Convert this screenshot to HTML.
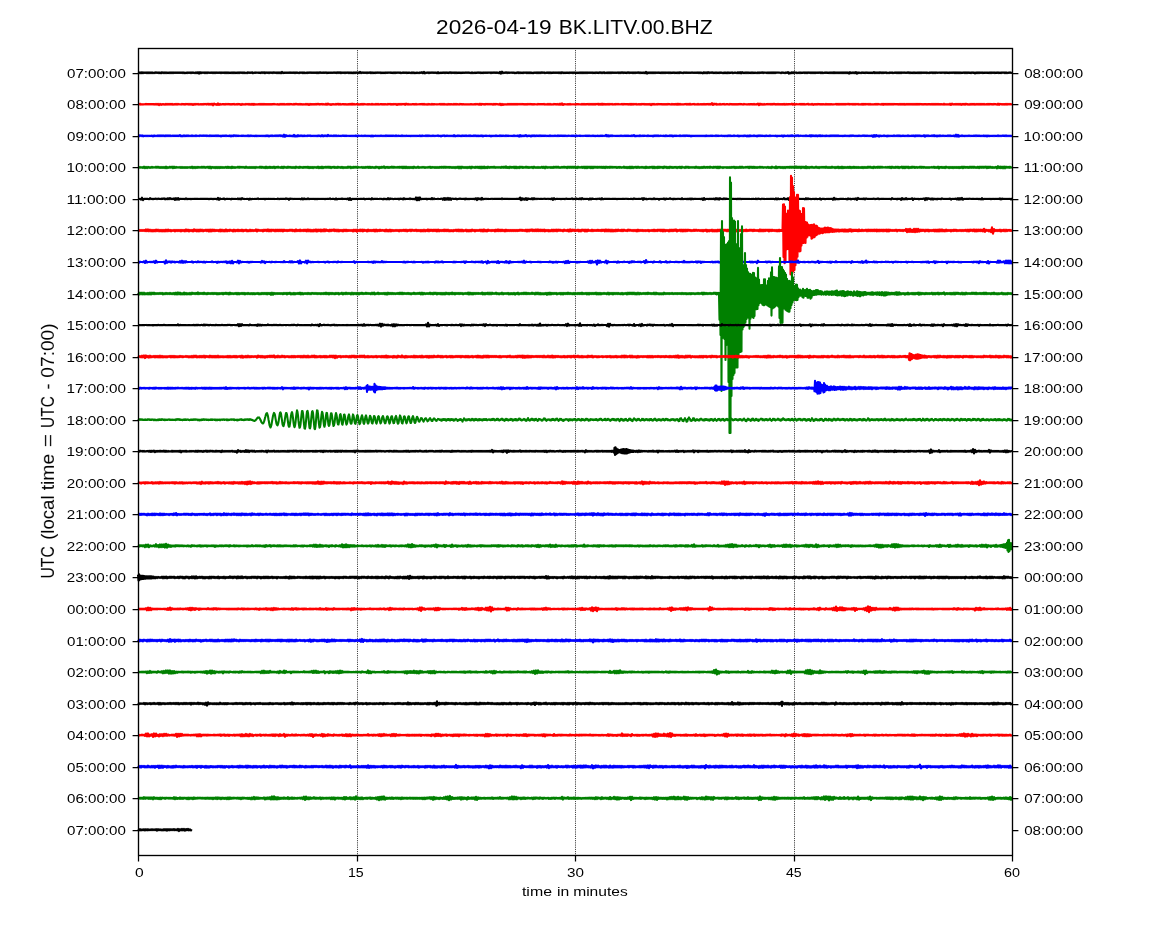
<!DOCTYPE html>
<html><head><meta charset="utf-8"><title>2026-04-19 BK.LITV.00.BHZ</title>
<style>html,body{margin:0;padding:0;background:#fff}svg{display:block;will-change:transform}text{font-family:"Liberation Sans",sans-serif;fill:#000}.tx{opacity:.999}.t{fill:none;stroke-width:2.08;stroke-linejoin:round;stroke-linecap:butt}.k{stroke:#000}.r{stroke:#f00}.b{stroke:#00f}.g{stroke:#008000}</style></head><body>
<svg width="1150" height="950" viewBox="0 0 1150 950">
<rect width="1150" height="950" fill="#fff"/>
<g stroke="#000" stroke-width="1" stroke-dasharray="0.72 1.13" fill="none"><path d="M357.5 855.5 V48.5"/><path d="M575.5 855.5 V48.5"/><path d="M794.5 855.5 V48.5"/></g>
<g>
<path class="t k" d="M138 72.5l1 .7 1-.9 1 1 1-1.1 1 1 1-.8 1 .6 1-.6 1 .8 1-.9 1 .9 1-.8 1 .7 1-.7 1 .8 1-.7 1 .6 1-.9 1 .8 1-.6 1 .8 1-.8 1 .9 1-1.1 1 .9 1-.8 1 .8 1-.7 1 .7 1-.6 1 .6 1-.7 1 .7 1-.7 1 .7 1-.7 1 .6 1-.6 1 .6 1-.6 1 .6 1-.6 1 .6 1-.6 1 .7 1-.7 1 .9 1-.8 1 .6 1-.7 1 .6 1-.6 1 .7 1-.7 1 .6 1-.5 1 .7 1-.9 1 .9 1-1 1 1.4 1-1.4 1 1.1 1-1 1 .7 1-.7 1 .9 1-.9 1 .8 1-.8 1 .7 1-.5 1 .5 1-.6 1 .7 1-.7 1 .7 1-.7 1 .6 1-.5 1 .5 1-.6 1 .7 1-.7 1 .6 1-.6 1 .7 1-.8 1 .8 1-.7 1 .7 1-.6 1 .6 1-.7 1 .8 1-.9 1 .8 1-.6 1 .6 1-.7 1 .7 1-.8 1 .7 1-.6 1 .7 1-.7 1 .8 1-.7 1 .7 1-1 1 .8 1-.6 1 .6 1-.8 1 1.1 1-.8 1 .5 1-.6 1 .5 1-.4 1 .5 1-.5 1 .6 1-.9 1 .9 1-.9 1 1.1 1-1 1 .7 1-.6 1 .7 1-.8 1 .7 1-.6 1 .7 1-.9 1 .8 1-.6 1 .8 1-.9 1 .9 1-.9 1 1 1-1.4 1 1.2 1-.6 1 .5 1-.5 1 .5 1-.5 1 .5 1-.6 1 .6 1-.5 1 .5 1-.6 1 .7 1-.7 1 .6 1-.5 1 .7 1-.9 1 .7 1-.7 1 .9 1-.8 1 .8 1-.7 1 .6 1-.7 1 .6 1-.7 1 .7 1-.6 1 .6 1-.6 1 .6 1-.6 1 .7 1-.8 1 .8 1-.9 1 .8 1-.5 1 .5 1-.6 1 .6 1-.7 1 .8 1-.6 1 .5 1-.5 1 .5 1-.5 1 .5 1-.7 1 .7 1-.6 1 .7 1-.9 1 .9 1-.9 1 1 1-.8 1 .6 1-.6 1 .7 1-.7 1 .6 1-.7 1 .9 1-.8 1 .8 1-.8 1 .9 1-1 1 .9 1-.9 1 .7 1-.6 1 .8 1-1.3 1 1.3 1-.9 1 .7 1-.6 1 .6 1-.6 1 .7 1-.7 1 .6 1-.8 1 1 1-.9 1 .8 1-.6 1 .6 1-.7 1 .6 1-.7 1 .7 1-.7 1 .8 1-.6 1 .6 1-.6 1 .6 1-.7 1 .6 1-.6 1 .5 1-.5 1 .6 1-.5 1 .6 1-.7 1 .7 1-.7 1 .6 1-.8 1 .8 1-.6 1 .8 1-.7 1 .5 1-.6 1 .6 1-.6 1 .7 1-.6 1 .5 1-.5 1 .7 1-.9 1 .8 1-.7 1 .9 1-.8 1 .6 1-.6 1 .7 1-.8 1 .6 1-.9 1 1.2 1-1.5 1 1.5 1-.8 1 .5 1-.7 1 .9 1-.8 1 .6 1-.7 1 .7 1-.6 1 .6 1-.6 1 .9 1-1.2 1 1.2 1-.8 1 .6 1-.6 1 .5 1-.6 1 .7 1-.7 1 .6 1-.5 1 .6 1-.9 1 .9 1-.7 1 .6 1-.6 1 .7 1-.7 1 .7 1-.6 1 .5 1-.5 1 .6 1-.6 1 .5 1-.5 1 .5 1-.7 1 .7 1-.7 1 .7 1-.5 1 .7 1-.8 1 .8 1-.7 1 .6 1-.6 1 .5 1-.7 1 .7 1-.6 1 .7 1-.6 1 .6 1-.7 1 .6 1-.6 1 .6 1-.6 1 .5 1-.5 1 .7 1-.7 1 .6 1-.7 1 .7 1-.6 1 .6 1-.5 1 .8 1-1.4 1 1.7 1-1.9 1 1.5 1-.7 1 .5 1-.8 1 .9 1-.7 1 .6 1-.5 1 .4 1-.5 1 .6 1-.6 1 .9 1-.8 1 .6 1-.9 1 1 1-.8 1 .7 1-.6 1 .6 1-.8 1 .7 1-.7 1 .9 1-.8 1 .8 1-.9 1 .8 1-.6 1 .8 1-.9 1 .6 1-.6 1 .7 1-.8 1 .8 1-.7 1 .7 1-.9 1 .8 1-.7 1 .9 1-.7 1 .5 1-.6 1 .7 1-.8 1 .8 1-.6 1 .5 1-.6 1 .6 1-.6 1 .6 1-.6 1 .7 1-.8 1 1 1-1.1 1 .9 1-.6 1 .6 1-.6 1 .5 1-.5 1 .6 1-.7 1 .6 1-.6 1 .8 1-.8 1 .6 1-.5 1 .6 1-.6 1 .6 1-.7 1 .7 1-.8 1 .9 1-.8 1 .7 1-.7 1 .7 1-.7 1 .6 1-.6 1 .6 1-.6 1 .7 1-.6 1 .6 1-.7 1 .6 1-.5 1 .6 1-.9 1 .9 1-.8 1 .8 1-.9 1 1 1-.7 1 .6 1-.7 1 .7 1-.8 1 .8 1-.7 1 .6 1-.5 1 .5 1-.5 1 .5 1-.7 1 .8 1-.7 1 .7 1-.9 1 .9 1-.7 1 .6 1-.5 1 .6 1-.9 1 .9 1-.7 1 .6 1-.6 1 .8 1-.8 1 .7 1-.7 1 .6 1-.8 1 .9 1-.7 1 .7 1-.6 1 .6 1-.7 1 .9 1-1.5 1 1.8 1-1.2 1 .7 1-.7 1 .7 1-.8 1 .9 1-.9 1 .8 1-.7 1 .6 1-.6 1 .6 1-.5 1 .6 1-.8 1 .8 1-.7 1 .7 1-.7 1 .6 1-.6 1 .7 1-.7 1 .7 1-.6 1 .5 1-.6 1 .7 1-.6 1 .6 1-.7 1 .8 1-1 1 .8 1-.5 1 .7 1-.9 1 .7 1-.6 1 .6 1-.5 1 .5 1-.5 1 .5 1-.7 1 .7 1-.5 1 .5 1-.5 1 .5 1-.6 1 .7 1-.7 1 .7 1-.6 1 .9 1-1.2 1 1 1-.9 1 1 1-1.2 1 1 1-.8 1 .7 1-.8 1 .9 1-.6 1 .6 1-.7 1 .7 1-.6 1 .6 1-.7 1 .6 1-.5 1 .8 1-.9 1 .8 1-.8 1 .9 1-1 1 .8 1-.6 1 .5 1-.7 1 1 1-.8 1 .5 1-.5 1 .7 1-1 1 1 1-1.1 1 1.3 1-1.3 1 1 1-.6 1 .6 1-.8 1 .8 1-.7 1 .7 1-.6 1 .6 1-.8 1 .8 1-.6 1 .6 1-.6 1 .7 1-.8 1 .7 1-.7 1 .6 1-.8 1 .9 1-.7 1 .5 1-.4 1 .6 1-.7 1 .8 1-.8 1 .7 1-.8 1 .8 1-.8 1 .8 1-.7 1 .5 1-.5 1 .5 1-.4 1 .7 1-.9 1 .7 1-.5 1 .7 1-.8 1 .6 1-1 1 1.7 1-1.2 1 .9 1-1.2 1 1 1-1 1 .7 1-.5 1 .8 1-.7 1 .6 1-.7 1 .7 1-.6 1 .5 1-.7 1 .8 1-.7 1 .8 1-.9 1 .7 1-.6 1 .7 1-.7 1 .7 1-.7 1 .8 1-.8 1 .6 1-.6 1 .6 1-.7 1 .8 1-.8 1 .9 1-.7 1 .5 1-.6 1 .6 1-.5 1 .6 1-.7 1 .7 1-.7 1 .8 1-1 1 1 1-.8 1 .7 1-.7 1 .8 1-.8 1 .7 1-.8 1 .9 1-.9 1 .8 1-.8 1 .8 1-.8 1 1.4 1-1.6 1 1.2 1-.9 1 .7 1-.8 1 1 1-1.3 1 1.7 1-1.3 1 .7 1-.6 1 .7 1-.8 1 .6 1-.5 1 .6 1-.7 1 .6 1-.5 1 .6 1-.6 1 .6 1-.6 1 .6 1-1 1 1.1 1-.8 1 .7 1-.7 1 .8 1-1 1 .9 1-.8 1 .8 1-.7 1 .6 1-.7 1 .9 1-.7 1 .7 1-.8 1 .6 1-.6 1 .8 1-.7 1 .5 1-.6 1 .7 1-.8 1 .9 1-.9 1 .8 1-.8 1 .7 1-.7 1 .7 1-.5 1 .5 1-.8 1 .9 1-.7 1 .7 1-.6 1 .6 1-.8 1 .8 1-.6 1 .6 1-.7 1 .8 1-.9 1 .8 1-.7 1 .6 1-.6 1 .6 1-.6 1 .7 1-.6 1 .7 1-.8 1 .6 1-.7 1 .8 1-.7 1 .7 1-.8 1 .7 1-.5 1 .4 1-.5 1 .6 1-.6 1 .5 1-.5 1 .7 1-.7 1 .6 1-.5 1 .6 1-.7 1 .6 1-.6 1 .6 1-.7 1 .9 1-.9 1 .8 1-.7 1 .8 1-.8 1 .7 1-.6 1 .5 1-.7 1 .8 1-.8 1 .8 1-.7 1 .6 1-.5 1 .6 1-.8 1 .7 1-.6 1 1 1-1 1 .8 1-.9 1 .8 1-.7 1 .6 1-.6 1 .7 1-.6 1 .5 1-.5 1 .5 1-.5 1 .6 1-.7 1 .7 1-.7 1 .6 1-.6 1 .7 1-.6 1 .5 1-.6 1 .7 1-.6 1 .6 1-.7 1 .5 1-.5 1 .8 1-.8 1 .8 1-.7 1 .5 1-.7 1 .7 1-.5"/>
<path class="t r" d="M138 103.9l1 .7 1-.9 1 1 1-.7 1 .7 1-.6 1 .4 1-.6 1 .6 1-.5 1 .5 1-.5 1 .5 1-.5 1 .5 1-.5 1 .6 1-.7 1 .8 1-.9 1 1.3 1-1.3 1 1.1 1-.9 1 .6 1-.6 1 .8 1-1 1 .9 1-.8 1 .7 1-.7 1 .7 1-.8 1 1 1-.8 1 .6 1-.7 1 .8 1-.8 1 .6 1-.4 1 .5 1-.7 1 .6 1-.5 1 .6 1-.8 1 .7 1-.6 1 .8 1-.8 1 .8 1-.8 1 1 1-1 1 .8 1-.8 1 .6 1-.6 1 .8 1-.7 1 .6 1-.6 1 .6 1-.7 1 .6 1-.7 1 .8 1-.9 1 1 1-.9 1 .9 1-1 1 1.6 1-1.8 1 1.1 1-.6 1 1 1-1.6 1 1.5 1-1 1 .8 1-.7 1 .5 1-.5 1 .6 1-.7 1 .6 1-.6 1 .6 1-.5 1 .6 1-.6 1 .5 1-.6 1 .8 1-.7 1 .6 1-.7 1 .6 1-.5 1 .9 1-1 1 .8 1-.7 1 .7 1-.8 1 .6 1-.6 1 .8 1-.8 1 .9 1-1 1 1.1 1-1.1 1 1 1-.8 1 .7 1-.7 1 .6 1-.7 1 .8 1-.8 1 .8 1-.8 1 .7 1-.6 1 .6 1-.6 1 .6 1-.6 1 .6 1-.6 1 .5 1-.6 1 .6 1-.4 1 .5 1-.6 1 .8 1-.9 1 .7 1-.7 1 .7 1-.7 1 .8 1-.7 1 .6 1-.7 1 .7 1-.7 1 .6 1-.5 1 .7 1-.8 1 .7 1-.9 1 .8 1-.5 1 .6 1-.7 1 .7 1-.6 1 .8 1-.8 1 .7 1-.8 1 .8 1-.8 1 1.1 1-1.2 1 .8 1-.6 1 .6 1-.6 1 .6 1-.7 1 .7 1-.9 1 .9 1-.6 1 .5 1-.6 1 .7 1-.6 1 .7 1-1 1 1.1 1-1.3 1 1.2 1-.7 1 .9 1-.9 1 .6 1-.6 1 .7 1-.8 1 .7 1-.9 1 1 1-.9 1 .9 1-.7 1 .5 1-.5 1 .6 1-.6 1 .8 1-.8 1 .6 1-.8 1 .9 1-1.1 1 1.1 1-.8 1 .8 1-.7 1 .5 1-.6 1 .9 1-.8 1 .6 1-.8 1 .9 1-.8 1 .6 1-.4 1 .5 1-.6 1 .6 1-.6 1 .7 1-.9 1 .9 1-.7 1 .7 1-.8 1 .7 1-.7 1 .8 1-.7 1 .5 1-.5 1 .6 1-.6 1 .6 1-.6 1 .7 1-.8 1 .6 1-.7 1 .8 1-.6 1 .6 1-.7 1 .6 1-.6 1 1 1-1 1 .7 1-.7 1 .8 1-.8 1 .6 1-.7 1 1.1 1-1.3 1 1 1-.7 1 .8 1-.7 1 .7 1-.7 1 .5 1-.5 1 .6 1-.7 1 .7 1-.5 1 .4 1-.5 1 .5 1-.6 1 .7 1-.8 1 .9 1-.7 1 .8 1-.9 1 .7 1-.6 1 .7 1-.8 1 .7 1-.6 1 .5 1-.4 1 .5 1-.5 1 .4 1-.6 1 .8 1-.8 1 .8 1-.9 1 .9 1-.7 1 .8 1-.9 1 .7 1-.6 1 .6 1-.6 1 .7 1-.8 1 .7 1-.7 1 .7 1-.6 1 .7 1-.8 1 .6 1-.5 1 .6 1-.6 1 .7 1-.7 1 .7 1-.7 1 .7 1-.7 1 .6 1-.6 1 .7 1-.7 1 .6 1-.7 1 .6 1-.6 1 .9 1-1.1 1 1.2 1-1.1 1 .7 1-.5 1 .6 1-.8 1 .7 1-.6 1 .6 1-.6 1 .6 1-.6 1 .9 1-1 1 .8 1-.8 1 .7 1-.5 1 .8 1-1.1 1 1.4 1-1.3 1 1.2 1-1 1 .7 1-.6 1 .6 1-.8 1 .7 1-.7 1 .7 1-.7 1 .7 1-.7 1 .7 1-.7 1 .7 1-.7 1 .6 1-.6 1 .6 1-.6 1 .6 1-.5 1 .6 1-.6 1 .6 1-.7 1 .6 1-.6 1 .6 1-.5 1 .6 1-.6 1 .5 1-.4 1 .5 1-.7 1 .6 1-.5 1 .5 1-.5 1 .5 1-.6 1 .8 1-.7 1 .7 1-.8 1 .8 1-.8 1 .8 1-.6 1 .5 1-.7 1 .6 1-.5 1 .6 1-.7 1 .9 1-1.2 1 1.2 1-1.5 1 1.7 1-1 1 .5 1-.4 1 .5 1-.6 1 .6 1-.7 1 .7 1-.5 1 .4 1-.4 1 .5 1-.6 1 .5 1-.5 1 .5 1-.4 1 .5 1-.7 1 .7 1-.7 1 .7 1-.6 1 .5 1-.6 1 .8 1-.8 1 .7 1-.7 1 .8 1-.8 1 .8 1-.9 1 .7 1-.8 1 1.1 1-1 1 1 1-1.2 1 1.2 1-1 1 .8 1-.6 1 .6 1-.7 1 .8 1-.8 1 .6 1-.6 1 .8 1-.7 1 .6 1-.7 1 .6 1-.6 1 .6 1-.4 1 .4 1-.6 1 .7 1-.7 1 .6 1-.5 1 .5 1-.5 1 .6 1-.8 1 1 1-1 1 .9 1-.8 1 .6 1-.6 1 .8 1-.7 1 .6 1-.6 1 .6 1-.8 1 .7 1-.6 1 .7 1-.6 1 .6 1-.6 1 .6 1-.7 1 1.2 1-1.3 1 .8 1-.7 1 .8 1-.7 1 .6 1-.7 1 .6 1-.5 1 .5 1-.5 1 .6 1-.6 1 .6 1-.6 1 .6 1-.7 1 .6 1-.5 1 .7 1-.8 1 .7 1-.6 1 .6 1-.8 1 1 1-1.1 1 1 1-.9 1 .9 1-.7 1 .7 1-.7 1 .5 1-.7 1 .9 1-.8 1 .8 1-1 1 1 1-.7 1 .5 1-.7 1 .9 1-.7 1 .7 1-.8 1 .8 1-.7 1 .6 1-.6 1 .6 1-.7 1 .7 1-.6 1 .5 1-.6 1 .7 1-.7 1 .8 1-1.5 1 1.8 1-1.5 1 1.1 1-.9 1 1.1 1-.8 1 .7 1-.9 1 .9 1-.7 1 .5 1-.6 1 .8 1-.7 1 .5 1-.5 1 .7 1-.8 1 .6 1-.5 1 .6 1-.6 1 .6 1-.6 1 .6 1-.6 1 .5 1-.6 1 .6 1-.5 1 .7 1-.8 1 .6 1-.4 1 .6 1-.7 1 .6 1-.6 1 .5 1-.5 1 .6 1-.7 1 .8 1-.7 1 .6 1-1.1 1 1.6 1-1.4 1 1 1-.8 1 .9 1-.9 1 .8 1-.7 1 .5 1-.6 1 .6 1-.6 1 .7 1-.7 1 .7 1-.9 1 .9 1-.6 1 .6 1-.7 1 .7 1-.6 1 .6 1-.6 1 .6 1-.8 1 1 1-.9 1 .7 1-.6 1 .5 1-.5 1 .5 1-.9 1 1.2 1-1 1 1 1-.9 1 .6 1-.4 1 .4 1-.6 1 .7 1-.8 1 .8 1-.8 1 .9 1-.7 1 .5 1-.8 1 1 1-.7 1 .7 1-.9 1 1.1 1-.9 1 .6 1-.6 1 .6 1-.7 1 .6 1-.5 1 .6 1-.6 1 .6 1-.6 1 .7 1-.8 1 .7 1-.6 1 .6 1-.6 1 .6 1-.6 1 .7 1-.6 1 .4 1-.7 1 .8 1-.8 1 .9 1-.8 1 .7 1-.7 1 .7 1-.7 1 .7 1-.7 1 .6 1-.8 1 .9 1-.7 1 .6 1-.6 1 .8 1-.8 1 .8 1-.8 1 .6 1-.6 1 .8 1-.7 1 .7 1-.9 1 1 1-1 1 .8 1-.7 1 .6 1-.6 1 .8 1-.8 1 .8 1-.7 1 .7 1-.7 1 .6 1-.7 1 .7 1-.7 1 .6 1-.4 1 .6 1-.9 1 1.1 1-1.1 1 .8 1-.7 1 .8 1-.9 1 .8 1-.7 1 .7 1-.7 1 .7 1-.7 1 .6 1-.5 1 .5 1-.5 1 .6 1-.8 1 .9 1-.8 1 .8 1-.9 1 1 1-.9 1 .7 1-.7 1 .7 1-.7 1 .7 1-.7 1 .8 1-.8 1 .8 1-.9 1 .9 1-.9 1 .8 1-.7 1 .6 1-.5 1 .6 1-.6 1 .5 1-.5 1 .6 1-.6 1 .5 1-.5 1 .6 1-.7 1 .8 1-.8 1 .8 1-.8 1 .7 1-.7 1 .7 1-.6 1 .6 1-.6 1 .7 1-1 1 1 1-.7 1 .7 1-.7 1 .7 1-1 1 1.3 1-1.5 1 1.2 1-.7 1 .6 1-.7 1 .7 1-.7 1 .8 1-.9 1 1.1 1-1 1 .7 1-.8 1 1 1-1.1 1 .9 1-.6 1 .8 1-.9 1 .8 1-.9 1 .8 1-.8 1 1 1-.9 1 .7 1-.7 1 .8 1-.9 1 .9 1-.8 1 .7 1-.7 1 .8 1-.7 1 .6 1-.8 1 .8 1-.7 1 .6 1-.5 1 .6 1-.7 1 .6 1-.5 1 .8 1-1.2 1 1.3 1-1.1 1 .7 1-.5 1 .6 1-.6 1 .6 1-.8 1 .9 1-.8 1 .6 1-.6 1 .6 1-.5"/>
<path class="t b" d="M138 135.6l1 .8 1-1.2 1 .9 1-.8 1 1.1 1-.8 1 .6 1-.7 1 .8 1-.8 1 .7 1-.6 1 .5 1-.6 1 .9 1-1 1 .8 1-.7 1 .7 1-.8 1 .8 1-.9 1 .9 1-.8 1 .7 1-.7 1 .9 1-1 1 .8 1-.7 1 .7 1-.7 1 .8 1-.7 1 .6 1-.6 1 .6 1-.6 1 .6 1-.6 1 .6 1-1 1 1.2 1-.7 1 .7 1-1 1 1 1-.9 1 .8 1-.8 1 .8 1-.7 1 .7 1-.8 1 .8 1-.7 1 .7 1-.9 1 .8 1-.5 1 .5 1-.8 1 .7 1-.5 1 .5 1-.6 1 .6 1-.6 1 .7 1-.6 1 .7 1-.9 1 .8 1-.6 1 .6 1-.6 1 .6 1-.7 1 .8 1-.8 1 .8 1-.7 1 1 1-1 1 .6 1-.6 1 .6 1-.7 1 .7 1-.5 1 .6 1-.8 1 1.1 1-1.1 1 .9 1-1.1 1 .9 1-.7 1 .7 1-.6 1 .6 1-.5 1 .5 1-.6 1 .6 1-.6 1 .7 1-.7 1 .7 1-.9 1 1 1-.9 1 .7 1-.6 1 .7 1-.6 1 .7 1-.9 1 .9 1-.8 1 .7 1-.6 1 .6 1-.7 1 .8 1-.8 1 .8 1-.9 1 .8 1-.8 1 1 1-.9 1 .6 1-.7 1 .8 1-.7 1 .6 1-.7 1 .7 1-.7 1 .7 1-.9 1 1 1-.8 1 1.3 1-2 1 2.1 1-1.7 1 1.1 1-.6 1 .6 1-.8 1 .9 1-.7 1 .7 1-1.5 1 1.8 1-1.1 1 1.1 1-1.5 1 1.2 1-.9 1 .7 1-.7 1 .9 1-.9 1 .8 1-.7 1 .7 1-.8 1 .6 1-.6 1 .8 1-.6 1 .6 1-.7 1 .7 1-.7 1 .8 1-.9 1 .7 1-.6 1 .9 1-1.3 1 1.3 1-1 1 .7 1-.7 1 .9 1-1.5 1 1.4 1-.7 1 .6 1-.6 1 .7 1-.8 1 .7 1-.7 1 .8 1-.7 1 .6 1-.5 1 .6 1-.7 1 .5 1-.5 1 .6 1-.6 1 .6 1-.5 1 .5 1-.5 1 .6 1-.7 1 .7 1-.7 1 .7 1-.8 1 .9 1-.9 1 .7 1-.5 1 .5 1-.6 1 .7 1-.7 1 .6 1-.6 1 .7 1-.7 1 .7 1-.6 1 .8 1-1 1 1 1-.8 1 .5 1-.6 1 .7 1-.7 1 .7 1-.7 1 .6 1-.6 1 .7 1-.7 1 .7 1-.8 1 .7 1-.6 1 .6 1-.6 1 .6 1-.6 1 .6 1-.6 1 .7 1-.8 1 .8 1-.7 1 .6 1-.5 1 .6 1-.8 1 .8 1-.7 1 .7 1-.7 1 .6 1-.5 1 .6 1-.6 1 .7 1-.8 1 .7 1-.7 1 .7 1-.7 1 .7 1-.6 1 .5 1-.7 1 .9 1-.9 1 .7 1-.5 1 .5 1-.7 1 .8 1-.8 1 .7 1-.6 1 .7 1-.7 1 .6 1-.6 1 .7 1-.6 1 .4 1-.6 1 .7 1-.5 1 .8 1-.9 1 .5 1-.7 1 1 1-.8 1 .6 1-.6 1 .7 1-.7 1 .7 1-.7 1 .8 1-1.2 1 1.4 1-1 1 .7 1-.8 1 .7 1-.6 1 .8 1-.9 1 .7 1-.6 1 .6 1-.7 1 .8 1-.7 1 .6 1-.8 1 .9 1-.6 1 .6 1-.8 1 .7 1-.7 1 .9 1-.9 1 .9 1-.8 1 .6 1-.8 1 1.2 1-.9 1 .4 1-.5 1 .6 1-.5 1 .5 1-.6 1 .9 1-.9 1 .7 1-.7 1 .7 1-.8 1 .8 1-.6 1 .5 1-.8 1 .8 1-.6 1 .6 1-.6 1 .7 1-.8 1 .7 1-.6 1 .6 1-.5 1 .5 1-.5 1 .6 1-.8 1 .8 1-.7 1 .7 1-.8 1 1.2 1-1.6 1 1.5 1-1.1 1 .9 1-.9 1 .8 1-1.2 1 1.4 1-.9 1 .6 1-.6 1 1.1 1-1.3 1 .9 1-.9 1 1 1-.9 1 .7 1-.6 1 .6 1-.8 1 .8 1-.6 1 .6 1-.6 1 .6 1-.6 1 .7 1-.6 1 .6 1-.8 1 .8 1-.7 1 .7 1-.7 1 .6 1-.6 1 .7 1-.8 1 .7 1-.6 1 .5 1-.5 1 .6 1-.6 1 .6 1-.6 1 .7 1-.7 1 .5 1-.4 1 .5 1-.6 1 .6 1-.6 1 .8 1-1 1 .9 1-.6 1 .4 1-.5 1 .6 1-.5 1 .5 1-.5 1 .4 1-.5 1 .6 1-.6 1 .6 1-.6 1 .7 1-.7 1 .6 1-.6 1 .8 1-.7 1 .5 1-.6 1 .8 1-.8 1 .6 1-.6 1 .6 1-.5 1 .5 1-1.2 1 1.4 1-1.1 1 1.3 1-1.1 1 .7 1-.8 1 .8 1-.5 1 .5 1-.5 1 .6 1-.6 1 .6 1-.7 1 .6 1-.6 1 .7 1-.7 1 .6 1-.6 1 .6 1-.6 1 .6 1-.5 1 .6 1-.8 1 .7 1-1 1 1.2 1-.7 1 .7 1-.8 1 .8 1-1 1 .9 1-.7 1 .6 1-.6 1 .5 1-.4 1 .6 1-.8 1 .7 1-.5 1 .6 1-.6 1 .8 1-1 1 .7 1-.7 1 .7 1-.7 1 .8 1-.7 1 .5 1-.4 1 .5 1-.6 1 .8 1-1 1 .9 1-.6 1 .5 1-.8 1 .8 1-.8 1 1.2 1-1 1 .6 1-.6 1 .6 1-.5 1 .5 1-.8 1 .9 1-.7 1 .6 1-.7 1 .8 1-.8 1 .6 1-.5 1 .6 1-.6 1 .9 1-.9 1 .7 1-.6 1 .6 1-.7 1 .7 1-.7 1 .7 1-.7 1 .7 1-.7 1 .7 1-.7 1 .8 1-.9 1 .8 1-.7 1 .7 1-.7 1 .6 1-.6 1 .6 1-.5 1 .5 1-.7 1 .7 1-.6 1 .6 1-.5 1 .4 1-.5 1 .7 1-.6 1 .7 1-.8 1 .8 1-.9 1 .7 1-.7 1 .8 1-.6 1 .5 1-.7 1 .7 1-.5 1 .5 1-.7 1 1 1-.9 1 .7 1-.7 1 .8 1-.9 1 .7 1-.6 1 1 1-1.1 1 1 1-1.1 1 1 1-.8 1 .7 1-.8 1 .8 1-.7 1 .9 1-1 1 .7 1-.7 1 .7 1-.6 1 .6 1-.5 1 .7 1-.9 1 .7 1-.5 1 .6 1-.8 1 .7 1-.5 1 .4 1-.4 1 .5 1-.6 1 .9 1-.8 1 .6 1-.6 1 .5 1-.7 1 1.2 1-1.2 1 .8 1-.6 1 .5 1-.7 1 .9 1-.9 1 .8 1-1 1 1 1-.7 1 .6 1-.7 1 .7 1-.9 1 1 1-.7 1 .5 1-.4 1 .6 1-.7 1 .7 1-.9 1 .9 1-.6 1 .6 1-1 1 1.3 1-1.3 1 1 1-.8 1 .9 1-1 1 1.1 1-1 1 .8 1-1 1 1.1 1-.9 1 .8 1-.7 1 .8 1-.9 1 .8 1-.7 1 .8 1-.9 1 .8 1-.8 1 .7 1-.7 1 .8 1-.8 1 .8 1-.8 1 .8 1-.6 1 .6 1-.6 1 .7 1-.8 1 .6 1-.6 1 .7 1-.7 1 .8 1-.9 1 .7 1-.7 1 .6 1-.5 1 .7 1-.7 1 .8 1-.8 1 .6 1-.6 1 .7 1-.7 1 .5 1-.6 1 .7 1-.6 1 .6 1-.6 1 .7 1-.7 1 .7 1-.8 1 1.4 1-1.8 1 1.6 1-1.6 1 1.3 1-.9 1 1.3 1-1.3 1 .9 1-.7 1 .5 1-.7 1 .8 1-.6 1 .8 1-1 1 .9 1-.8 1 .7 1-.6 1 .6 1-.8 1 .8 1-.7 1 .6 1-.8 1 .9 1-.8 1 .9 1-.8 1 .6 1-.6 1 .8 1-.8 1 .7 1-.9 1 .9 1-.6 1 .5 1-.6 1 .6 1-.7 1 1 1-1.1 1 .9 1-.8 1 .7 1-.7 1 .9 1-.7 1 .6 1-1 1 1.5 1-1.4 1 .9 1-.9 1 .9 1-.6 1 .5 1-.7 1 .8 1-1.1 1 1.2 1-.9 1 1 1-1 1 .9 1-1 1 .9 1-.7 1 .6 1-.6 1 .7 1-.6 1 .5 1-.7 1 .7 1-.7 1 .8 1-.6 1 .5 1-.7 1 1 1-1.7 1 1.9 1-1.7 1 1.7 1-1.1 1 .7 1-.8 1 .8 1-.6 1 .7 1-.8 1 .7 1-.7 1 .6 1-.6 1 .7 1-.6 1 .5 1-.6 1 .6 1-.7 1 .7 1-.6 1 .6 1-.6 1 .8 1-.8 1 .7 1-.8 1 .9 1-.9 1 1 1-1 1 .9 1-.7 1 .5 1-.5 1 .6 1-.7 1 .7 1-.6 1 .5 1-.7 1 .8 1-.7 1 .7 1-.7 1 .5 1-.5 1 .6 1-.7 1 .8 1-.7 1 .7 1-.7 1 .7 1-.8"/>
<path class="t g" d="M138 166.7l1 1.1 1-.9 1 .9 1-.8 1 1 1-1.4 1 1.5 1-1.3 1 1.3 1-1.3 1 1.1 1-.9 1 .9 1-1.1 1 1 1-.8 1 .7 1-1 1 1.1 1-1.1 1 1.2 1-1 1 1.1 1-1.1 1 1 1-1 1 1.2 1-1.4 1 1.5 1-1.2 1 .9 1-1.2 1 1.1 1-1.2 1 1.6 1-1.5 1 1.3 1-1.2 1 1 1-.8 1 .8 1-.9 1 1 1-1 1 1 1-.9 1 1 1-1 1 1 1-1 1 .8 1-.9 1 1 1-1.3 1 1.5 1-1.2 1 1.2 1-1.2 1 1 1-1.1 1 1 1-.9 1 .9 1-1.1 1 1.1 1-1.1 1 1.2 1-1 1 .8 1-1 1 1.4 1-1.5 1 1.7 1-1.5 1 1.1 1-1 1 1.2 1-1.2 1 1.3 1-1.3 1 1.2 1-1.3 1 1.2 1-1.1 1 1 1-.9 1 .9 1-1.1 1 1.2 1-1.3 1 1.3 1-1.1 1 1.2 1-1.4 1 1.3 1-1.1 1 1.1 1-1 1 .7 1-1 1 1.2 1-1.2 1 1 1-.9 1 .9 1-.8 1 1 1-1.3 1 1.4 1-1 1 1 1-1.1 1 1 1-1 1 1 1-1 1 1.2 1-1.2 1 .9 1-.8 1 .8 1-1.2 1 1.4 1-1.3 1 1.2 1-1 1 1.2 1-1.4 1 1.4 1-1.2 1 1 1-1.2 1 1.3 1-1.2 1 1.2 1-1.5 1 1.7 1-1.4 1 1 1-1.2 1 1.2 1-.8 1 1 1-1.3 1 1.4 1-1.4 1 1.1 1-.9 1 1.1 1-1.4 1 1.2 1-1 1 1.1 1-1 1 1.1 1-1.1 1 1.2 1-1.5 1 1.2 1-.9 1 1.1 1-1.3 1 1.1 1-.9 1 1 1-1.1 1 1 1-1 1 1.1 1-1.2 1 1.4 1-1.3 1 1.2 1-1.2 1 1.3 1-1.2 1 .9 1-.9 1 1.1 1-1.4 1 1.5 1-1.3 1 1.3 1-1.5 1 1.6 1-1.4 1 1 1-1.1 1 1.1 1-1.2 1 1.3 1-1.2 1 1.4 1-1.3 1 .9 1-1 1 1.3 1-1.1 1 1.1 1-1.3 1 1.1 1-.9 1 1 1-1.1 1 1.3 1-1.1 1 .9 1-.9 1 1 1-1.5 1 1.3 1-1.2 1 1.5 1-1.2 1 1 1-1.2 1 1.1 1-1.1 1 1.2 1-1 1 .8 1-.7 1 .7 1-.8 1 1.1 1-1.1 1 1 1-1.1 1 1 1-1.1 1 1.3 1-1.3 1 1.3 1-1.2 1 1.1 1-.9 1 1.1 1-1.4 1 1 1-.8 1 1.4 1-1.5 1 1.2 1-1.3 1 1.1 1-1.5 1 1.8 1-1.3 1 1.1 1-1.1 1 1.2 1-1.2 1 1 1-1.3 1 1.4 1-1.2 1 1.1 1-.9 1 .9 1-1 1 1.1 1-1.2 1 1.2 1-1.3 1 1.6 1-1.5 1 1.4 1-1.4 1 1.4 1-1.3 1 1.4 1-1.3 1 1.1 1-1.2 1 1.4 1-1.6 1 1.3 1-.9 1 .9 1-1.4 1 1.5 1-1 1 .8 1-.9 1 .8 1-.8 1 1.1 1-1 1 .8 1-.9 1 .8 1-1 1 1.3 1-1.2 1 1 1-.9 1 1 1-1 1 1.1 1-1.1 1 1 1-1.1 1 1.1 1-1.2 1 1.2 1-1.3 1 1.3 1-1.2 1 1.1 1-1 1 1.1 1-1.1 1 1.1 1-1 1 1.1 1-1.1 1 1.2 1-1.2 1 1 1-1.3 1 1.7 1-1.6 1 1.6 1-1.7 1 1.4 1-1.1 1 1 1-1 1 1.2 1-1.2 1 1 1-1.2 1 1.6 1-1.7 1 1.2 1-.9 1 1.1 1-1.3 1 1.2 1-1.2 1 1.4 1-1.4 1 1.6 1-1.7 1 1.6 1-1.7 1 1.6 1-1.3 1 1.4 1-1.6 1 1.4 1-1.2 1 1 1-1 1 1 1-1.2 1 1.3 1-1 1 .9 1-.9 1 .9 1-.9 1 1 1-1.2 1 1.2 1-1.3 1 1.3 1-1.5 1 1.6 1-1.2 1 1.3 1-1.5 1 1.3 1-1.1 1 1.1 1-1.3 1 1.5 1-1.5 1 1.5 1-1.2 1 1.2 1-1.5 1 1.2 1-1.1 1 1.3 1-1.1 1 .9 1-1.2 1 1.3 1-1.1 1 1.2 1-1.1 1 .9 1-1 1 1.3 1-1.4 1 1.2 1-.9 1 .9 1-1 1 1 1-.9 1 .9 1-1.2 1 1.3 1-1.3 1 1.6 1-1.7 1 1.4 1-1.1 1 .9 1-.9 1 1 1-1 1 1.1 1-1.3 1 1.1 1-1.2 1 1.2 1-1.2 1 1.3 1-.9 1 .9 1-1.1 1 1 1-1.2 1 1.2 1-1 1 1.3 1-1.4 1 1.2 1-1.3 1 1.3 1-1.3 1 1.4 1-1.4 1 1.4 1-1.2 1 1.3 1-1.4 1 1.1 1-.9 1 .9 1-1.1 1 1.3 1-1.4 1 1.5 1-1.4 1 1.5 1-1.6 1 1.3 1-1.4 1 1.6 1-1.5 1 1.5 1-1.4 1 1.1 1-1.1 1 1.2 1-1.2 1 1.1 1-1.1 1 1.2 1-1.2 1 1.3 1-1.3 1 1.4 1-1.4 1 1.2 1-1.1 1 1.1 1-1.3 1 1.2 1-1.1 1 1.1 1-1 1 .9 1-.9 1 1.2 1-1.2 1 1.1 1-1.1 1 1.1 1-.9 1 .8 1-1.3 1 1.5 1-1.2 1 1.4 1-1.4 1 1.3 1-1.5 1 1.6 1-1.5 1 1.4 1-1.3 1 1 1-1.1 1 1.3 1-1.4 1 1.3 1-1 1 .9 1-1 1 1.1 1-1 1 1.2 1-1.4 1 1.3 1-1.1 1 1 1-1.1 1 1 1-1.2 1 1.5 1-1.5 1 1.5 1-1.2 1 1.2 1-1.4 1 1.3 1-1.3 1 1.1 1-1 1 1.4 1-1.7 1 1.3 1-1.1 1 1.4 1-1.3 1 1.3 1-1.4 1 1.2 1-1.1 1 1.2 1-1.2 1 1 1-1 1 1.3 1-1.3 1 1.1 1-1.2 1 1.4 1-1.4 1 1 1-.7 1 1.1 1-1.5 1 1.2 1-1.1 1 1.3 1-1.1 1 .9 1-.9 1 .9 1-.9 1 1 1-1.3 1 1.3 1-1 1 1.2 1-1.1 1 1.1 1-1.3 1 1.2 1-1.4 1 1.4 1-1.2 1 1.1 1-1.1 1 1.1 1-1.4 1 1.3 1-.9 1 1 1-1.2 1 1.1 1-1.1 1 1.4 1-1.5 1 1.5 1-1.4 1 1.1 1-.8 1 1.1 1-1.1 1 .8 1-.8 1 1 1-1 1 .9 1-1 1 1 1-1.1 1 1 1-1.1 1 1.4 1-1.3 1 1.2 1-1.1 1 1.1 1-1.5 1 1.5 1-1.4 1 1.3 1-.9 1 .8 1-1 1 .9 1-1 1 1.4 1-1.5 1 1.3 1-1.2 1 1.3 1-1.3 1 1.3 1-1.1 1 1 1-1 1 .9 1-1.1 1 1.1 1-1 1 1.1 1-.9 1 .8 1-.8 1 .9 1-1.1 1 1.2 1-1 1 1.2 1-1.5 1 1.1 1-.8 1 1.2 1-1.8 1 1.8 1-1.4 1 1 1-1 1 1.2 1-1.2 1 1.3 1-1.2 1 1.3 1-1.4 1 1 1-1 1 1.1 1-1.3 1 1.4 1-1.4 1 1.3 1-1.2 1 1.3 1-1.6 1 1.6 1-1.5 1 1.5 1-1.5 1 1.7 1-1.6 1 1.3 1-1.2 1 1.4 1-1.7 1 1.7 1-1.2 1 1.2 1-1.3 1 1 1-1.1 1 1.2 1-.9 1 .9 1-1.3 1 1.3 1-1 1 1.3 1-1.3 1 .9 1-1 1 1 1-1 1 1.1 1-1.3 1 1.3 1-1 1 1 1-1 1 1.1 1-1.4 1 1.2 1-.9 1 1.3 1-1.3 1 1 1-1.3 1 1.5 1-1.3 1 1.3 1-1.5 1 1.6 1-1.4 1 1.2 1-1.1 1 1 1-1.1 1 1.2 1-1.3 1 1.4 1-1.2 1 1.1 1-1.3 1 1.3 1-1.2 1 1.2 1-1.2 1 1.2 1-1 1 1 1-1.2 1 1.3 1-1.2 1 1 1-1 1 1 1-1.3 1 1.2 1-1.2 1 1.3 1-1 1 1.3 1-1.6 1 1.4 1-1.2 1 1.1 1-1.3 1 1.3 1-1.3 1 1.2 1-1.1 1 1 1-.7 1 .7 1-.8 1 .9 1-1 1 1.1 1-1.2 1 1.4 1-1.5 1 1.4 1-1.1 1 1.1 1-1.3 1 1.2 1-1.2 1 1.4 1-1.2 1 .9 1-1.3 1 1.6 1-1.5 1 1.5 1-1.4 1 1.2 1-1.3 1 1.5 1-1.2 1 1 1-1.4 1 1.3 1-1.1 1 1.3 1-1.2 1 1.1 1-1 1 .9 1-1.2 1 1.4 1-1.3 1 1.2 1-1.1 1 1.1 1-.9 1 .9 1-.9 1 .9 1-.9 1 .7 1-.8 1 .9 1-1.1 1 1.3 1-1.1 1 1 1-1.3 1 1.8 1-1.6 1 1.1 1-1.1 1 1.2 1-1.2 1 1.3 1-1.4 1 1.1 1-.9 1 1.2 1-1.2 1 1.1 1-1.2 1 1.3 1-1.2 1 1.1 1-1.2 1 1.2 1-1.2 1 1.4 1-1.4 1 1.2 1-1.4 1 1.5 1-1.5 1 1.3 1-1.1 1 1.1 1-1.1 1 1.2 1-1.4 1 1.4 1-1.4 1 1.4 1-1.5 1 1.4 1-1 1 1 1-1.2 1 1.4 1-1.5 1 1.4 1-1.4 1 1.4 1-1.4 1 1.2 1-1.3 1 1.6 1-1.4 1 1.3 1-1.4 1 1.4 1-1.2 1 1.2 1-1 1 .9 1-1.1 1 1.5 1-2.1 1 1.9 1-1.6 1 1.6 1-1.4 1 1.6 1-1.8 1 1.8 1-1.6 1 1.1 1-1 1 1.1 1-1.2 1 1.1 1-1"/>
<path class="t k" d="M138 198.9l1 .1 1-.1 1 .7 1-2 1 2.6 1-1.3 1 0 1 0 1 0 1 0 1 .4 1-1.2 1 1 1-.4 1 .6 1-.5 1 .2 1-.5 1 .7 1-.7 1 .5 1-.3 1 .4 1-.6 1 .5 1-.7 1 1.1 1-.9 1 .8 1-1.1 1 1 1-1.2 1 1.2 1-.6 1 .6 1-.9 1 1.6 1-1.8 1 1.5 1-1.6 1 1.7 1-1.1 1 .4 1-.2 1 .2 1-.2 1 .4 1-.8 1 .8 1-.5 1 .4 1-.4 1 .5 1-.4 1 .2 1-.2 1 .1 1 0 1 0 1 0 1 .1 1-.1 1 0 1 0 1 0 1 0 1 0 1 0 1 0 1-.1 1 .5 1-.5 1 .1 1-.1 1 .4 1-.5 1 .3 1-.2 1 .6 1-1.6 1 2 1-1.5 1 .8 1-.2 1 .1 1-.6 1 1.1 1-.7 1 .1 1 0 1 .1 1-.2 1 .6 1-.8 1 .4 1-.1 1 .1 1-.1 1 .2 1-.7 1 .9 1-.9 1 1 1-1.3 1 .9 1-.3 1 .4 1-.2 1 .1 1-.3 1 1 1-1.2 1 .9 1-.6 1 .3 1-.2 1 .1 1-.1 1 .1 1-.6 1 .7 1-.2 1 .1 1-.1 1 .1 1-.3 1 .7 1-.7 1 .3 1-.1 1 0 1-.2 1 .3 1-.1 1 .1 1-.3 1 .4 1-.2 1 .2 1-.6 1 .7 1-.4 1 .1 1 0 1 0 1-.1 1 .3 1-.7 1 .6 1-.4 1 1.2 1-1.3 1 .5 1-.4 1 .5 1-.4 1 .3 1-.1 1 .1 1-.1 1 .1 1-.2 1 .6 1-1.1 1 1.2 1-1.1 1 .8 1-.4 1 .4 1-.8 1 .8 1-.4 1 .2 1-.2 1 .2 1-.3 1 .5 1-.5 1 .6 1-.5 1 .2 1-.1 1 .1 1-.2 1 .2 1-.2 1 .4 1-.5 1 .2 1 0 1 .1 1-.6 1 .7 1-.2 1 0 1-.1 1 .7 1-1.2 1 1.2 1-.7 1 .2 1-.1 1 .1 1-.5 1 .6 1-.3 1 .2 1-.3 1 .5 1-.8 1 1.5 1-1.8 1 1.9 1-1.2 1 .3 1-.4 1 .4 1-.4 1 .3 1-.1 1 .1 1-.1 1 0 1 0 1 .1 1-.5 1 .9 1-.6 1 .2 1-.1 1 0 1-.1 1 .7 1-1.3 1 1 1-.4 1 .1 1 0 1 0 1 0 1 .2 1-.5 1 .4 1-.2 1 .6 1-.9 1 .7 1-.4 1 .6 1-1.3 1 1.4 1-1.1 1 .6 1-.4 1 .6 1-.3 1 0 1 0 1 .1 1-.4 1 .8 1-.9 1 .5 1-.4 1 .9 1-1.3 1 1.1 1-.5 1 .2 1-.2 1 .3 1-.8 1 .8 1-.3 1 .4 1-.4 1 .6 1-2 1 2.9 1-2.7 1 2.6 1-2.8 1 2 1-.6 1 .3 1-.4 1 .3 1-.4 1 .8 1-.7 1 .3 1-.2 1 .5 1-1.3 1 1.3 1-.9 1 .7 1-.2 1 .2 1-.5 1 .5 1-.2 1 0 1-.4 1 1.3 1-1.8 1 1.9 1-1.8 1 1.6 1-1.8 1 1.9 1-1.7 1 1.7 1-1.3 1 .4 1 0 1 .1 1-.5 1 .9 1-.6 1 .2 1-.5 1 .5 1-.3 1 .3 1-.4 1 .9 1-1.1 1 .9 1-.6 1 .5 1-.5 1 .3 1-.2 1 .3 1-.5 1 .7 1-1.1 1 1.9 1-1.9 1 1.1 1-.9 1 1.2 1-1.7 1 1.5 1-.6 1 .3 1-.5 1 .5 1-.3 1 .3 1-.2 1 .1 1-.4 1 .5 1-.3 1 .1 1 0 1 0 1 0 1 0 1-.1 1 .3 1-.7 1 .7 1-.3 1 .1 1 0 1 0 1-.1 1 .3 1-.3 1 .2 1-.1 1 .1 1-.1 1 .1 1-.1 1 0 1-.1 1 .3 1-1.6 1 2.7 1-2 1 1.5 1-1.2 1 1.3 1-1.7 1 1.9 1-1.6 1 .7 1-.3 1 .4 1-1 1 1.3 1-1.4 1 1.1 1-.7 1 .7 1-.6 1 .4 1-.1 1 0 1 0 1 .1 1-.4 1 .3 1 0 1 .1 1-.4 1 .5 1-.3 1 .5 1-1 1 1.5 1-1.6 1 1.2 1-.6 1 .1 1 0 1 .1 1-.2 1 .4 1-.4 1 .2 1-.2 1 .4 1-.7 1 .5 1-.1 1 .1 1-.1 1 .1 1-.7 1 .9 1-.4 1 .3 1-.7 1 .7 1-.3 1 .4 1-.9 1 1.1 1-1.4 1 1.2 1-.4 1 .3 1-.4 1 .3 1-.2 1 .8 1-1.2 1 1 1-1 1 .6 1-.1 1 .2 1-.4 1 .5 1-.6 1 .4 1-.5 1 1 1-1.3 1 1.2 1-.5 1 0 1 0 1 0 1 0 1 0 1 0 1 .1 1-.1 1 0 1 0 1 0 1-.1 1 .4 1-.4 1 .2 1-.1 1 .1 1-.1 1 0 1-.1 1 .2 1-.4 1 .4 1-.3 1 .4 1-.2 1 0 1-.1 1 .4 1-.8 1 .6 1-.2 1 .2 1-.1 1 0 1 0 1 .1 1-.8 1 1.6 1-1.7 1 1.1 1-.7 1 .9 1-.5 1 .1 1-.4 1 .6 1-.5 1 .6 1-1 1 1 1-.5 1 .2 1-.2 1 .9 1-1 1 .4 1-.3 1 .3 1-.7 1 1.2 1-1.1 1 .6 1-.3 1 .2 1-.8 1 .9 1-.4 1 .7 1-.9 1 .8 1-.6 1 .4 1-.5 1 .4 1-.2 1 .4 1-1 1 1.1 1-.4 1 .1 1-.2 1 .5 1-.7 1 .7 1-.9 1 1.1 1-1.1 1 .9 1-.5 1 .1 1-.1 1 .2 1-.1 1 .1 1-.3 1 .6 1-.9 1 1.5 1-1.9 1 1.6 1-.8 1 .2 1-.2 1 .4 1-.6 1 .6 1-.6 1 .5 1-.6 1 1.1 1-1.5 1 1.3 1-1.1 1 1.4 1-1.5 1 .9 1-.4 1 .6 1-1 1 .8 1-.6 1 .5 1-.1 1 .2 1-.6 1 .6 1-.3 1 .1 1 0 1 .1 1-.3 1 .6 1-.8 1 .7 1-.7 1 .7 1-.4 1 .2 1-.1 1 .1 1-.1 1 .1 1-.1 1 .1 1-.1 1 .2 1-.4 1 .2 1 0 1 .2 1-.6 1 .8 1-.8 1 .5 1-.1 1 .3 1-.6 1 .4 1-.3 1 .4 1-.2 1 .1 1-.1 1 .1 1-.1 1 0 1 0 1 0 1-.1 1 .6 1-1.1 1 1.2 1-1.1 1 .8 1-.3 1 .1 1-.1 1 .3 1-1.2 1 1.4 1-.7 1 .6 1-1.2 1 1.9 1-1.9 1 1 1-.3 1 .2 1-.3 1 .3 1-.1 1 0 1 0 1 0 1 0 1 .1 1-.1 1 .1 1-.2 1 .6 1-1.2 1 1.1 1-1 1 .8 1-.3 1 .4 1-.3 1 .1 1-.3 1 .5 1-.6 1 .6 1-.3 1 .2 1-.8 1 1.4 1-.9 1 .1 1-.1 1 .4 1-.3 1 .1 1-.2 1 .3 1-.4 1 .3 1-.4 1 1.2 1-2 1 1.8 1-1 1 .7 1-.4 1 .3 1-.4 1 .1 1 0 1 0 1 0 1 .2 1-.4 1 .8 1-1.2 1 .8 1-.5 1 .9 1-.8 1 .3 1-.4 1 .7 1-1 1 1.5 1-1.9 1 1.1 1-.2 1 .3 1-.5 1 .6 1-.8 1 1.1 1-1.2 1 .7 1-.3 1 .3 1-.1 1 .1 1-.2 1 .2 1-.5 1 .7 1-.4 1 .2 1-.6 1 .8 1-.5 1 .2 1 0 1 0 1-.1 1 .2 1-.2 1 .2 1-.1 1 .1 1-.3 1 .8 1-1.4 1 .9 1-.1 1 .1 1-.3 1 .7 1-.8 1 .4 1-.4 1 1.4 1-2 1 1.4 1-.8 1 .8 1-1.4 1 1.3 1-.6 1 .3 1-.1 1 .1 1-.8 1 1.8 1-1.5 1 .5 1-.1 1 .1 1-.3 1 .7 1-.6 1 .2 1-.1 1 0 1-.6 1 1.8 1-2.1 1 1.6 1-1.4 1 .8 1-.5 1 1.1 1-1.3 1 1.3 1-1.1 1 .7 1-.5 1 .7 1-.8 1 .4 1-.2 1 .5 1-1 1 .7 1-.1 1 .1 1-.1 1 .1 1-.1 1 .1 1-.5 1 1.2 1-1 1 .3 1-.2 1 .2 1-.5 1 1.1 1-1.5 1 1.5 1-1.4 1 1.3 1-1.6 1 1.8 1-1 1 .3 1-.1 1 0 1 0 1 0 1-.3 1 .4 1-.1 1 0 1 0 1 .1 1-.1 1 0 1-.1 1 .5 1-.6 1 .8 1-1.5 1 1.5 1-.7 1 .2 1-.1 1 .1 1-.1 1 .1 1-.3 1 .5 1-.4 1 .2 1-.3 1 .4 1-.3 1 .2 1-.2 1 .3 1-.8 1 1.2 1-1 1 .6 1-.3 1 .2 1-.1 1 .1 1-.1 1 .1 1-.3 1 .9 1-1.6"/>
<path class="t r" d="M138 229.8l1 1.2 1-1.1 1 1 1-1 1 1.1 1-1.1 1 1.3 1-1.9 1 1.9 1-1.9 1 2 1-1.6 1 1.6 1-1.5 1 1.5 1-1.4 1 1.4 1-1.8 1 1.6 1-1.4 1 1.6 1-1.4 1 1.4 1-1.5 1 1.6 1-1.5 1 1.5 1-1.8 1 1.7 1-1.8 1 1.7 1-1.3 1 1.4 1-1.3 1 1 1-1.2 1 1.5 1-1.4 1 1.3 1-1.4 1 1.4 1-1.3 1 1.5 1-1.6 1 1.3 1-1.2 1 1.5 1-2 1 1.7 1-1.5 1 1.9 1-1.7 1 1.4 1-1.4 1 1.7 1-2.2 1 1.8 1-1.4 1 1.7 1-1.7 1 1.7 1-1.9 1 1.6 1-1.4 1 1.6 1-1.4 1 1.1 1-1.5 1 1.6 1-1.4 1 1.9 1-2.1 1 2 1-2 1 1.6 1-1.5 1 1.5 1-1.3 1 1.2 1-1.1 1 1.4 1-1.8 1 1.9 1-1.7 1 1.6 1-1.4 1 1.5 1-2 1 1.9 1-1.4 1 1.3 1-1.6 1 1.4 1-1.1 1 1.6 1-1.9 1 1.7 1-1.4 1 1.3 1-1.5 1 1.5 1-1.4 1 1.4 1-1.6 1 1.7 1-1.4 1 1.1 1-1.4 1 1.7 1-1.3 1 1.3 1-1.6 1 1.5 1-1.3 1 1.3 1-1.2 1 1 1-1.6 1 2.1 1-1.9 1 1.4 1-1.1 1 1.1 1-1.2 1 1.6 1-1.7 1 1.3 1-1.4 1 1.6 1-1.9 1 2.1 1-1.7 1 1.6 1-1.7 1 1.4 1-1.3 1 1.6 1-1.7 1 1.6 1-1.6 1 1.6 1-1.5 1 1.5 1-1.6 1 1.8 1-1.7 1 1.3 1-1.2 1 1.4 1-1.4 1 1.2 1-1.4 1 1.4 1-1.5 1 1.7 1-1.3 1 1.5 1-2 1 1.7 1-1.3 1 1.3 1-1.6 1 1.6 1-1.2 1 1.2 1-1.4 1 1.4 1-1.5 1 1.8 1-2 1 1.9 1-1.6 1 1.8 1-1.7 1 1.7 1-1.8 1 1.6 1-1.9 1 2.2 1-2.1 1 1.7 1-1.7 1 2 1-1.9 1 1.7 1-2 1 2.1 1-2 1 1.6 1-1.1 1 1.4 1-1.7 1 1.5 1-1.5 1 1.4 1-1.6 1 1.7 1-1.4 1 1.6 1-1.6 1 1.7 1-1.5 1 1.2 1-1.2 1 1.5 1-1.7 1 1.4 1-1.4 1 1.5 1-1.4 1 1.2 1-1.1 1 1 1-1 1 1.6 1-1.9 1 1.5 1-1.4 1 2 1-1.9 1 1.3 1-1.6 1 1.7 1-1.7 1 1.9 1-1.7 1 1.3 1-1.1 1 1.6 1-2 1 1.6 1-1.2 1 1.3 1-1.4 1 1.4 1-1.6 1 1.9 1-2 1 1.8 1-1.5 1 1.4 1-1.5 1 1.3 1-1.2 1 1.1 1-1 1 1.4 1-1.8 1 1.8 1-1.5 1 1.5 1-1.7 1 1.8 1-1.6 1 1.4 1-1.2 1 1.1 1-1.2 1 1.1 1-1.1 1 1.4 1-1.4 1 1.2 1-1.2 1 1.1 1-1.3 1 1.4 1-1.4 1 1.6 1-1.5 1 1.2 1-1.4 1 1.5 1-1.5 1 1.4 1-1.2 1 1.2 1-1.4 1 1.5 1-1.3 1 1.3 1-1.2 1 1.5 1-1.5 1 1.4 1-1.6 1 1.6 1-1.4 1 1.3 1-1.8 1 1.9 1-1.6 1 1.3 1-1.3 1 1.5 1-1.5 1 1.4 1-1.5 1 1.8 1-1.9 1 1.8 1-1.5 1 1.3 1-1.3 1 1.4 1-1.7 1 1.7 1-1.6 1 1.5 1-1.4 1 1.6 1-1.3 1 1.3 1-1.3 1 1.4 1-1.5 1 1.1 1-1.4 1 1.6 1-1.7 1 1.8 1-1.6 1 1.6 1-1.7 1 1.7 1-1.3 1 1.1 1-1.4 1 1.7 1-1.6 1 1.5 1-1.4 1 1.4 1-1.8 1 1.5 1-1.2 1 1.5 1-1.4 1 1 1-1 1 1.1 1-1.4 1 1.7 1-1.6 1 1.8 1-2.1 1 2 1-1.6 1 1.6 1-1.9 1 1.5 1-1.1 1 1.2 1-1.3 1 1.2 1-1.2 1 1.6 1-1.8 1 1.6 1-1.8 1 1.7 1-1.5 1 1.6 1-1.5 1 1.4 1-1.3 1 1.6 1-1.8 1 1.5 1-1.3 1 1.3 1-1.2 1 1.3 1-1.3 1 1.3 1-1.4 1 1.3 1-1.3 1 1.4 1-1.4 1 1.2 1-1.4 1 1.3 1-1.2 1 1.3 1-1.1 1 1.3 1-1.6 1 1.9 1-1.8 1 1.6 1-1.8 1 1.5 1-1.6 1 1.7 1-1.5 1 1.6 1-1.8 1 1.8 1-1.9 1 1.9 1-1.7 1 1.6 1-1.5 1 1.6 1-1.7 1 1.9 1-1.6 1 1.3 1-1.3 1 1.5 1-1.3 1 1.3 1-1.7 1 1.7 1-1.7 1 1.5 1-1.6 1 1.8 1-1.8 1 1.5 1-1.5 1 1.5 1-1.1 1 1.4 1-1.8 1 1.5 1-1.1 1 1.3 1-1.6 1 2 1-2.3 1 2.1 1-1.9 1 1.5 1-1.4 1 1.6 1-1.3 1 1.1 1-1.4 1 1.8 1-1.6 1 1.5 1-1.8 1 1.4 1-1.4 1 2 1-1.9 1 1.8 1-1.9 1 1.5 1-1 1 1.2 1-1.5 1 1.5 1-1.3 1 1.1 1-1.2 1 1.2 1-1.3 1 1.3 1-1.2 1 1.3 1-1.4 1 1.3 1-1.4 1 1.8 1-2 1 1.9 1-1.8 1 1.8 1-1.6 1 1.8 1-1.8 1 1.8 1-1.6 1 1.4 1-1.7 1 1.6 1-1.7 1 1.5 1-1.2 1 1.3 1-1.5 1 1.6 1-1.6 1 1.4 1-1 1 1.2 1-1.7 1 1.4 1-1.2 1 1.2 1-1 1 1.2 1-1.2 1 1.2 1-1.3 1 1.6 1-1.8 1 1.5 1-1.2 1 1.1 1-1.2 1 1.4 1-1.2 1 1.2 1-1.2 1 1.1 1-1.2 1 1.4 1-1.3 1 1 1-1.2 1 1.3 1-1.4 1 1.5 1-1.4 1 1.4 1-1.6 1 1.4 1-1.4 1 1.5 1-1.4 1 1.7 1-1.8 1 1.7 1-1.4 1 1 1-1 1 1.5 1-1.7 1 1.5 1-1.6 1 1.5 1-1.6 1 1.5 1-1.6 1 2.1 1-1.6 1 1 1-1.4 1 1.8 1-1.7 1 1.8 1-1.7 1 1.6 1-1.7 1 1.5 1-1.5 1 1.3 1-1.1 1 1.3 1-1.1 1 1.1 1-1.4 1 1.3 1-1.4 1 1.4 1-1.2 1 1.1 1-1 1 1.3 1-1.3 1 1.4 1-1.5 1 1.2 1-1.5 1 2.1 1-1.7 1 1.4 1-1.4 1 1.2 1-1.4 1 1.7 1-1.5 1 1.5 1-1.5 1 1.5 1-1.8 1 1.6 1-1.7 1 1.6 1-1.3 1 1.5 1-1.7 1 1.3 1-1.2 1 1.6 1-1.7 1 1.6 1-1.4 1 1.3 1-1.2 1 1.3 1-1.5 1 1.3 1-1.4 1 1.8 1-1.4 1 1 1-1.2 1 1.3 1-1.5 1 1.7 1-1.5 1 1.3 1-1.6 1 1.6 1-1.3 1 1.2 1-1.4 1 1.3 1-1.2 1 1.5 1-1.5 1 1.3 1-1.1 1 1 1-1 1 1.4 1-1.9 1 1.9 1-1.7 1 1.7 1-1.6 1 1.5 1-1.6 1 1.4 1-1.4 1 1.8 1-1.7 1 1.4 1-1.4 1 1.3 1-1.2 1 1.3 1-1.2 1 1.4 1-1.4 .5 1.3 .5-1.5 .5 1.5 .5-1.3 .5 1.1 .5-1 .5 1 .5-.6 .5 .1 .5-25.9 .5 52.4 .5-52.8 .5 59 .5-56.7 .5 54.5 .5-45.8 .5 34.2 .5-35.9 .5 35.5 .5-38.5 .5 38.6 .5-33.9 .5 46.6 .5-64.8 .5 77.5 .5-98.8 .5 98.1 .5-96.3 .5 95.5 .5-87 .5 85.1 .5-79 .5 77.8 .5-72.7 .5 68 .5-64.7 .5 60.3 .5-65.9 .5 61.8 .5-61.8 .5 56.4 .5-40.9 .5 41 .5-40.3 .5 40 .5-37.2 .5 31.7 .5-26.9 .5 24.2 .5-34.8 .5 34.8 .5-34.6 .5 34.5 .5-21 .5 21.1 .5-20.6 .5 15.5 .5-15.2 .5 14 .5-12.2 .5 10.4 .5-8.8 .5 9.3 .5-10.3 .5 10.7 .5-10.6 .5 13.6 .5-13.8 .5 13.3 .5-12.8 .5 11.6 .5-12.8 .5 12.9 .5-11.3 .5 9.8 .5-10.1 .5 9.5 .5-8.9 .5 8.4 .5-7 .5 6 .5-5.4 .5 5.6 .5-5.2 .5 4.7 .5-4.6 .5 4 .5-3.8 .5 4.3 .5-4.6 .5 4.2 .5-4.3 .5 3.9 .5-4.7 .5 4.9 .5-4.4 .5 4.2 .5-4.5 .5 4.4 .5-4.6 .5 4.5 .5-3.8 .5 3.9 .5-4.2 .5 3.7 .5-3.4 .5 3.4 .5-3 .5 3.2 .5-2.7 .5 2.6 .5-2.3 .5 2.3 .5-2.3 .5 1.9 .5-1.9 .5 2 .5-1.8 .5 1.6 .5-1.8 .5 2 .5-1.8 .5 1.8 .5-1.8 .5 1.5 .5-1.4 .5 1.5 .5-1.7 .5 1.5 .5-1.4 .5 1.8 .5-1.9 .5 1.9 .5-1.9 .5 1.8 .5-1.6 .5 1.7 .5-1.7 .5 1.7 .5-1.7 .5 1.7 .5-1.9 .5 1.5 .5-1.7 .5 1.7 .5-1.7 .5 2.2 .5-1.8 .5 1.5 .5-1.6 .5 1.4 .5-1.3 .5 1.2 .5-1.2 .5 1.2 .5-1.3 .5 1.2 .5-1 .5 1.4 .5-1.5 .5 1.5 .5-1.7 .5 1.5 .5-1.2 1 1.3 1-1.5 1 1.4 1-1.2 1 1.1 1-1.5 1 1.8 1-1.8 1 1.6 1-1.4 1 1.5 1-1.5 1 1.5 1-1.7 1 1.7 1-1.7 1 1.9 1-1.8 1 1.7 1-1.7 1 1.6 1-1.5 1 1.6 1-1.7 1 1.5 1-1.6 1 2 1-2 1 1.9 1-1.8 1 1.4 1-1.2 1 1.2 1-1.2 1 1.2 1-1.4 1 1.7 1-1.5 1 1.1 1-1.1 1 1.2 1-1.2 1 1.4 1-1.4 1 1.1 1-2 1 3.3 1-3.2 1 3 1-3.3 1 3.3 1-2.3 1 2.3 1-3.3 1 3.5 1-3.4 1 3.2 1-3.3 1 3 1-2.2 1 1.7 1-1.5 1 1.3 1-1.3 1 1.7 1-1.7 1 1.4 1-1.5 1 1.8 1-1.6 1 1.3 1-1.3 1 1.4 1-1.6 1 1.8 1-1.8 1 1.9 1-2 1 2 1-2.1 1 1.9 1-1.9 1 2 1-1.6 1 1.5 1-1.8 1 1.7 1-1.3 1 1.1 1-1.2 1 1.6 1-1.6 1 1.4 1-1.5 1 1.3 1-1.3 1 1.5 1-1.2 1 1.1 1-1.2 1 1.2 1-1.3 1 1.3 1-1.2 1 1.1 1-1.3 1 1.6 1-1.7 1 1.8 1-1.9 1 1.5 1-1.5 1 1.7 1-1.8 1 2.1 1-2 1 1.9 1-1.9 1 1.7 1-1.7 1 1.7 1-1.5 1 1.8 1-2.8 1 3.2 1-2.3 1 1.4 1-1.2 1 1.5 1-1.4 1 2.3 1-4.9 1 6.4 1-4.7 1 2.1 1-1.2 1 1.3 1-1.4 1 1.3 1-1.4 1 1.8 1-1.7 1 1.4 1-1.5 1 1.6 1-1.6 1 1.5 1-1.4 1 1.1 1-1.1 1 1.2 1-1.3"/>
<path class="t b" d="M138 261.7l1 1 1-1.1 1 .5 1-.2 1 .3 1-1 1 1.8 1-2.3 1 1.9 1-.7 1 .2 1-.4 1 .6 1-.6 1 .5 1-1 1 1.8 1-2.4 1 1.9 1-.6 1 .2 1-.2 1 .2 1-.2 1 .2 1-.5 1 2 1-3.3 1 2.5 1-1.3 1 .6 1-.8 1 1.4 1-1.3 1 .8 1-.7 1 1.1 1-.9 1 .4 1-.4 1 .9 1-1.5 1 1.6 1-2.1 1 2.3 1-1.7 1 1.4 1-1.5 1 1.2 1-.4 1 .2 1-.2 1 .2 1-.8 1 1.4 1-.8 1 .2 1-.3 1 .6 1-1.1 1 1 1-.5 1 .3 1-.4 1 .8 1-1 1 1.1 1-.8 1 .3 1-.2 1 .2 1-.2 1 .2 1-.8 1 .9 1-.3 1 .2 1-.4 1 1.2 1-1.4 1 1 1-.8 1 .4 1-.3 1 .4 1-.7 1 .8 1-1 1 1.8 1-1.5 1 1.3 1-1.6 1 2.1 1-2.7 1 2.7 1-1.5 1 .2 1-.2 1 .6 1-1.8 1 2.7 1-2.5 1 1.6 1-.7 1 .3 1-.2 1 .2 1-.2 1 .4 1-.5 1 .8 1-.8 1 .5 1-.5 1 .3 1-.2 1 .2 1-.2 1 .2 1-.2 1 .2 1-.2 1 .8 1-1.8 1 1.4 1-1 1 1.8 1-1.4 1 .4 1-.2 1 .2 1-.3 1 .7 1-.9 1 .5 1-.2 1 .3 1-.5 1 .4 1-.2 1 .2 1-.2 1 .4 1-.4 1 .5 1-1.4 1 1.3 1-.4 1 .2 1-.2 1 .5 1-1.2 1 1.3 1-1.3 1 1.3 1-.8 1 .4 1-.2 1 .2 1-1 1 2.4 1-3.1 1 3 1-1.5 1 .2 1-.2 1 .8 1-2 1 2.8 1-3 1 1.7 1-.6 1 .8 1-.6 1 .4 1-.3 1 .2 1-.2 1 .2 1-.3 1 .5 1-.4 1 .2 1-.2 1 .2 1-.4 1 .9 1-.8 1 .3 1-.6 1 1 1-.6 1 .2 1-.2 1 .4 1-.5 1 .3 1-.3 1 .7 1-1.1 1 .7 1-.2 1 .3 1-.5 1 .4 1-.2 1 .2 1-.2 1 .2 1-.2 1 .2 1-.2 1 .2 1-.2 1 .2 1-.9 1 1.7 1-1.1 1 .3 1-.2 1 .2 1-.2 1 .2 1-.2 1 .2 1-.2 1 .2 1-.2 1 .2 1-.5 1 .7 1-.4 1 .4 1-.7 1 1.3 1-1.5 1 1.3 1-1.2 1 .7 1-.5 1 .5 1-.3 1 .4 1-1.3 1 1.4 1-.8 1 .7 1-.5 1 .3 1-.2 1 .2 1-.2 1 .2 1-.2 1 .2 1-.2 1 .2 1-.2 1 .2 1-.2 1 .2 1-.2 1 .2 1-.2 1 .5 1-.9 1 1.1 1-.8 1 .5 1-.7 1 .5 1-.2 1 .2 1-.3 1 .7 1-.9 1 .8 1-.5 1 .2 1-.2 1 .2 1-.2 1 .2 1-.3 1 .9 1-.8 1 .5 1-.7 1 .7 1-.9 1 .9 1-.5 1 .2 1-.2 1 .2 1-.2 1 .7 1-1.3 1 1.1 1-1 1 1.1 1-.7 1 .4 1-.9 1 1.2 1-.6 1 .2 1-.2 1 .2 1-.2 1 .2 1-.2 1 .2 1-.2 1 .5 1-.9 1 .9 1-.7 1 .4 1-.2 1 .2 1-.2 1 .4 1-.6 1 .4 1-.8 1 1.5 1-1.5 1 .8 1-.2 1 .2 1-.2 1 .2 1-.6 1 .7 1-.4 1 .6 1-.8 1 .5 1-.5 1 .7 1-.7 1 .9 1-1.3 1 1.6 1-.9 1 .2 1-.6 1 2 1-2.6 1 1.9 1-.9 1 .3 1-.6 1 .7 1-.7 1 .7 1-.8 1 1.5 1-2 1 2.1 1-1.4 1 .4 1-.3 1 .5 1-.4 1 .8 1-1.7 1 1.7 1-1.2 1 1.7 1-2 1 1.3 1-.6 1 .4 1-.4 1 .2 1-.2 1 .2 1-.4 1 .6 1-.6 1 .6 1-.9 1 1.3 1-2 1 2.2 1-1.4 1 .6 1-.2 1 .2 1-.5 1 .9 1-.6 1 .2 1-.2 1 .2 1-.2 1 .2 1-.5 1 .6 1-.5 1 .7 1-.5 1 .2 1-.2 1 .2 1-.2 1 .2 1-.2 1 .3 1-.8 1 .9 1-.6 1 1.1 1-1 1 .7 1-.9 1 1 1-.8 1 .3 1-.2 1 .2 1-.2 1 .3 1-.7 1 1.7 1-2.2 1 2.1 1-2.3 1 2.2 1-1.3 1 .4 1-.2 1 .2 1-.2 1 .2 1-.3 1 .8 1-.8 1 .7 1-.8 1 .4 1-.2 1 .2 1-.2 1 .2 1-.2 1 .2 1-.7 1 1.4 1-2 1 2.3 1-2.3 1 1.8 1-.9 1 .6 1-1.4 1 3.7 1-4.2 1 2.6 1-2.4 1 2 1-.7 1 .2 1-.2 1 .8 1-2.2 1 3 1-2.4 1 1.2 1-.4 1 .2 1-.2 1 .2 1-.4 1 .4 1-.3 1 .9 1-1.4 1 1.2 1-.6 1 .2 1-.2 1 .3 1-.7 1 .6 1-.2 1 .2 1-.3 1 1.1 1-1.4 1 1.1 1-1.4 1 1 1-.9 1 .8 1-.2 1 .2 1-.5 1 .6 1-.6 1 .9 1-.6 1 .2 1-1.1 1 2.1 1-3.1 1 2.5 1-.8 1 .4 1-.2 1 .1 1-.1 1 .7 1-1.3 1 .8 1-.2 1 .2 1-.2 1 .4 1-1.1 1 1.4 1-.7 1 .2 1-.2 1 .4 1-1.1 1 1.4 1-.7 1 .5 1-.9 1 .6 1-.2 1 .2 1-.2 1 .3 1-.6 1 .6 1-.4 1 .6 1-.5 1 .2 1-.4 1 .7 1-1.6 1 1.5 1-.6 1 .8 1-.8 1 .8 1-.8 1 .5 1-.6 1 .6 1-.3 1 .2 1-.7 1 1.3 1-1.4 1 1 1-.9 1 1.5 1-1.3 1 .7 1-.6 1 .4 1-.2 1 .2 1-.2 1 .2 1-.2 1 .3 1-.6 1 1 1-.9 1 .7 1-.9 1 .8 1-.9 1 1.2 1-.8 1 .3 1-.2 1 .2 1-.2 1 .2 1-.2 1 .2 1-.2 1 .2 1-.2 1 .2 1-.2 1 .2 1-.2 1 .2 1-.2 1 .2 1-.2 1 .3 1-1.2 1 2 1-1.7 1 .9 1-.5 1 .4 1-.2 1 .2 1-.2 1 .2 1-.6 1 1.1 1-1 1 1 1-.9 1 .4 1-.5 1 1.6 1-2.6 1 1.5 1-.2 1 .2 1-.2 1 .2 1-.2 1 .2 1-.6 1 1.1 1-1.1 1 .6 1-.6 1 1 1-.7 1 .3 1-.2 1 .2 1-.2 1 .2 1-.2 1 .2 1-.3 1 .5 1-.4 1 .2 1-.3 1 .7 1-.6 1 .2 1-.2 1 .2 1-.8 1 1 1-.9 1 .8 1-.4 1 .5 1-1 1 1.4 1-2.2 1 2.3 1-1.1 1 .4 1-.2 1 .4 1-.6 1 .7 1-.5 1 .2 1-.4 1 .7 1-.5 1 .3 1-.7 1 .7 1-.5 1 .9 1-.8 1 .4 1-1.4 1 2.2 1-1.3 1 .6 1-.5 1 .3 1-.2 1 .2 1-.2 1 .4 1-.5 1 .6 1-.9 1 1.3 1-1.2 1 .5 1-.2 1 .5 1-1.2 1 1.2 1-.5 1 .2 1-.2 1 .3 1-.5 1 .6 1-.6 1 .5 1-.5 1 .7 1-.6 1 .3 1-.4 1 1.2 1-1.7 1 1.1 1-.4 1 .2 1-.2 1 .2 1-.3 1 .7 1-.7 1 .8 1-1.4 1 1.7 1-1.2 1 .7 1-1.9 1 2.2 1-1.2 1 .7 1-.3 1 .2 1-.2 1 .3 1-.8 1 1 1-.8 1 .9 1-.6 1 .2 1-.2 1 .4 1-.6 1 .4 1-.2 1 .2 1-.6 1 .7 1-.6 1 .6 1-.3 1 .2 1-.3 1 .8 1-.8 1 .3 1-.6 1 .7 1-.5 1 .4 1-.2 1 .4 1-.4 1 .2 1-.2 1 .2 1-.5 1 1 1-.8 1 .3 1-.2 1 .2 1-.5 1 .6 1-.3 1 .2 1-.2 1 .2 1-.2 1 .2 1-.2 1 .5 1-.6 1 .5 1-.5 1 .4 1-.7 1 1.1 1-1.2 1 1.4 1-.9 1 .2 1-.2 1 .3 1-1 1 1.9 1-1.7 1 1 1-.7 1 .4 1-.2 1 .2 1-.3 1 .3 1-.2 1 .2 1-.5 1 1.5 1-1.6 1 .7 1-.4 1 .3 1-.4 1 .6 1-.7 1 .5 1-.2 1 .2 1-.4 1 .7 1-.5 1 .6 1-.6 1 .2 1-.2 1 .2 1-.2 1 .2 1-.2 1 .2 1-.2 1 .2 1-.4 1 .9 1-1.1 1 .7 1-.6 1 .9 1-1 1 1.6 1-1.9 1 1 1-.5 1 .5 1-.3 1 .2 1-.2 1 1.2 1-2.1 1 2.5 1-1.7 1 .3 1-.2 1 .2 1-.2 1 .2 1-.2 1 .9 1-2.3 1 2.3 1-2.2 1 1.8 1-.6 1 .5 1-1.1 1 2.2 1-2.9 1 2.8 1-2.8 1 3 1-3 1 3 1-2.9"/>
<path class="t g" d="M138 292.9l1 1.7 1-2 1 1.7 1-1.6 1 1.7 1-1.7 1 1.7 1-1.4 1 1.4 1-1.5 1 1.5 1-1.7 1 1.8 1-1.8 1 1.4 1-1.5 1 1.6 1-1.2 1 1.1 1-1.1 1 1.1 1-1.2 1 1.1 1-1.2 1 1.6 1-1.3 1 1.1 1-1.4 1 1.3 1-1.1 1 1.2 1-1.4 1 1.4 1-1.1 1 1.1 1-1.4 1 1.6 1-1.8 1 1.9 1-2.1 1 2 1-1.8 1 1.9 1-1.5 1 1.5 1-2 1 1.9 1-1.5 1 1.5 1-1.4 1 1.4 1-1.5 1 1.5 1-1.7 1 1.3 1-1.1 1 1.3 1-1.3 1 1.2 1-1.7 1 1.8 1-1.3 1 1.1 1-1.2 1 1.3 1-1.4 1 1.4 1-1 1 1.2 1-1.5 1 1.2 1-1 1 1.1 1-1.2 1 1.3 1-1.3 1 1 1-1 1 1.4 1-1.3 1 1.3 1-1.3 1 1.1 1-1.2 1 1.4 1-1.5 1 1.2 1-1.3 1 1.4 1-1.3 1 1.6 1-1.8 1 1.6 1-1.2 1 1.2 1-1.1 1 1 1-1.2 1 1.4 1-1.4 1 1.4 1-1.3 1 1.1 1-1.3 1 1.4 1-1.4 1 1.5 1-1.3 1 1.2 1-1.3 1 1.3 1-1.1 1 1.1 1-1.2 1 1.3 1-1.3 1 1.3 1-1.2 1 .9 1-1.1 1 1.4 1-1.2 1 1.2 1-1.4 1 1.3 1-1.3 1 1.3 1-1.3 1 1.4 1-1.5 1 1.3 1-1.2 1 1.9 1-2.1 1 2 1-1.9 1 1.3 1-1 1 1 1-1.1 1 1 1-1 1 1.1 1-1.1 1 1.3 1-1.5 1 1.2 1-1.2 1 1.5 1-1.5 1 1.2 1-1.3 1 1.8 1-1.5 1 1.4 1-1.6 1 1.5 1-1.3 1 1.1 1-1.2 1 1.3 1-1.6 1 1.8 1-1.5 1 1.4 1-1.2 1 .9 1-1 1 1.2 1-1.3 1 1.2 1-1 1 1.1 1-1.4 1 1.1 1-1 1 1.1 1-1.1 1 1.2 1-1.1 1 1.1 1-1 1 1.1 1-1.2 1 1.2 1-1.3 1 1.3 1-1.5 1 1.5 1-1.3 1 1.5 1-1.5 1 1.3 1-1.4 1 1.3 1-1 1 1.2 1-1.5 1 1.2 1-1.2 1 1.6 1-1.3 1 .9 1-1.3 1 1.7 1-1.5 1 1.2 1-1.4 1 1.4 1-1.2 1 1.1 1-1.1 1 1.5 1-1.7 1 1.6 1-1.5 1 1.4 1-1.3 1 1.4 1-1.5 1 1.5 1-1.4 1 1.1 1-1.3 1 1.4 1-1.1 1 1 1-1.3 1 1.3 1-1.1 1 1.1 1-1 1 1.3 1-1.6 1 1.5 1-1.7 1 1.9 1-1.4 1 1.1 1-1.4 1 1.5 1-1.2 1 1 1-1 1 1.1 1-1.2 1 1.4 1-1.5 1 1.8 1-1.9 1 1.5 1-1.3 1 1.3 1-1.4 1 1.3 1-1.1 1 1.2 1-1.1 1 .9 1-1.2 1 1.4 1-1.5 1 1.4 1-1.4 1 1.5 1-1.3 1 1.1 1-1 1 1.1 1-1.3 1 1.4 1-1.2 1 1.4 1-1.4 1 1 1-1.3 1 1.4 1-1.1 1 1.1 1-1.2 1 1.1 1-1.3 1 1.7 1-1.8 1 1.8 1-1.5 1 1.3 1-1.1 1 .9 1-1 1 1.1 1-1.4 1 1.5 1-1.3 1 1.4 1-1.6 1 1.3 1-1.3 1 1.7 1-1.6 1 1.4 1-1.3 1 1.4 1-1.5 1 1.5 1-1.4 1 1.5 1-1.7 1 1.4 1-1.2 1 1.4 1-1.4 1 1.3 1-1.7 1 1.7 1-1.3 1 1.5 1-1.5 1 1.1 1-1.2 1 1.3 1-1.3 1 1.2 1-1.1 1 1.4 1-1.2 1 .9 1-1.1 1 1.2 1-1.6 1 2 1-1.9 1 1.7 1-1.4 1 1.5 1-1.5 1 1.2 1-1.2 1 1.1 1-1.2 1 1.2 1-.9 1 1 1-1.6 1 1.9 1-1.5 1 1.5 1-1.5 1 1.3 1-1.5 1 1.6 1-1.6 1 1.6 1-1.6 1 1.3 1-1 1 1 1-1.4 1 1.6 1-1.2 1 1.4 1-1.4 1 1.2 1-1.5 1 1.6 1-1.3 1 1 1-.9 1 1 1-1.2 1 1.5 1-1.4 1 1.3 1-1.3 1 1.3 1-1.5 1 1.8 1-1.6 1 1.2 1-1.5 1 1.7 1-1.4 1 1.2 1-1.3 1 1.2 1-1.4 1 1.4 1-1.5 1 1.6 1-1.4 1 1.4 1-1.2 1 1.1 1-1.4 1 1.3 1-1.1 1 1.5 1-1.7 1 1.5 1-1.5 1 1.6 1-1.4 1 1.5 1-1.4 1 1.4 1-1.4 1 1.3 1-1.5 1 2 1-2 1 1.7 1-1.9 1 1.8 1-1.6 1 1.3 1-1.2 1 1.1 1-1.2 1 1.5 1-1.2 1 1 1-1.3 1 1.6 1-1.5 1 1.6 1-1.7 1 1.3 1-1.3 1 1.4 1-1.5 1 1.4 1-1.3 1 1.3 1-1 1 1.2 1-1.5 1 1.5 1-1.3 1 1.2 1-1.3 1 1.3 1-1.4 1 1.3 1-1.5 1 1.6 1-1.2 1 1.1 1-1.3 1 1.5 1-1.4 1 1.6 1-1.6 1 1.2 1-1.3 1 1.3 1-1.3 1 1.3 1-1.4 1 1.7 1-1.6 1 1.5 1-1.5 1 1.5 1-1.3 1 1.1 1-1.2 1 1.1 1-1 1 1.3 1-1.6 1 1.8 1-1.7 1 1.4 1-1.4 1 1.5 1-1.5 1 1.3 1-1.2 1 1.2 1-1.3 1 1.4 1-1.1 1 1.2 1-1.4 1 1.5 1-1.4 1 1.1 1-1.2 1 1.5 1-1.7 1 1.5 1-1.5 1 1.4 1-1.4 1 1.5 1-1.5 1 1.6 1-1.5 1 1.5 1-1.6 1 1.6 1-1.5 1 1.4 1-1.1 1 .9 1-1.1 1 1.2 1-1.2 1 1.3 1-1.5 1 1.3 1-1.1 1 1.2 1-1.1 1 1.2 1-1.5 1 1.6 1-1.6 1 1.5 1-1.2 1 1.4 1-1.4 1 1.4 1-1.4 1 1.4 1-1.7 1 1.4 1-1.1 1 1.1 1-1.1 1 1.2 1-1.2 1 1 1-1.2 1 1.4 1-1.1 1 1 1-1.1 1 1.2 1-1.2 1 1 1-1 1 1.2 1-1.3 1 1.2 1-1.1 1 1.2 1-1.2 1 1.3 1-1.2 1 1.1 1-1.2 1 1.3 1-1.3 1 1 1-.9 1 1.1 1-1.1 1 1 1-1.3 1 1.3 1-1 1 .9 1-1.4 1 1.8 1-1.8 1 1.6 1-1.4 1 1.3 1-1.1 1 1.1 1-1.2 1 1.2 1-1.1 1 1 1-1.4 1 1.4 1-1.3 .5 1.7 .5-1.4 .5 1.1 .5-1.2 .5 1.3 .5-1.3 .5 26.8 .5-26.1 .5 41.4 .5-105 .5 161 .5-170 .5 117 .5-106 .5 104.6 .5-99.6 .5 102 .5-94.4 .5 115.4 .5-114.5 .5 99.5 .5-100.9 .5 99.9 .5-101.4 .5 139.4 .5-141 .5 192 .5-255.7 .5 255.7 .5-250.5 .5 213.5 .5-178 .5 161 .5-158.5 .5 154.5 .5-154.5 .5 152.5 .5-151.5 .5 145.9 .5-123.4 .5 123.4 .5-123.4 .5 123.4 .5-146.4 .5 136.6 .5-109.6 .5 104.3 .5-104.3 .5 103.9 .5-117.9 .5 117.5 .5-125.2 .5 103.1 .5-64.4 .5 61.9 .5-61.9 .5 60.4 .5-72.4 .5 69.3 .5-57.3 .5 53.9 .5-50.4 .5 48.9 .5-45.4 .5 45.7 .5-44.1 .5 55.1 .5-54.9 .5 45 .5-44.3 .5 42 .5-41.5 .5 42.1 .5-44.3 .5 45.1 .5-44.8 .5 42.8 .5-38.7 .5 32 .5-28.2 .5 28.3 .5-31.3 .5 30.9 .5-41 .5 37.4 .5-25.7 .5 23.3 .5-17.6 .5 16.8 .5-17.1 .5 18.1 .5-18.1 .5 19.7 .5-20 .5 20.6 .5-26 .5 25.8 .5-25.9 .5 24.9 .5-18.7 .5 19.2 .5-17.8 .5 18.6 .5-24.5 .5 25.2 .5-27.8 .5 28.5 .5-24.9 .5 25.3 .5-34.8 .5 43.2 .5-48.2 .5 41.1 .5-31.7 .5 31 .5-30.7 .5 30.2 .5-29.7 .5 28.4 .5-28.4 .5 27.6 .5-27.1 .5 27.7 .5-27.7 .5 28.6 .5-40.3 .5 51.5 .5-59.8 .5 64.8 .5-56.2 .5 56.1 .5-55.7 .5 55.6 .5-53.1 .5 38.8 .5-37.4 .5 37.5 .5-35.8 .5 37.1 .5-35.2 .5 35.9 .5-31.8 .5 32.6 .5-29.3 .5 29.6 .5-30.7 .5 30.7 .5-30.2 .5 26.9 .5-25.1 .5 21.8 .5-32.4 .5 29.9 .5-25.2 .5 22.9 .5-13.3 .5 12.9 .5-14 .5 14.2 .5-15.4 .5 15.5 .5-15.4 .5 15.2 .5-11.7 .5 8.9 .5-5.5 .5 3 .5-5 .5 6.2 .5-4.5 .5 4.1 .5-5.1 .5 7 .5-8.5 .5 9 .5-7.7 .5 5.7 .5-5.2 .5 5.4 .5-6.2 .5 6.2 .5-7.1 .5 8.9 .5-7.6 .5 7.4 .5-7.6 .5 6.3 .5-6.4 .5 8.8 .5-7.9 .5 6.9 .5-6.3 .5 4.1 .5-4.3 .5 3.8 .5-4.3 .5 4.2 .5-3.3 .5 3.1 .5-4.7 .5 4.6 .5-4.6 .5 4.1 .5-3.9 .5 4 .5-2.8 .5 2.8 .5-3.1 .5 3.2 .5-3.1 .5 3.4 .5-3 .5 2.6 .5-1.8 .5 2.2 .5-2.1 .5 1.8 .5-2.7 .5 3 .5-2.4 .5 2.4 .5-3.2 .5 2.9 .5-2 .5 2.3 .5-3.1 .5 3.3 .5-2.5 .5 1.9 .5-2.7 .5 3.4 .5-3.7 .5 3.5 .5-3.1 .5 3.1 .5-3.1 .5 2.8 .5-3.1 .5 3.6 .5-4.1 .5 4.4 .5-4.7 .5 5 .5-3.4 .5 3.2 .5-3.6 .5 3.4 .5-3.6 .5 3.2 .5-3.4 .5 4.4 .5-4.3 .5 4.1 .5-4.5 .5 4.8 .5-4.5 .5 4.8 .5-4 .5 3.9 .5-3.8 .5 2.7 .5-3.4 .5 4 .5-4.1 .5 3.4 .5-2.7 .5 2.7 .5-2.9 .5 3.2 .5-3.3 .5 3 .5-2.4 .5 3 .5-2.9 .5 3.3 .5-4.4 .5 3.4 .5-2.4 .5 2.7 .5-2.9 .5 3.2 .5-4.2 .5 4.8 .5-4.2 .5 3.4 .5-3.3 .5 4.2 .5-4 .5 4.1 .5-4 .5 2.5 .5-2.5 .5 3 .5-2.6 .5 2.8 .5-3.4 .5 2.6 .5-2.5 .5 2.6 .5-2.3 .5 2.3 .5-2 .5 1.6 .5-1.6 .5 1.6 .5-1.6 .5 1.7 .5-1.6 .5 1.8 .5-2 .5 2 .5-2.3 .5 2.4 .5-2.3 .5 2.3 .5-2 .5 1.6 .5-1.5 .5 1.5 .5-1.7 .5 2.2 .5-2.2 .5 2 .5-2.2 .5 2 .5-1.9 .5 2.5 .5-2.6 .5 2 .5-1.6 .5 2.5 .5-3.3 .5 2.5 .5-1.8 .5 2.7 .5-2.8 .5 2.8 .5-3.2 .5 3.2 .5-2.9 .5 2.6 .5-2.7 .5 2.3 .5-2.2 .5 1.9 .5-1.6 .5 1.6 .5-1.3 .5 1.2 .5-1.5 .5 1.4 .5-1.4 .5 1.5 .5-1.3 .5 1.1 .5-1.4 .5 1.7 .5-1.5 .5 1.4 .5-2 .5 2.5 .5-2.6 .5 2.5 .5-1.9 .5 1.8 .5-2.3 .5 2.1 .5-1.6 1 1.7 1-1.5 1 1.2 1-1.2 1 1.6 1-1.6 1 1.4 1-1.8 1 1.8 1-1.4 1 1.2 1-1.3 1 1.4 1-1.5 1 1.5 1-1.5 1 1.3 1-1.6 1 2.2 1-2 1 1.7 1-1.6 1 1.4 1-1.2 1 1.3 1-1.5 1 1.4 1-1.2 1 1.2 1-1.2 1 1 1-1.3 1 1.7 1-1.5 1 1.4 1-1.4 1 1.2 1-1.4 1 1.7 1-1.5 1 1.3 1-1.3 1 1.1 1-1.6 1 2.2 1-1.6 1 1.2 1-1.2 1 1.2 1-1.3 1 1.4 1-1.4 1 1.4 1-1.6 1 1.7 1-1.7 1 1.3 1-1.3 1 1.4 1-1.1 1 1.3 1-1.6 1 1.7 1-1.6 1 1.6 1-1.7 1 1.4 1-1 1 .9 1-1 1 1.1 1-1.4 1 1.3 1-1.3 1 1.4 1-1.4 1 1.5 1-1.2 1 1.1 1-1.3 1 1.3 1-1.2 1 1.3 1-1.5 1 1.5 1-1.6 1 1.5 1-1.1 1 1.1 1-1 1 1.2 1-1.4 1 1.3 1-1.5 1 1.5 1-1.1 1 1.3 1-1.4 1 1.3 1-1.2 1 .9 1-1.3 1 1.6 1-1.3 1 1.4 1-1.4 1 1.4 1-1.5 1 1.1 1-1 1 1.2 1-1.5"/>
<path class="t k" d="M138 325l1 .1 1-.1 1 .3 1-.3 1 .1 1-.1 1 .1 1-.2 1 .4 1-.3 1 .1 1-.1 1 .2 1-.2 1 .5 1-.5 1 .1 1-.1 1 .4 1-.6 1 .4 1-.2 1 .1 1-.1 1 .3 1-.5 1 .5 1-.3 1 .2 1-.2 1 .1 1-.1 1 .1 1-.1 1 .1 1-.1 1 .1 1-.1 1 .4 1-1.1 1 1.2 1-.7 1 .5 1-.3 1 .1 1-.1 1 .1 1-.1 1 .2 1-.2 1 .1 1-.1 1 .2 1-.2 1 .3 1-.5 1 .7 1-.8 1 .7 1-.7 1 .6 1-.3 1 .1 1-.3 1 .6 1-1 1 1.1 1-.9 1 .6 1-.5 1 .8 1-.7 1 .3 1-.1 1 .1 1-.1 1 .4 1-.7 1 .5 1-.2 1 .1 1-.1 1 .2 1-.4 1 .4 1-.2 1 .1 1-.1 1 .2 1-.5 1 .4 1-.3 1 .6 1-.4 1 .1 1-.2 1 .4 1-.3 1 .4 1-1.4 1 2.2 1-2.1 1 1.8 1-1.7 1 1.2 1-.4 1 .1 1-.1 1 .1 1-.1 1 .5 1-1.1 1 .9 1-.3 1 .2 1-.2 1 .4 1-.6 1 1.1 1-1.6 1 1.4 1-1.2 1 1.2 1-.9 1 .4 1-.2 1 .1 1-.1 1 .2 1-.8 1 .9 1-.4 1 .4 1-.4 1 .3 1-.5 1 .5 1-.4 1 .5 1-.3 1 .3 1-.5 1 .4 1-.2 1 .2 1-.3 1 .2 1-.1 1 .1 1-.2 1 .3 1-.2 1 .3 1-.5 1 .5 1-.7 1 .6 1-.2 1 .5 1-.9 1 .5 1-.1 1 .1 1-.1 1 .3 1-.3 1 .1 1-.1 1 .1 1-.1 1 .1 1-.1 1 .5 1-1.1 1 .9 1-.3 1 .2 1-.5 1 .8 1-.9 1 1.6 1-2.2 1 1.5 1-.5 1 .2 1-.6 1 .7 1-.4 1 .4 1-.6 1 .6 1-.3 1 .5 1-.7 1 .4 1-.7 1 1 1-.7 1 .7 1-.5 1 .1 1-.1 1 .2 1-.2 1 .1 1-.1 1 .2 1-.3 1 .5 1-.5 1 .3 1-.2 1 .1 1-.1 1 .1 1-.1 1 .1 1-.1 1 .2 1-.6 1 .9 1-.8 1 .7 1-.8 1 1.2 1-1.6 1 1.5 1-.9 1 .4 1-.5 1 .7 1-.6 1 .3 1-.1 1 .1 1-.1 1 .2 1-.5 1 .7 1-.8 1 1.2 1-2.1 1 2.9 1-2.9 1 2 1-1.3 1 .9 1-.6 1 .7 1-.8 1 .8 1-.4 1 .6 1-1.3 1 2 1-2.2 1 2.2 1-2 1 1.3 1-1 1 .7 1-.3 1 .1 1-.1 1 .4 1-.4 1 .1 1-.2 1 .4 1-.4 1 .2 1-.1 1 .3 1-.4 1 .2 1-.1 1 .1 1-.1 1 .1 1-.1 1 .1 1-.1 1 .1 1-.1 1 .1 1-.1 1 .2 1-.8 1 2.1 1-3.7 1 3.7 1-1.8 1 .5 1-.2 1 .1 1-.1 1 .2 1-.5 1 1.1 1-1.7 1 1.9 1-1 1 .1 1-.1 1 .1 1-.2 1 .4 1-.4 1 .6 1-.6 1 .2 1-.2 1 .5 1-.7 1 .5 1-.2 1 .2 1-.4 1 .4 1-.2 1 .2 1-.9 1 1.8 1-1.8 1 1.4 1-1 1 .7 1-.4 1 .1 1-.1 1 .1 1-.1 1 .6 1-1 1 .9 1-.9 1 .6 1-.4 1 .5 1-.3 1 .1 1-.3 1 .3 1-.5 1 .9 1-1.3 1 1.9 1-2 1 1.2 1-.3 1 .3 1-.8 1 .8 1-.3 1 .5 1-.6 1 .5 1-.6 1 .9 1-.8 1 .2 1-.1 1 .1 1-.1 1 .1 1-.1 1 .5 1-.9 1 1.1 1-.8 1 .2 1-.1 1 .1 1-.1 1 .1 1-.1 1 .1 1-.2 1 .4 1-.4 1 .6 1-1.3 1 1.2 1-.4 1 .1 1-.1 1 .1 1-.1 1 .2 1-.3 1 .6 1-.6 1 .5 1-.9 1 1.1 1-.8 1 .4 1-.5 1 1 1-1.1 1 1.2 1-2.3 1 2.2 1-.7 1 .5 1-.6 1 .3 1-.5 1 1 1-.9 1 .4 1-.2 1 .2 1-.4 1 .3 1-.1 1 .1 1-.1 1 .2 1-.4 1 .3 1-.1 1 .2 1-.2 1 .1 1-.1 1 .5 1-1.5 1 2.1 1-2.4 1 1.9 1-.7 1 .3 1-.2 1 .2 1-.2 1 .5 1-.5 1 .2 1-.5 1 1.2 1-2.6 1 2.7 1-1 1 .1 1-.1 1 .1 1-.1 1 .5 1-.6 1 .2 1-.1 1 .1 1-.1 1 .7 1-1.2 1 1.5 1-1.1 1 .3 1-.9 1 1.1 1-.5 1 .3 1-.5 1 .6 1-.4 1 .2 1-.2 1 1.2 1-2.3 1 2.9 1-3 1 1.6 1-.4 1 .6 1-.7 1 .4 1-.2 1 .4 1-.4 1 .1 1-.1 1 .3 1-.4 1 .5 1-.6 1 .3 1-.1 1 .2 1-.6 1 1 1-1 1 .6 1-.2 1 .8 1-1.8 1 1.9 1-.9 1 .1 1-.2 1 .7 1-1.3 1 1.9 1-2.3 1 1.8 1-.7 1 .1 1-.2 1 .7 1-1.1 1 .7 1-.8 1 1 1-.8 1 1.2 1-1.2 1 .6 1-.2 1 .1 1-.1 1 .2 1-.2 1 .1 1-.1 1 .2 1-.5 1 1 1-.7 1 .1 1-.1 1 .5 1-1 1 1.2 1-1.8 1 2.3 1-1.3 1 .2 1-.1 1 .1 1-.1 1 .1 1-.1 1 .1 1-.1 1 .1 1-.1 1 .1 1-.2 1 .3 1-.2 1 .1 1-.1 1 .1 1-.1 1 .4 1-.4 1 .2 1-.2 1 .3 1-.7 1 .8 1-.7 1 .5 1-.3 1 .7 1-.7 1 .2 1-.1 1 .1 1-.1 1 .1 1-.1 1 .3 1-.7 1 1.1 1-1.2 1 1.3 1-.9 1 .8 1-.8 1 .2 1-.1 1 .7 1-1.5 1 1.1 1-.4 1 .5 1-.5 1 .2 1-.2 1 .6 1-.8 1 .5 1-.2 1 .1 1-.1 1 .2 1-.4 1 .7 1-.7 1 .4 1-.2 1 .1 1-.1 1 .1 1-.1 1 .3 1-.5 1 .4 1-.2 1 .1 1-.1 1 .1 1-.1 1 .3 1-.3 1 .1 1-.1 1 .1 1-.1 1 .1 1-.1 1 .4 1-.6 1 .4 1-.2 1 .1 1-.1 1 .1 1-.1 1 .4 1-.8 1 1.2 1-1.1 1 .5 1-.4 1 .4 1-.2 1 .2 1-.7 1 .9 1-.4 1 .2 1-.5 1 .4 1-.1 1 .1 1-.1 1 .1 1-.1 1 .1 1-.1 1 .2 1-.2 1 .1 1-.1 1 .1 1-.1 1 .1 1-.1 1 .2 1-.8 1 1.5 1-1.1 1 .6 1-.5 1 .3 1-.2 1 .2 1-.3 1 .5 1-1.1 1 2 1-1.8 1 1 1-.8 1 .5 1-.5 1 .5 1-.2 1 .1 1-.2 1 .6 1-1.1 1 1.3 1-1.5 1 1.2 1-.4 1 .2 1-.2 1 .2 1-.2 1 .3 1-.4 1 .3 1-.2 1 .3 1-.4 1 .4 1-.6 1 .5 1-.2 1 .5 1-1 1 .7 1-.2 1 .5 1-.8 1 .7 1-.9 1 .7 1-.2 1 .4 1-1 1 1 1-.7 1 .6 1-.3 1 .1 1-.1 1 .4 1-.4 1 .2 1-.4 1 .6 1-.4 1 .2 1-.6 1 .6 1-.5 1 1 1-1.5 1 1.7 1-1.4 1 .9 1-.4 1 .2 1-.4 1 .5 1-.3 1 .1 1-.1 1 .1 1-.1 1 .1 1-.1 1 .2 1-.3 1 .7 1-1.2 1 1.3 1-1.3 1 1.6 1-2 1 1.9 1-1.3 1 .6 1-.4 1 .3 1-.1 1 .1 1-.1 1 .1 1-.1 1 .4 1-.6 1 .4 1-.2 1 .1 1-.5 1 1.4 1-1.8 1 1.8 1-1.1 1 .5 1-1 1 1.1 1-.5 1 .1 1-.2 1 .5 1-1.1 1 1.4 1-.9 1 .5 1-.6 1 .7 1-.4 1 .1 1-.1 1 .2 1-.3 1 .9 1-1.5 1 1.5 1-1.4 1 1.1 1-.6 1 .5 1-.7 1 .5 1-.3 1 .5 1-.7 1 1.5 1-2 1 1 1-.2 1 .4 1-.4 1 .2 1-.2 1 .2 1-.4 1 .9 1-1.4 1 1.8 1-2.1 1 2.3 1-2.2 1 1.1 1-.5 1 .5 1-.2 1 .2 1-.4 1 1.1 1-1.8 1 1.9 1-1.6 1 .9 1-.4 1 .5 1-.7 1 .5 1-.2 1 .1 1-.1 1 .2 1-.5 1 1.2 1-1.1 1 .4 1-.2 1 .2 1-.2 1 .1 1-.1 1 .1 1-.1 1 .4 1-1 1 1 1-.4 1 .5 1-.5 1 .1 1-.1 1 .1 1-.3 1 .4 1-.2 1 .1 1-.1 1 .1 1-.1 1 .3 1-.6 1 1 1-1.2 1 .6 1-.1 1 .2 1-.4"/>
<path class="t r" d="M138 356l1 1.1 1-1 1 1.4 1-1.8 1 1.7 1-2 1 2.7 1-2.7 1 1.9 1-1.4 1 1.7 1-2 1 1.8 1-1.3 1 1.1 1-1.4 1 1.7 1-1.6 1 1.4 1-1.5 1 1.7 1-1.8 1 1.7 1-1.5 1 1.6 1-1.4 1 1.3 1-1.4 1 1.5 1-1.4 1 1 1-1.2 1 1.5 1-1.5 1 1.4 1-1.5 1 1.5 1-1.3 1 1.4 1-1.3 1 1.2 1-1.4 1 1.3 1-1.2 1 1.3 1-1.1 1 .8 1-1.1 1 1.3 1-1.2 1 1.5 1-1.5 1 1.4 1-1.5 1 1.5 1-1.7 1 1.5 1-1.5 1 1.8 1-1.4 1 1.3 1-1.5 1 1.4 1-1.4 1 1.4 1-1.6 1 1.9 1-1.7 1 1.2 1-1 1 1.4 1-1.9 1 1.7 1-1.5 1 1.5 1-1.4 1 1.6 1-1.6 1 1.5 1-1.7 1 1.7 1-1.3 1 1.2 1-1.2 1 1.3 1-1.2 1 1.1 1-1.2 1 1.4 1-1.7 1 1.6 1-1.5 1 1.5 1-1.4 1 1.3 1-1.4 1 1.4 1-1.4 1 1.5 1-1.3 1 1 1-1.3 1 1.8 1-2 1 2.1 1-1.6 1 1.4 1-1.6 1 1.5 1-1.7 1 1.6 1-1.3 1 1.3 1-1.3 1 1.2 1-1.1 1 1 1-1.1 1 1.7 1-2.2 1 1.7 1-1.4 1 1.5 1-1.5 1 1.7 1-1.5 1 1.6 1-1.6 1 1.4 1-1.5 1 1.3 1-1.5 1 1.5 1-1.5 1 1.5 1-1.8 1 2.2 1-1.6 1 1.4 1-1.7 1 1.6 1-1.3 1 1.3 1-1.6 1 1.4 1-1.2 1 1.5 1-1.3 1 1 1-1.1 1 1.4 1-1.3 1 1.4 1-1.6 1 1.4 1-1.4 1 1.4 1-1.3 1 1.2 1-1.4 1 1.4 1-1.3 1 1.5 1-1.5 1 1.5 1-1.7 1 1.6 1-1.5 1 1.6 1-1.7 1 1.7 1-1.3 1 1.2 1-1.6 1 1.5 1-1.7 1 2 1-1.7 1 1.5 1-1.2 1 1.1 1-1.4 1 1.5 1-1.3 1 1.3 1-1.4 1 1.5 1-1.5 1 1.5 1-1.2 1 1 1-1.5 1 1.5 1-1.5 1 1.8 1-1.9 1 2.6 1-2.5 1 2 1-1.7 1 1.1 1-1.2 1 1.5 1-1.4 1 1.2 1-1.2 1 1.2 1-1.3 1 1.3 1-1.2 1 1.5 1-1.7 1 1.6 1-1.7 1 1.4 1-1.4 1 1.8 1-1.7 1 1.6 1-1.4 1 1.2 1-1.5 1 1.5 1-1.5 1 1.5 1-1.7 1 2 1-1.5 1 1.4 1-1.6 1 1.5 1-1.2 1 1.1 1-1.2 1 1.4 1-1.3 1 1.1 1-1.3 1 1.5 1-1.4 1 1.1 1-1 1 1.3 1-1.5 1 1.4 1-1.4 1 1.6 1-2 1 2.1 1-1.7 1 1.5 1-1.3 1 1.1 1-1.1 1 1.5 1-1.8 1 1.7 1-1.4 1 1.5 1-1.9 1 1.5 1-1.2 1 1.4 1-2 1 1.9 1-1.2 1 1.5 1-1.8 1 1.7 1-1.4 1 1.1 1-1.1 1 1.2 1-1.3 1 1.4 1-1.7 1 1.8 1-1.6 1 1.4 1-1.3 1 1.3 1-1.5 1 1.7 1-1.8 1 1.8 1-1.4 1 1.1 1-1.3 1 1.6 1-1.6 1 1.8 1-1.9 1 1.7 1-1.6 1 1.5 1-1.7 1 1.5 1-1.1 1 1.1 1-1.5 1 1.4 1-1.3 1 1.5 1-1.5 1 1.5 1-1.2 1 1 1-1.3 1 1.5 1-1.2 1 1.1 1-1.4 1 1.6 1-1.6 1 1.6 1-1.3 1 1.1 1-1.3 1 1.3 1-1.4 1 1.4 1-1.4 1 1.5 1-1.4 1 1.2 1-1 1 1.4 1-1.6 1 1.4 1-1.4 1 1.6 1-1.4 1 1.1 1-1.3 1 1.6 1-1.5 1 1.2 1-1.4 1 1.7 1-1.9 1 1.9 1-1.7 1 1.8 1-1.6 1 1.6 1-1.9 1 1.6 1-1.6 1 1.7 1-1.8 1 1.8 1-1.5 1 1.3 1-1.4 1 1.3 1-1.2 1 1.3 1-1.4 1 1.4 1-1.1 1 1.3 1-1.6 1 1.7 1-1.4 1 1 1-1 1 1 1-1.1 1 1.3 1-1.4 1 1.2 1-1.4 1 1.6 1-1.2 1 1.4 1-1.4 1 1.2 1-1.5 1 1.6 1-1.7 1 1.5 1-1.6 1 1.7 1-1.8 1 2.3 1-2.2 1 2.3 1-2.1 1 1.8 1-2 1 2 1-1.8 1 1.6 1-1.6 1 1.4 1-1.2 1 1.1 1-1.2 1 1.3 1-1.3 1 1.2 1-1.3 1 1.4 1-1.3 1 1.4 1-1.6 1 1.6 1-1.2 1 1.2 1-1.6 1 1.6 1-1.4 1 1.5 1-1.9 1 2.1 1-1.7 1 1.6 1-1.6 1 1.3 1-1.4 1 1.4 1-1.1 1 1.3 1-1.3 1 1.2 1-1.4 1 1.5 1-1.3 1 1.3 1-1.6 1 1.4 1-1.4 1 1.7 1-1.7 1 1.4 1-1.6 1 2 1-1.8 1 1.4 1-1.5 1 1.6 1-1.3 1 1.4 1-1.6 1 1.6 1-1.3 1 1.1 1-1.1 1 1.4 1-1.8 1 1.5 1-1.3 1 1.3 1-1.5 1 1.8 1-1.5 1 1.1 1-1 1 1.3 1-1.4 1 1.3 1-1.1 1 .8 1-1 1 1.3 1-1.1 1 .9 1-1.1 1 1.3 1-1.3 1 1.2 1-1.4 1 1.7 1-1.5 1 1.4 1-1.4 1 1.3 1-1.5 1 1.7 1-1.4 1 1.1 1-1.1 1 1.3 1-1.7 1 1.6 1-1.8 1 1.9 1-1.7 1 1.6 1-1.3 1 1.2 1-1.5 1 1.7 1-1.7 1 1.7 1-1.3 1 1.4 1-1.5 1 1.6 1-1.8 1 1.6 1-1.4 1 1.1 1-1 1 1.1 1-1.2 1 1.1 1-1 1 1.3 1-1.6 1 1.6 1-1.6 1 1.5 1-1.4 1 1.5 1-1.4 1 1.2 1-1.2 1 1.2 1-1.4 1 1.4 1-1.2 1 1.3 1-1.3 1 1.2 1-1.2 1 1.3 1-1.5 1 1.4 1-1.1 1 1.3 1-1.5 1 1.4 1-1.3 1 1.3 1-1.5 1 1.7 1-1.8 1 1.9 1-2.2 1 2.4 1-1.9 1 1.5 1-1.5 1 1.6 1-1.5 1 1.6 1-1.9 1 1.7 1-1.7 1 1.5 1-1.5 1 1.9 1-1.6 1 1.2 1-1.1 1 1.3 1-1.4 1 1.4 1-1.4 1 1.5 1-1.7 1 1.6 1-1.6 1 1.8 1-1.8 1 1.4 1-1.4 1 1.5 1-1.2 1 1 1-1.2 1 1.5 1-1.7 1 1.4 1-1.2 1 1.3 1-1.3 1 1.5 1-1.2 1 .9 1-1.1 1 1.1 1-1.1 1 1.1 1-1.3 1 1.3 1-1.3 1 1.3 1-1.3 1 1.5 1-1.5 1 1.4 1-1.3 1 1.7 1-1.8 1 1.4 1-1.6 1 1.9 1-1.7 1 1.6 1-1.6 1 1.5 1-1.5 1 1.5 1-1.3 1 1.3 1-1.4 1 1.4 1-1.3 1 1.6 1-1.4 1 .8 1-.8 1 .9 1-1 1 1 1-1.2 1 1.3 1-1.3 1 1.3 1-1.1 1 1.2 1-1.2 1 1.2 1-1.4 1 1.6 1-1.6 1 1.7 1-2.1 1 2 1-1.8 1 1.8 1-1.4 1 1.4 1-1.7 1 1.4 1-1.1 1 1.1 1-1.3 1 1.2 1-1.4 1 1.4 1-1.3 1 1.5 1-1.2 1 1.2 1-1.4 1 1.8 1-1.6 1 1.2 1-1.4 1 1.3 1-1.3 1 1.3 1-1.4 1 1.7 1-1.7 1 1.7 1-2 1 1.9 1-1.7 1 1.7 1-1.6 1 1.5 1-1.2 1 1.2 1-1.3 1 1.3 1-1.4 1 2 1-2.3 1 1.8 1-1.4 1 1.4 1-1.6 1 1.4 1-1.2 1 1.4 1-1.4 1 1.5 1-1.5 1 1.5 1-1.7 1 1.7 1-1.7 1 1.3 1-1 1 1.4 1-1.6 1 1.5 1-1.3 1 1 1-1.4 1 1.4 1-1 1 1.3 1-1.3 1 1.3 1-1.7 1 1.6 1-1.3 1 1.2 1-1.3 1 1.3 1-1.5 1 1.6 1-1.5 1 1.5 1-1.5 1 1.7 1-1.8 1 1.7 1-1.3 1 1.3 1-1.4 1 1.1 1-1 1 1 1-1.1 1 1.3 1-1.5 1 1.3 1-.9 1 1 1-1.5 1 1.6 1-1.2 1 1.2 1-1.2 1 1.2 1-1.4 1 1.4 1-1.3 1 1.3 1-1.4 1 1.6 1-1.5 1 1.2 1-1.5 1 1.6 1-1.4 1 1.4 1-1.6 1 1.8 1-1.6 1 1.4 1-1.2 1 1.2 1-1.4 1 1.3 1-1.2 1 1.3 1-1.5 1 1.5 1-1.5 1 1.6 1-1.2 1 1.2 1-1.4 1 1.3 1-1.5 1 1.4 1-1.1 1 1 1-1.2 1 1.3 .5-1.3 .5 1.3 .5-1.1 .5 1.2 .5-1.3 .5 1.1 .5-1.1 .5 3.8 .5-6.4 .5 6.9 .5-6.6 .5 5.7 .5-5.4 .5 4.9 .5-4.2 .5 3.6 .5-3 .5 2.5 .5-2.5 .5 3.1 .5-3.5 .5 3.7 .5-3.9 .5 3.9 .5-4.3 .5 4.3 .5-4.1 .5 4 .5-3.7 .5 3.5 .5-3.2 .5 2.9 .5-2.6 .5 2.1 .5-2 .5 2.1 .5-1.7 .5 1.5 .5-1.8 .5 2.1 1-1.9 1 1.9 1-1.7 1 1.2 1-1.2 1 1.4 1-1.4 1 1.2 1-1.3 1 1.6 1-1.6 1 1.7 1-1.9 1 1.7 1-1.7 1 1.5 1-1.1 1 1.4 1-1.7 1 1.5 1-1.3 1 1.7 1-1.9 1 1.7 1-1.7 1 1.6 1-1.5 1 1.3 1-1.2 1 1.5 1-1.6 1 1.4 1-1.5 1 1.5 1-1.5 1 1.4 1-1.1 1 1.5 1-1.8 1 1.4 1-1.3 1 1.2 1-1 1 1.3 1-1.6 1 1.7 1-1.6 1 1.5 1-1.4 1 1.1 1-.9 1 1.1 1-1.2 1 1.1 1-1.1 1 1.3 1-1.3 1 1.4 1-1.8 1 1.4 1-1.2 1 1.2 1-1.1 1 1.2 1-1.5 1 1.8 1-1.6 1 1.4 1-1.3 1 1.4 1-1.7 1 1.6 1-1.4 1 1.7 1-1.7 1 1.6 1-1.5 1 1.4 1-1.7 1 1.5 1-1.3 1 1.5 1-1.5 1 1.5 1-1.3 1 1.6 1-2.1"/>
<path class="t b" d="M138 387.7l1 1.2 1-1.4 1 1.2 1-.9 1 .7 1-.8 1 .9 1-.8 1 .7 1-.7 1 1 1-1.1 1 .8 1-.7 1 1 1-1.2 1 1.2 1-1.3 1 1 1-.7 1 .8 1-.8 1 .8 1-.8 1 .7 1-.7 1 .9 1-.9 1 1 1-1.3 1 1.3 1-1.2 1 1.2 1-1.2 1 1.1 1-.9 1 .9 1-1 1 .9 1-1 1 .9 1-.7 1 .7 1-.8 1 .9 1-.8 1 .9 1-1.1 1 1.1 1-1.1 1 1.3 1-1.1 1 1.1 1-1.2 1 1 1-.9 1 1.1 1-1.4 1 1.1 1-.8 1 .7 1-.7 1 .7 1-.9 1 1.1 1-1.1 1 1.4 1-1.4 1 1.1 1-1 1 1.1 1-1.3 1 1.4 1-1.2 1 1 1-.9 1 .9 1-.9 1 .9 1-.9 1 .9 1-1 1 1 1-1 1 .9 1-1 1 1.3 1-1.7 1 1.8 1-1.2 1 1 1-1.2 1 1.1 1-1 1 .8 1-.7 1 .7 1-.7 1 .8 1-.9 1 1 1-.9 1 .7 1-.8 1 .8 1-.8 1 1 1-.9 1 .7 1-.9 1 1 1-.8 1 .8 1-.9 1 .8 1-.9 1 1.1 1-1 1 1 1-.9 1 .9 1-.8 1 .6 1-.8 1 1.1 1-1.2 1 1 1-.8 1 .7 1-.9 1 1 1-1.1 1 1.1 1-.9 1 1.1 1-1.1 1 1.1 1-1 1 .9 1-1 1 .8 1-.6 1 .8 1-1.5 1 2.1 1-1.6 1 .9 1-.9 1 .8 1-.7 1 .7 1-.7 1 .9 1-1 1 1.2 1-1.6 1 1.6 1-1.4 1 1.1 1-1 1 .9 1-.7 1 .9 1-1 1 .9 1-1 1 .9 1-.6 1 .8 1-1.1 1 1.8 1-1.9 1 1.2 1-1 1 1 1-1 1 .8 1-.7 1 1 1-1 1 1 1-1.2 1 1.1 1-1 1 .9 1-.8 1 .7 1-.8 1 .9 1-.8 1 .9 1-1 1 1.2 1-1.2 1 .9 1-.8 1 .7 1-.8 1 1 1-1 1 1.1 1-.9 1 .5 1-.6 1 .7 1-1 1 1.7 1-2 1 1.9 1-1.4 1 .8 1-.9 1 1.1 1-.9 1 .8 1-.7 1 .8 1-1 1 .9 1-1.4 1 1.7 1-1.7 1 1.8 1-1.3 1 .8 .5-.6 .5 .8 .5-1 .5 .8 .5-.8 .5 .8 .5-2.5 .5 6 .5-7 .5 4.8 .5-3.1 .5 2.9 .5-3 .5 3.1 .5-3 .5 2.9 .5-2.7 .5 2.7 .5-2.8 .5 2.8 .5-2.7 .5 4.7 .5-7.7 .5 8.5 .5-7.1 .5 4.8 .5-3.7 .5 3.3 .5-3 .5 2.7 .5-2.5 .5 2.4 .5-2.4 .5 2.4 .5-2.3 .5 2.2 .5-2 .5 2 .5-1.8 .5 1.7 .5-1.7 .5 1.6 .5-1.6 .5 1.5 .5-1.5 .5 1.4 1-1.2 1 1.1 1-1 1 1 1-.9 1 .8 1-.8 1 .7 1-.8 1 .9 1-1.1 1 1.2 1-.9 1 .8 1-.8 1 .7 1-.7 1 .8 1-.8 1 .7 1-.7 1 .7 1-.8 1 .7 1-.7 1 .9 1-1.6 1 1.8 1-1.1 1 .7 1-.6 1 .8 1-.7 1 .6 1-.8 1 .9 1-.8 1 1.1 1-1.4 1 1 1-.7 1 .9 1-1 1 .8 1-.9 1 1.1 1-1 1 .8 1-.7 1 .9 1-.9 1 .7 1-.9 1 1.1 1-1.1 1 .9 1-.8 1 1 1-1.1 1 1.2 1-1.1 1 .8 1-.6 1 .7 1-.9 1 1 1-.8 1 .7 1-.9 1 .9 1-.8 1 .7 1-.8 1 .9 1-.9 1 .7 1-.7 1 .7 1-.6 1 .8 1-1.2 1 1.1 1-.8 1 1 1-1.3 1 1.3 1-1 1 .8 1-.8 1 .8 1-.8 1 1 1-.9 1 .9 1-1 1 1 1-1.1 1 .9 1-.8 1 .8 1-1 1 1.1 1-.8 1 .7 1-.8 1 .8 1-1 1 1.1 1-.8 1 .8 1-.9 1 1.1 1-1.3 1 1.4 1-1.7 1 2.2 1-2.1 1 1.7 1-1.2 1 .8 1-1.1 1 1.1 1-1 1 1.5 1-1.5 1 1.1 1-1 1 .7 1-.6 1 .8 1-.8 1 .8 1-1 1 1.1 1-.9 1 .8 1-.9 1 1.1 1-1.2 1 1.4 1-2 1 1.8 1-1.1 1 .8 1-.9 1 1.1 1-1 1 .9 1-.9 1 .9 1-.8 1 1.1 1-1.5 1 1.6 1-1.7 1 1.3 1-1 1 1 1-1 1 .9 1-.9 1 1.3 1-1.3 1 .9 1-1 1 1.2 1-.9 1 .9 1-1.3 1 1.9 1-2.3 1 1.8 1-1 1 .7 1-.7 1 .8 1-.9 1 1 1-.9 1 .8 1-1 1 1.1 1-.8 1 .6 1-.7 1 .8 1-.9 1 .8 1-.8 1 1.2 1-1.8 1 2 1-1.6 1 1.2 1-1.2 1 1.2 1-1.5 1 1.5 1-1 1 .8 1-.9 1 1.2 1-1.1 1 .8 1-.8 1 1.3 1-1.9 1 1.5 1-.9 1 .8 1-.9 1 1.1 1-.9 1 .7 1-.8 1 1 1-1.2 1 1.1 1-1 1 1.3 1-1.2 1 .9 1-.7 1 .6 1-1.1 1 1.3 1-1.2 1 1.1 1-.8 1 .7 1-.8 1 .9 1-.8 1 .7 1-.7 1 .8 1-.8 1 .8 1-.9 1 .8 1-.9 1 .9 1-.9 1 1.1 1-1.5 1 1.6 1-1.1 1 .7 1-.6 1 .6 1-.6 1 .8 1-.8 1 .8 1-.8 1 .7 1-.7 1 .9 1-.9 1 .8 1-.8 1 .7 1-.6 1 .7 1-.9 1 .8 1-.7 1 .8 1-.7 1 .6 1-.9 1 1.5 1-1.9 1 1.5 1-1 1 1 1-.9 1 .7 1-.8 1 .7 1-.7 1 .9 1-.9 1 .8 1-.9 1 1 1-.9 1 .8 1-.8 1 .9 1-1.2 1 1.2 1-1 1 1.7 1-2.5 1 2.4 1-1.6 1 1 1-1 1 1 1-.7 1 .7 1-.9 1 .9 1-1 1 1.1 1-.8 1 .6 1-1.2 1 1.9 1-1.8 1 1.1 1-.8 1 .7 1-.5 1 .6 1-.7 1 .7 1-1 1 1 1-.9 1 .9 1-.8 1 1 .5-.9 .5 .7 .5-.9 .5 .9 .5-.7 .5 .8 .5-1.1 .5 1.4 .5-2 .5 3.2 .5-4.6 .5 5.2 .5-5.1 .5 4.9 .5-3.8 .5 2.9 .5-2.9 .5 3 .5-2.9 .5 2.9 .5-3.1 .5 3.1 .5-3.2 .5 3.3 .5-3.3 .5 3.3 .5-3.3 .5 3.4 .5-3.1 .5 2.6 .5-2.5 .5 2.3 .5-1.8 .5 1.4 .5-1.1 .5 .9 1-.9 1 .8 1-.7 1 .8 1-.8 1 .9 1-1 1 .9 1-1 1 1 1-.8 1 1.1 1-1.5 1 1.3 1-1.5 1 1.8 1-1.4 1 1 1-1 1 1 1-.9 1 1.1 1-1 1 .7 1-.8 1 .9 1-.9 1 .9 1-.9 1 .9 1-.9 1 1 1-1.1 1 1 1-.7 1 .7 1-.8 1 .8 1-.8 1 .8 1-.8 1 .9 1-1.2 1 1.1 1-.8 1 .8 1-1 1 .9 1-.7 1 .8 1-1 1 .9 1-1 1 1.1 1-.8 1 .7 1-.6 1 .7 1-.8 1 .8 1-.9 1 .9 1-.8 1 .8 1-.9 1 .9 1-.8 1 .8 1-.8 1 .8 1-.9 1 .9 1-.9 1 .8 1-.6 1 .6 1-.8 1 1.1 1-1.5 1 1.6 1-1.7 1 1.4 1-1 .5 1 .5-1 .5 1.1 .5-1.1 .5 1.1 .5-.9 .5 3.5 .5-10.5 .5 10.7 .5-6.3 .5 6.9 .5-9.5 .5 11.2 .5-11.8 .5 11.5 .5-11.1 .5 11 .5-10.8 .5 10.4 .5-8.8 .5 6.1 .5-4.3 .5 4.8 .5-6 .5 7.7 .5-9.5 .5 9 .5-7.4 .5 5.8 .5-4.6 .5 4.4 .5-4.3 .5 3.9 .5-2.8 .5 3.2 .5-3.4 .5 3.4 .5-3.1 .5 3 .5-3.8 .5 3.1 .5-2.1 .5 2.5 .5-3 .5 2.4 .5-2.8 .5 3.6 .5-3.1 .5 2.9 .5-2.4 .5 2.4 .5-2.8 .5 2.3 .5-2.2 .5 2.1 .5-2 .5 1.8 .5-2.4 .5 3.1 .5-2.6 .5 2.3 .5-2.5 .5 2.7 .5-2.8 .5 2.9 .5-2.4 .5 2.2 .5-2.6 1 2.8 1-2.5 1 1.9 1-2.4 1 2.5 1-2.1 1 2.2 1-2 1 1.7 1-2.2 1 2.5 1-2 1 1.5 1-1.9 1 2.2 1-2.2 1 1.9 1-1.8 1 2.1 1-2 1 1.9 1-1.6 1 1.6 1-1.9 1 1.8 1-1.7 1 2 1-1.9 1 1.4 1-1.4 1 1.8 1-1.7 1 1.5 1-1.3 1 1 1-1.2 1 1.3 1-1.3 1 1.2 1-1.2 1 1.6 1-1.8 1 1.6 1-1.4 1 1.5 1-1.4 1 1.4 1-1.6 1 1.4 1-1.3 1 1.5 1-1.5 1 2.2 1-2.8 1 2.8 1-2.8 1 2.2 1-1.4 1 1.4 1-2.1 1 2 1-1.7 1 1.5 1-1.2 1 1.4 1-1.3 1 1 1-1.2 1 1.1 1-1.2 1 1.7 1-1.5 1 1.5 1-1.7 1 1.6 1-1.6 1 1.7 1-1.3 1 .9 1-1.3 1 1.7 1-1.5 1 1.5 1-1.8 1 1.8 1-1.4 1 1.2 1-1.3 1 1.2 1-1.3 1 1.3 1-1.2 1 1.6 1-1.7 1 1.3 1-1.4 1 1.3 1-1.1 1 1.5 1-1.8 1 1.6 1-1.3 1 1.9 1-1.7 1 1.1 1-2 1 2.6 1-2.3 1 2.2 1-1.8 1 1.6 1-2 1 2.4 1-2.2 1 1.9 1-2 1 2 1-1.6 1 1.2 1-1.9 1 2 1-1.5 1 1.5 1-2 1 1.8 1-1.2 1 1.4 1-1.3 1 1.7 1-2.1 1 1.9 1-1.8 1 1.9 1-2 1 1.7 1-1.5 1 1.4 1-1.4 1 1.8 1-1.5 1 1.2 1-1.4 1 1.7 1-1.8 1 1.3 1-1 1 1.1 1-1.4 1 1.7 1-2 1 1.8 1-1.4 1 1.5 1-1.5 1 1.5 1-1.3 1 1.3 1-1.6 1 1.6 1-1.4 1 1.5 1-1.4 1 1 1-1.3 1 1.3 1-1.3 1 1.4"/>
<path class="t g" d="M138 419.4l.5 .6 .5-.6 .5 .4 .5-.6 .5 .6 .5-.5 .5 .5 .5-.5 .5 .6 .5-.4 .5 .5 .5-.3 .5 .3 .5-.6 .5 .6 .5-.5 .5 .4 .5-.4 .5 .3 .5-.6 .5 .5 .5-.4 .5 .6 .5-.5 .5 .5 .5-.4 .5 .5 .5-.6 .5 .4 .5-.3 .5 .6 .5-.5 .5 .5 .5-.6 .5 .7 .5-.4 .5 .3 .5-.4 .5 .4 .5-.6 .5 .6 .5-.8 .5 .7 .5-.6 .5 .5 .5-.5 .5 .5 .5-.7 .5 .6 .5-.2 .5 .3 .5-.5 .5 .7 .5-.5 .5 .5 .5-.5 .5 .3 .5-.3 .5 .3 .5-.4 .5 .3 .5-.5 .5 .6 .5-.4 .5 .5 .5-.5 .5 .4 .5-.4 .5 .5 .5-.4 .5 .4 .5-.3 .5 .3 .5-.5 .5 .6 .5-.8 .5 .5 .5-.7 .5 .6 .5-.6 .5 .5 .5-.4 .5 .7 .5-.6 .5 .6 .5-.3 .5 .4 .5-.3 .5 .5 .5-.6 .5 .4 .5-.6 .5 .6 .5-.7 .5 .6 .5-.5 .5 .5 .5-.4 .5 .3 .5-.4 .5 .5 .5-.2 .5 .4 .5-.4 .5 .2 .5-.5 .5 .5 .5-.4 .5 .4 .5-.5 .5 .4 .5-.5 .5 .5 .5-.5 .5 .5 .5-.5 .5 .4 .5-.2 .5 .6 .5-.5 .5 .6 .5-.4 .5 .6 .5-.7 .5 .4 .5-.4 .5 .4 .5-.7 .5 .6 .5-.6 .5 .4 .5-.6 .5 .6 .5-.3 .5 .3 .5-.4 .5 .6 .5-.4 .5 .4 .5-.5 .5 .6 .5-.4 .5 .2 .5-.4 .5 .5 .5-.7 .5 .6 .5-.6 .5 .6 .5-.4 .5 .3 .5-.2 .5 .3 .5-.5 .5 .8 .5-.5 .5 .5 .5-.7 .5 .6 .5-.6 .5 .4 .5-.4 .5 .6 .5-.6 .5 .6 .5-.6 .5 .3 .5-.3 .5 .4 .5-.6 .5 .4 .5-.3 .5 .6 .5-.5 .5 .3 .5-.2 .5 .5 .5-.7 .5 .8 .5-.5 .5 .4 .5-.6 .5 .4 .5-.4 .5 .3 .5-.5 .5 .5 .5-.4 .5 .3 .5-.4 .5 .6 .5-.6 .5 .9 .5-.5 .5 .3 .5-.3 .5 .5 .5-.6 .5 .7 .5-.5 .5 .4 .5-.7 .5 .4 .5-.6 .5 .3 .5-.4 .5 .7 .5-.4 .5 .4 .5-.1 .5 .4 .5-.6 .5 .5 .5-.8 .5 .5 .5-.4 .5 .4 .5-.4 .5 .3 .5-.5 .5 .6 .5-.3 .5 .4 .5-.7 .5 .4 .5-.2 .5 .5 .5-.2 .5 .6 .5-.1 .5 .6 .5-.2 .5 .3 .5-.4 .5-.1 .5-.8 .5-.3 .5-1 .5-.2 .5-.7 .5 .1 .5-.1 .5 .8 .5 .6 .5 1.3 .5 .8 .5 1.4 .5 .5 .5 .7 .5-.1 .5-.4 .5-1.3 .5-1.5 .5-2.3 .5-1.7 .5-2 .5-.8 .5-.3 .5 1.5 .5 1.7 .5 3.2 .5 2.5 .5 3.1 .5 1.3 .5 1.1 .5-1.2 .5-1.7 .5-3.1 .5-2.7 .5-3 .5-1.6 .5-1.3 .5 .8 .5 1.5 .5 3.1 .5 2.8 .5 2.7 .5 1 .5 .7 .5-1.3 .5-2.1 .5-3.5 .5-3.1 .5-2.7 .5-.4 .5 1.2 .5 3.6 .5 3.2 .5 3.7 .5 1.6 .5 .4 .5-1.7 .5-2.4 .5-3.6 .5-3 .5-2.4 .5 .1 .5 1.5 .5 3.7 .5 3.7 .5 3.6 .5 1.1 .5-.2 .5-3 .5-3.7 .5-4.1 .5-2.5 .5-1.1 .5 2.2 .5 3.6 .5 4.6 .5 3.2 .5 1.5 .5-1.3 .5-3.2 .5-5.1 .5-4.2 .5-3 .5 1.5 .5 3.5 .5 5.5 .5 4.2 .5 2.7 .5-.7 .5-2.5 .5-5 .5-4.8 .5-3.8 .5 0 .5 2.5 .5 5.6 .5 5.1 .5 4.1 .5 .3 .5-2.4 .5-5.2 .5-5.3 .5-4.3 .5-.6 .5 2.1 .5 5.2 .5 5.3 .5 4.4 .5 .7 .5-2.1 .5-5.2 .5-5.1 .5-4.2 .5-.8 .5 1.9 .5 5.3 .5 5.7 .5 4.7 .5 .4 .5-2.7 .5-5.9 .5-5.8 .5-4.3 .5 .1 .5 3.3 .5 5.7 .5 4.9 .5 3.3 .5-.6 .5-2.8 .5-4.9 .5-4.4 .5-3.1 .5 .8 .5 3.5 .5 5.4 .5 3.7 .5 1.5 .5-2.2 .5-4 .5-5.1 .5-2.6 .5 .1 .5 3.6 .5 4.3 .5 4.1 .5 .9 .5-1.1 .5-3.9 .5-4.1 .5-3.6 .5 0 .5 2.3 .5 4.3 .5 3.7 .5 2.5 .5-.7 .5-2.2 .5-4.3 .5-3.6 .5-2.2 .5 1.7 .5 3.3 .5 4.4 .5 2.1 .5 0 .5-2.6 .5-3.4 .5-3.6 .5-.8 .5 2.2 .5 4.6 .5 3 .5 .8 .5-2.5 .5-3.9 .5-3.6 .5-.2 .5 2 .5 3.6 .5 2.8 .5 1.7 .5-1.1 .5-1.9 .5-3.8 .5-2.3 .5-1.1 .5 2.2 .5 3.2 .5 3.1 .5 .8 .5-.2 .5-3.1 .5-3.2 .5-2.8 .5 1 .5 2.5 .5 3.7 .5 2 .5 .2 .5-2.1 .5-2.9 .5-3.2 .5-.6 .5 1.3 .5 3.3 .5 2.6 .5 2 .5-.6 .5-1.7 .5-3.2 .5-2.2 .5-1.3 .5 1.7 .5 2.7 .5 3.5 .5 .7 .5-1.2 .5-3.6 .5-2.6 .5-1 .5 1.8 .5 2.5 .5 3 .5 .9 .5-.5 .5-2.8 .5-2.5 .5-2.1 .5 .6 .5 2 .5 3.2 .5 1.7 .5 .3 .5-2.3 .5-2.7 .5-2.5 .5 .2 .5 1.5 .5 3.1 .5 1.9 .5 .9 .5-1.6 .5-2.4 .5-2.8 .5-.7 .5 .8 .5 2.6 .5 2.2 .5 1.7 .5-.6 .5-1.7 .5-3.1 .5-1.4 .5-.6 .5 1.8 .5 1.9 .5 2.6 .5 1 .5-.3 .5-2.2 .5-2.1 .5-2.3 .5-.1 .5 .9 .5 2.9 .5 2.1 .5 1.4 .5-1.1 .5-2.2 .5-2.8 .5-1.3 .5 .1 .5 2.4 .5 2.3 .5 2.2 .5-.1 .5-1.5 .5-2.9 .5-1.8 .5-1 .5 1.6 .5 2.2 .5 3.1 .5 .9 .5-.5 .5-3.1 .5-2.6 .5-2.1 .5 .9 .5 2 .5 3.2 .5 1.6 .5 .4 .5-2.2 .5-2.3 .5-2.6 .5-.1 .5 .9 .5 2.9 .5 2.1 .5 1.2 .5-1.2 .5-1.8 .5-3 .5-1.1 .5 .2 .5 2.3 .5 2.3 .5 1.9 .5-.1 .5-1.4 .5-2.7 .5-1.8 .5-.9 .5 1.6 .5 2.1 .5 2.6 .5 .6 .5-.6 .5-2.5 .5-1.8 .5-1.4 .5 .7 .5 1.3 .5 2.2 .5 .7 .5 .1 .5-1.4 .5-.9 .5-1.3 .5 .1 .5 .3 .5 1.4 .5 .8 .5 .9 .5-.8 .5-.8 .5-1.4 .5-.3 .5-.1 .5 1.2 .5 .7 .5 1.2 .5-.4 .5-.3 .5-1.3 .5-.6 .5-.6 .5 .8 .5 .7 .5 1.2 .5 .2 .5-.1 .5-1.3 .5-.5 .5-.7 .5 .3 .5 .5 .5 1.1 .5 .4 .5 .2 .5-.9 .5-.3 .5-.8 .5 .2 .5 0 .5 .8 .5 0 .5 .3 .5-.8 .5 1.4 .5-1.1 .5 .6 .5-1.3 .5 .8 .5-.7 .5 .8 .5-.7 .5 1.3 .5-.8 .5 .9 .5-1.3 .5 .7 .5-1 .5 .9 .5-.8 .5 1.2 .5-.9 .5 .9 .5-1.1 .5 .7 .5-.8 .5 .8 .5-.6 .5 1.4 .5-1.1 .5 .9 .5-1.2 .5 .4 .5-.8 .5 .6 .5 0 .5 1.4 .5-.7 .5 .2 .5-.8 .5 .4 .5-.8 .5 .6 .5-.6 .5 1.1 .5-.2 .5 1.5 .5-1.5 .5-.2 .5-1.7 .5 .9 .5 .1 .5 1.2 .5-.9 .5 .9 .5-1 .5 .7 .5-.8 .5 .3 .5-.6 .5 1.2 .5-.8 .5 .9 .5-.6 .5 .5 .5-1.4 .5 .7 .5-.3 .5 1.3 .5-.8 .5 .7 .5-1.2 .5 .8 .5-1.1 .5 1.1 .5-.6 .5 .9 .5-.6 .5 .6 .5-1.2 .5 1.1 .5-1.1 .5 .9 .5-.7 .5 .8 .5-.5 .5 .9 .5-1.2 .5 .7 .5-.8 .5 .7 .5-.7 .5 .6 .5-.8 .5 1.2 .5-.5 .5 .5 .5-.6 .5 .1 .5-.4 .5 .6 .5-.6 .5 .9 .5-.6 .5 .5 .5-1.1 .5 .9 .5-1.1 .5 .8 .5-.5 .5 1.2 .5-.6 .5 .6 .5-.7 .5 .4 .5-1.3 .5 .8 .5-.7 .5 1.5 .5-.2 .5 .4 .5-1 .5 .5 .5-1 .5 .4 .5-.8 .5 1.2 .5-.5 .5 .9 .5-.6 .5 1.3 .5-1.2 .5 .5 .5-1.4 .5 1 .5-.7 .5 1 .5-.6 .5 1 .5-1 .5 .5 .5-.6 .5 .5 .5-1 .5 .6 .5-.3 .5 1.5 .5-.6 .5 .4 .5-1.1 .5 .4 .5-.8 .5 1.1 .5-1 .5 1.3 .5-1 .5 1 .5-.9 .5 .4 .5-1.4 .5 .8 .5-.6 .5 1.3 .5-.4 .5 .9 .5-.8 .5 .5 .5-.7 .5 .2 .5-.8 .5 .7 .5-.2 .5 1.3 .5-.4 .5 .5 .5-1.5 .5 .2 .5-1.4 .5 1.8 .5-.5 .5 1.2 .5-.6 .5 .4 .5-1.2 .5 .5 .5-1 .5 1.1 .5-.7 .5 1.1 .5-.7 .5 1 .5-1.4 .5 .7 .5-1 .5 .8 .5-.1 .5 1.4 .5-.6 .5 .1 .5-1.5 .5 .3 .5-.2 .5 .7 .5-.1 .5 1 .5-.5 .5 .5 .5-1.2 .5 .1 .5-1.2 .5 .6 .5-.2 .5 1.4 .5-.3 .5 1 .5-1.2 .5 .4 .5-.6 .5 .4 .5-.4 .5 .7 .5-.5 .5 .9 .5-.8 .5 .6 .5-1.3 .5 .8 .5-.9 .5 .9 .5-.4 .5 1 .5-.9 .5 .7 .5-1.3 .5 .2 .5-.5 .5 1.2 .5 .1 .5 .9 .5-1.3 .5 .7 .5-1.3 .5 .7 .5-.8 .5 1.1 .5-.3 .5 1 .5-.4 .5 .7 .5-1.3 .5 .6 .5-.7 .5 .1 .5-.6 .5 .5 .5-.3 .5 .8 .5-.2 .5 1 .5-1.4 .5 .8 .5-1 .5 .9 .5-.7 .5 .7 .5-.6 .5 .8 .5-.9 .5 .4 .5-.8 .5 .6 .5-.6 .5 1.4 .5-.7 .5 .8 .5-.9 .5 .5 .5-1.1 .5 .6 .5-.6 .5 .9 .5-.3 .5 .9 .5-.8 .5 .7 .5-1.5 .5 .9 .5-.6 .5 .8 .5-.5 .5 1 .5-.7 .5 .4 .5-1.5 .5 1 .5-.9 .5 .9 .5-.3 .5 1.3 .5-.7 .5 .5 .5-1.2 .5 .8 .5-.9 .5 .5 .5-.3 .5 .5 .5-.5 .5 .7 .5-.5 .5 .4 .5-.7 .5 .6 .5-.9 .5 1 .5-.4 .5 .9 .5-.8 .5 .5 .5-.9 .5 .5 .5-1 .5 .5 .5-.5 .5 1.2 .5-.4 .5 .8 .5-.6 .5 .2 .5-.6 .5 .5 .5-1.1 .5 1.4 .5-.8 .5 .8 .5-.9 .5 .6 .5-1.1 .5 .6 .5-.1 .5 1.1 .5-.2 .5 .6 .5-1.2 .5 .3 .5-.8 .5 .5 .5-.8 .5 1.1 .5-.7 .5 1 .5-.8 .5 1 .5-.7 .5 .7 .5-1.3 .5 .4 .5-.7 .5 1 .5-.2 .5 1.7 .5-.8 .5-.3 .5-1.5 .5 .9 .5-.4 .5 1.1 .5-.8 .5 1.2 .5-.7 .5 .3 .5-1.3 .5 .6 .5-.7 .5 1.4 .5-.4 .5 1 .5-.9 .5 .4 .5-1.7 .5 .8 .5-.8 .5 1.3 .5-.7 .5 1.4 .5-.8 .5 1.2 .5-1.5 .5-.1 .5-1.2 .5 .9 .5-.2 .5 1.1 .5-.1 .5 .6 .5-1.3 .5 .6 .5-1 .5 .8 .5-.8 .5 1.3 .5-.2 .5 .6 .5-.6 .5 .2 .5-1.3 .5 .9 .5-.9 .5 1.3 .5-.5 .5 .8 .5-1 .5 .5 .5-1 .5 .6 .5-.4 .5 .9 .5-.4 .5 .5 .5-.8 .5 .9 .5-1.3 .5 .8 .5-.8 .5 1.2 .5-.6 .5 1 .5-.6 .5 .4 .5-1.4 .5 .5 .5-.9 .5 1.4 .5-.6 .5 1.3 .5-.6 .5 .3 .5-1 .5 .6 .5-.9 .5 .7 .5-.4 .5 1.1 .5-.7 .5 .6 .5-1 .5 .1 .5-.7 .5 1.2 .5-.3 .5 .8 .5-1.1 .5 .5 .5-1.1 .5 .6 .5-.4 .5 1.2 .5-.9 .5 .9 .5-.4 .5 .7 .5-.7 .5 .6 .5-1 .5 .5 .5-.7 .5 .5 .5-.6 .5 .8 .5-.6 .5 1.2 .5-.6 .5 .5 .5-1 .5 .1 .5-.5 .5 1 .5-.5 .5 1.8 .5-.5 .5 .1 .5-2.4 .5 .1 .5-.4 .5 1.3 .5 0 .5 1.4 .5-.1 .5 .4 .5-1.8 .5-.1 .5-1.1 .5 1.4 .5 .1 .5 2.1 .5-.3 .5-.4 .5-2.5 .5-.2 .5-1 .5 1.5 .5 0 .5 1.9 .5-.6 .5 .7 .5-.8 .5 .1 .5-1.9 .5 0 .5 0 .5 2.1 .5-.2 .5 .6 .5-1.2 .5 .5 .5-1 .5 .7 .5-.3 .5 1 .5-.3 .5 .3 .5-1.5 .5 .3 .5-.7 .5 .9 .5-.2 .5 .9 .5-.5 .5 .8 .5-1 .5 .8 .5-1.2 .5 1 .5-1.1 .5 .9 .5-.6 .5 .8 .5-.7 .5 1 .5-.5 .5 .7 .5-1.4 .5 .9 .5-1.1 .5 .5 .5-.4 .5 1.4 .5-.3 .5 .6 .5-1.6 .5 .8 .5-1.3 .5 1.1 .5 0 .5 1 .5-.6 .5 .1 .5-1.3 .5 .5 .5-.6 .5 1 .5-.6 .5 1.3 .5-.8 .5 .3 .5-1 .5 .4 .5-.7 .5 1.3 .5-.5 .5 1.1 .5-.8 .5 .2 .5-.9 .5 .5 .5-.9 .5 1.4 .5-.8 .5 .8 .5-.4 .5 .6 .5-1 .5 0 .5-1 .5 1 .5-.3 .5 1 .5-.3 .5 .5 .5-.8 .5 .5 .5-1 .5 .3 .5-.2 .5 .8 .5-.5 .5 1 .5-.6 .5 .5 .5-1 .5 .5 .5-.8 .5 .7 .5-.3 .5 .9 .5-.4 .5 .6 .5-1.3 .5 .5 .5-1.2 .5 1 .5 0 .5 1.5 .5-.7 .5 .9 .5-1.6 .5 .1 .5-1 .5 1.1 .5-.6 .5 .6 .5-.2 .5 1.3 .5-.9 .5 .5 .5-1.7 .5 .7 .5-.9 .5 1.5 .5-.5 .5 1 .5-1.1 .5 .7 .5-1.5 .5 1.2 .5-.6 .5 1 .5-.8 .5 1.4 .5-1.1 .5 .5 .5-1.1 .5 0 .5-.6 .5 .6 .5-.3 .5 1.4 .5-1 .5 .9 .5-.5 .5 .7 .5-1.1 .5 .5 .5-.8 .5 .8 .5-.5 .5 1.1 .5-.8 .5 .5 .5-.8 .5 .3 .5-1 .5 1.4 .5-.2 .5 1 .5-.9 .5 .3 .5-1.5 .5 .5 .5-.3 .5 1.1 .5-.6 .5 1.1 .5-.8 .5 .2 .5-.6 .5 .3 .5-1 .5 1.1 .5-.5 .5 1 .5-.5 .5 .9 .5-1.1 .5 .9 .5-1.3 .5 .6 .5-1.4 .5 1 .5-.4 .5 1 .5-.5 .5 .8 .5-.5 .5 .5 .5-.9 .5 .5 .5-.8 .5 .8 .5-.7 .5 1.1 .5-.7 .5 .9 .5-1 .5 .4 .5-1 .5 1.2 .5-.3 .5 .9 .5-1.4 .5 .1 .5-.7 .5 1.1 .5-.3 .5 1.3 .5-.6 .5 .2 .5-1.1 .5 .5 .5-.8 .5 .6 .5-.7 .5 1.4 .5-.5 .5 .5 .5-.8 .5 .9 .5-1 .5 .3 .5-.8 .5 .8 .5-.5 .5 1.2 .5-.8 .5 1.3 .5-.8 .5 .2 .5-1.1 .5 .9 .5-1 .5 1.2 .5-.1 .5 .9 .5-1.5 .5-.1 .5-1.2 .5 1.1 .5 .1 .5 1.5 .5-.8 .5 .6 .5-1.4 .5 .5 .5-.9 .5 .9 .5-.4 .5 1 .5-.6 .5 .5 .5-.7 .5 .7 .5-1.2 .5 .7 .5-1 .5 .7 .5-.5 .5 1.5 .5-.3 .5 .8 .5-.9 .5 .1 .5-1.4 .5 .8 .5-.7 .5 1.3 .5-.5 .5 .5 .5-.7 .5 .8 .5-1.4 .5 .8 .5-.4 .5 .9 .5-.9 .5 1.4 .5-.9 .5 .8 .5-1.4 .5 .5 .5-1 .5 .9 .5-.4 .5 1.1 .5-.7 .5 .6 .5-1 .5 .5 .5-1.1 .5 1.1 .5-.4 .5 .8 .5-.7 .5 .8 .5-.8 .5 .4 .5-.8 .5 .7 .5-.9 .5 1.2 .5-.8 .5 1.3 .5-.8 .5 .7 .5-1.1 .5 .4 .5-.6 .5 1 .5-.6 .5 1 .5-.9 .5 .6 .5-1.4 .5 .7 .5-.5 .5 1.5 .5-1 .5 1 .5-1.2 .5 .7 .5-.8 .5 .6 .5-.6 .5 1 .5-.6 .5 .7 .5-.8 .5 .9 .5-.9 .5 .4 .5-.9 .5 .8 .5-.8 .5 .7 .5-.4 .5 1 .5-.8 .5 .8 .5-1.1 .5 .9 .5-1.2 .5 1 .5-.6 .5 1.1 .5-.3 .5 .5 .5-.9 .5 0 .5-1.5 .5 1.2 .5-.5 .5 1.7 .5-.6 .5 .3 .5-.9 .5 .6 .5-.9 .5 .8 .5-.6 .5 .9 .5-.7 .5 .7 .5-.9 .5 .8 .5-.8 .5 .3 .5-.6 .5 .8 .5-.5 .5 1.2 .5-1.1 .5 .8 .5-.8 .5 .5 .5-.9 .5 .9 .5-.6 .5 .8 .5-.4 .5 .6 .5-1.1 .5 .6 .5-1.1 .5 1.5 .5-.8 .5 1 .5-.7 .5 .3 .5-.7 .5 .5 .5-.5 .5 1 .5-.6 .5 .8 .5-1.2 .5 .9 .5-1.3 .5 .9 .5-.6 .5 1.1 .5-.4 .5 .6 .5-.9 .5 .6 .5-.9 .5 .6 .5-1 .5 1.1 .5-.6 .5 .7 .5-.7 .5 1 .5-.8 .5 .7 .5-1 .5 .7 .5-.9 .5 .9 .5-.4 .5 .9 .5-.8 .5 .5 .5-1 .5 .4 .5-.9 .5 1 .5-.2 .5 .6 .5-.4 .5 .5 .5-.8 .5 .6 .5-.7 .5 .9 .5-.8 .5 .7 .5-.6 .5 .7 .5-1.2 .5 .8 .5-.9 .5 1.1 .5-.6 .5 .8 .5-.9 .5 1.2 .5-1 .5 .7 .5-1.2 .5 1 .5-.9 .5 .6 .5-.8 .5 1.3 .5-.3 .5 .8 .5-.8 .5 0 .5-1.2 .5 1.1 .5-.4 .5 1.1 .5-.8 .5 .6 .5-1.1 .5 .7 .5-1.1 .5 .9 .5-.5 .5 1.1 .5-.7 .5 1 .5-1 .5 .5 .5-1 .5 .6 .5-.9 .5 .9 .5 0 .5 .9 .5-.6 .5 .2 .5-1.2 .5 .6 .5-.5 .5 .9 .5-.4 .5 .6 .5-.6 .5 .7 .5-1 .5 .7 .5-1 .5 .8 .5-.6 .5 1 .5-.6 .5 .8 .5-1.3 .5 .6 .5-.9 .5 1.1 .5-.5 .5 .6 .5-.6 .5 1 .5-.8 .5 .5 .5-1.2 .5 .9 .5-.5 .5 1 .5-.8 .5 .8 .5-.7 .5 .3 .5-1 .5 .6 .5-.3 .5 .9 .5-.5 .5 1.1 .5-1.2 .5 .7 .5-1.1 .5 .8 .5-1.1 .5 .8 .5-.2 .5 .6 .5-.5 .5 1.1 .5-.8 .5 .5 .5-1.5 .5 .7 .5-.4 .5 1.1 .5-.8 .5 .6 .5-.8 .5 .7 .5-.9 .5 1 .5-.5 .5 1.2 .5-.9 .5 .3 .5-1.1 .5 .8 .5-.7 .5 .8 .5-.8 .5 1.3 .5-.6 .5 .7 .5-.9 .5 .5 .5-1.2 .5 .9 .5-.9 .5 .7 .5-.5 .5 1 .5-.3 .5 .7 .5-1.2 .5 .6 .5-1.1 .5 .6 .5-.3 .5 1.1 .5-.6 .5 1.1 .5-.8 .5 .5 .5-1.2 .5 .7 .5-1.1 .5 1.2 .5-.5 .5 .7 .5-.7 .5 .7 .5-.6 .5 .6 .5-1 .5 .8 .5-.6 .5 .9 .5-.7 .5 .8 .5-.8 .5 .2 .5-.6 .5 .8 .5-.5 .5 .7 .5-.7 .5 .7 .5-.9 .5 .7 .5-1 .5 1.2 .5-.8 .5 .9 .5-.6 .5 .4 .5-.9 .5 .9 .5-1.1 .5 1.1 .5-.7 .5 .7 .5-.6 .5 .7 .5-.7 .5 1 .5-1 .5 .5 .5-.9 .5 .7 .5-.4 .5 .8 .5-.6 .5 1 .5-.7 .5 .4 .5-1.4 .5 .5 .5-.5 .5 1.2 .5-.8 .5 1 .5-.8 .5 .8 .5-1.2"/>
<path class="t k" d="M138 450.9l1 .9 1-1.2 1 .9 1-.7 1 .8 1-.7 1 .8 1-.7 1 .5 1-.7 1 1 1-1.1 1 1.3 1-1.3 1 1 1-1.2 1 1.7 1-1.4 1 1 1-1 1 .9 1-1.1 1 1.1 1-.9 1 .9 1-1.2 1 1.4 1-1.2 1 1.1 1-.9 1 .8 1-.7 1 .7 1-1 1 1.1 1-1 1 .9 1-.8 1 .8 1-.9 1 1.1 1-1.4 1 1.8 1-1.4 1 .7 1-.7 1 .8 1-1 1 1.1 1-.8 1 .7 1-.8 1 .7 1-.7 1 .6 1-.6 1 .9 1-1.1 1 1.2 1-1.3 1 1.1 1-.9 1 .8 1-.7 1 1 1-1.1 1 .8 1-1 1 1.3 1-1.2 1 1 1-1.1 1 1 1-.9 1 1 1-.8 1 .9 1-1.2 1 1.1 1-.8 1 .7 1-.8 1 1.3 1-1.6 1 1.3 1-.9 1 .8 1-.8 1 .7 1-.7 1 .8 1-.9 1 .8 1-.9 1 1.1 1-.9 1 1 1-1 1 1.7 1-2.6 1 1.6 1-.9 1 1.3 1-1.1 1 .8 1-.9 1 1.2 1-1.9 1 1.9 1-1.7 1 1.8 1-1.4 1 .9 1-1 1 1.1 1-1.1 1 1.3 1-.9 1 .6 1-.6 1 .6 1-.7 1 .8 1-1 1 .9 1-.6 1 .8 1-1.2 1 1.7 1-1.8 1 1.2 1-.8 1 .8 1-.9 1 .8 1-1 1 1.2 1-.9 1 .8 1-.9 1 1 1-.9 1 .8 1-.8 1 .7 1-.8 1 .9 1-.8 1 .9 1-1.1 1 1.1 1-1.1 1 .9 1-.9 1 1 1-1.2 1 1.1 1-1 1 1.1 1-.9 1 .8 1-.9 1 1.1 1-1.1 1 .9 1-.6 1 .6 1-.8 1 .9 1-.9 1 .8 1-.7 1 .6 1-.7 1 1 1-1 1 1 1-1.1 1 1 1-.9 1 .7 1-.8 1 1.1 1-1.1 1 1.4 1-1.5 1 1.1 1-1 1 .9 1-.8 1 .8 1-.9 1 1.1 1-1 1 .8 1-.9 1 1.2 1-1.3 1 1.4 1-1.4 1 1.1 1-1.1 1 1.3 1-1.3 1 1 1-.8 1 .9 1-1 1 1 1-.9 1 .8 1-.8 1 .9 1-.9 1 1 1-1.2 1 1.7 1-1.8 1 1.1 1-1.1 1 1.2 1-.8 1 .7 1-.7 1 .7 1-.8 1 1 1-1.1 1 1 1-1 1 1 1-1 1 1 1-.9 1 .8 1-.7 1 .7 1-1 1 1.1 1-1 1 .9 1-.9 1 .9 1-.7 1 .6 1-.6 1 .9 1-.9 1 .6 1-.7 1 .9 1-1 1 .9 1-.7 1 .9 1-1.2 1 1.1 1-1 1 1 1-.8 1 .9 1-.9 1 .9 1-.9 1 .9 1-1 1 .9 1-1.1 1 1.2 1-1.2 1 1.3 1-1 1 .8 1-.8 1 .7 1-.8 1 .9 1-1 1 .9 1-.7 1 .7 1-1 1 1 1-.7 1 .9 1-.9 1 .8 1-1.1 1 1.2 1-.9 1 .7 1-.9 1 .9 1-.9 1 .9 1-.6 1 .8 1-1 1 .9 1-.9 1 .9 1-1 1 1.1 1-1.3 1 1.1 1-.6 1 .6 1-.8 1 .9 1-.8 1 .8 1-.8 1 1 1-1.4 1 1.3 1-1 1 .8 1-.7 1 .7 1-.9 1 .9 1-.7 1 .9 1-1 1 .9 1-.8 1 .7 1-.7 1 .9 1-.9 1 .8 1-.9 1 1.1 1-1.3 1 1.1 1-.8 1 .7 1-.7 1 .7 1-.8 1 .9 1-.9 1 .9 1-.9 1 .9 1-.8 1 .8 1-.9 1 .9 1-.9 1 .9 1-1 1 1.1 1-1.9 1 2.6 1-1.9 1 1.1 1-.9 1 .8 1-.6 1 .6 1-.8 1 1.1 1-1.4 1 1.6 1-1.7 1 1.2 1-1.2 1 2.5 1-2.6 1 1.6 1-1.3 1 1 1-.8 1 1 1-1.1 1 1 1-.8 1 .7 1-.7 1 .8 1-1.3 1 1.4 1-1 1 .8 1-.7 1 .8 1-1 1 1 1-.8 1 .8 1-1 1 .9 1-.7 1 .8 1-.9 1 1 1-1.1 1 .9 1-.7 1 .7 1-.7 1 .8 1-.9 1 .9 1-1 1 1.3 1-1.5 1 1.6 1-1.2 1 .8 1-1.1 1 1 1-.8 1 .8 1-.7 1 .9 1-.8 1 .5 1-.6 1 .8 1-1.2 1 1.2 1-.8 1 1 1-1.1 1 1.1 1-1.1 1 .8 1-.8 1 .8 1-.8 1 1 1-1 1 .9 1-1 1 1 1-.9 1 1 1-1.1 1 1 1-.8 1 .7 1-.9 1 1 1-.8 1 1.5 1-2.2 1 1.6 1-1 1 .9 1-.8 1 .7 1-.7 1 .9 1-.9 1 .7 1-.9 1 1.1 1-1.1 1 1 1-.9 1 .8 1-.9 1 1.1 1-1 1 .9 1-.9 1 1 1-1 1 1 1-1 1 1 .5-1 .5 1.1 .5-1.1 .5 .8 .5-.8 .5 1.8 .5-4.9 .5 7.2 .5-7.6 .5 6.8 .5-5.5 .5 4.9 .5-4.2 .5 3.6 .5-3 .5 2.3 .5-1.8 .5 2 .5-2.6 .5 3 .5-3.3 .5 3.7 .5-3.8 .5 3.8 .5-4.2 .5 4.5 .5-4.3 .5 4.3 .5-4.1 .5 4.1 .5-4.5 .5 4.4 .5-3.8 .5 3.3 .5-3.2 .5 3 .5-2.7 .5 2.3 .5-2.1 .5 1.9 .5-1.6 .5 1.5 .5-1.5 .5 1.4 .5-1.2 .5 1.1 1-1 1 1.2 1-1.5 1 1.6 1-1.8 1 1.7 1-1.4 1 1.1 1-.9 1 .7 1-.6 1 .6 1-.6 1 .9 1-1 1 .8 1-.8 1 .9 1-1.2 1 1.3 1-.9 1 .9 1-1.2 1 1.8 1-1.8 1 1 1-.8 1 .9 1-.9 1 .9 1-.7 1 .6 1-.6 1 .6 1-.8 1 1 1-.9 1 .7 1-.7 1 .7 1-1.1 1 1.5 1-1.7 1 1.7 1-1.2 1 .9 1-.8 1 .7 1-.9 1 1.4 1-1.2 1 .9 1-.9 1 .7 1-.7 1 .8 1-.8 1 .7 1-1.3 1 2.1 1-1.8 1 .9 1-.8 1 1.4 1-1.5 1 1.1 1-.8 1 .7 1-.8 1 .8 1-.8 1 .9 1-1.1 1 1.4 1-1.2 1 1 1-1 1 .8 1-.8 1 .8 1-.9 1 .9 1-.8 1 .8 1-.9 1 .9 1-.8 1 .8 1-.9 1 .9 1-.8 1 .9 1-.8 1 .7 1-.8 1 .8 1-1.2 1 1.8 1-1.6 1 1.2 1-.9 1 .9 1-1.1 1 1.1 1-1.2 1 1.3 1-1.3 1 1.3 1-1.2 1 1.2 1-1.8 1 2 1-1.3 1 1.7 1-2.3 1 1.8 1-1.1 1 .6 1-.6 1 .9 1-1.2 1 1 1-.7 1 .6 1-.6 1 .6 1-.7 1 .9 1-1 1 1 1-1 1 1 1-.8 1 .9 1-1 1 .9 1-1 1 .9 1-1 1 1.2 1-.9 1 .9 1-.9 1 1 1-1 1 .7 1-.8 1 1.2 1-1.2 1 .9 1-.9 1 .9 1-.9 1 .8 1-.9 1 1 1-.8 1 .8 1-1 1 1 1-.8 1 .9 1-.9 1 .8 1-1.1 1 1.3 1-1.1 1 .8 1-.8 1 .9 1-1.1 1 1.2 1-1.2 1 1.1 1-.9 1 .8 1-.8 1 1.1 1-1 1 .6 1-.7 1 1.1 1-1.3 1 1 1-.7 1 .7 1-.8 1 1.5 1-1.5 1 1 1-.9 1 .7 1-1 1 1.2 1-.9 1 .9 1-.8 1 .6 1-.9 1 1 1-1.2 1 1.3 1-1.1 1 1.1 1-1.1 1 1 1-.9 1 1.3 1-1.3 1 .9 1-1.5 1 1.8 1-1.3 1 1.1 1-.9 1 .6 1-.7 1 .9 1-.8 1 1.3 1-1.6 1 1.4 1-1.2 1 .8 1-.7 1 .9 1-1 1 1.1 1-1.2 1 1 1-.9 1 .7 1-.7 1 .9 1-1.1 1 1.1 1-.8 1 1 1-1.3 1 1.2 1-1.4 1 1.4 1-1.1 1 1.4 1-1.2 1 .8 1-.8 1 .7 1-.7 1 .9 1-1.2 1 1.3 1-1.1 1 1.1 1-1.2 1 1.1 1-1.1 1 1 1-.9 1 1.3 1-1.7 1 1.6 1-1.3 1 1 1-1 1 1 1-.9 1 .9 1-.8 1 1 1-1 1 .7 1-.8 1 1.1 1-1.2 1 1.1 1-1.1 1 .8 1-.6 1 .8 1-.8 1 .9 1-1 1 .7 1-.8 1 .9 1-.8 1 .7 1-.6 1 .8 1-.8 1 .8 1-.8 1 .7 1-1.3 1 2.8 1-3.7 1 3.2 1-2 1 1 1-.7 1 .6 1-.6 1 .9 1-1.7 1 2.1 1-1.4 1 .9 1-.9 1 .8 1-.8 1 .8 1-.9 1 1.1 1-.9 1 .9 1-1.1 1 1 1-.9 1 .8 1-.8 1 .8 1-.7 1 .8 1-.9 1 .8 1-.8 1 .9 1-.9 1 1 1-1.3 1 1.5 1-1.1 1 .7 1-.7 1 .8 1-1.3 1 1.8 1-3.2 1 4.5 1-3.8 1 2.5 1-1.4 1 .8 1-1 1 1.1 1-.9 1 1 1-.9 1 .7 1-.8 1 .8 1-.8 1 1 1-1.9 1 2.7 1-2.2 1 1.2 1-.7 1 .8 1-.9 1 .8 1-.8 1 .8 1-.7 1 .9 1-.9 1 .9 1-1 1 1.2 1-1.6 1 1.9 1-1.9 1 1.7 1-1.2 1 .8 1-.7 1 .5"/>
<path class="t r" d="M138 482.3l1 .9 1-.8 1 1.2 1-1.3 1 .9 1-1 1 1.5 1-1.6 1 1.3 1-1.2 1 1.1 1-.9 1 .9 1-1.3 1 1.6 1-1.3 1 1.2 1-1.3 1 1.3 1-1.4 1 1.6 1-1.8 1 1.6 1-1.5 1 1.5 1-1.2 1 1.1 1-1.1 1 1 1-1 1 1.1 1-1.1 1 .9 1-1.1 1 1.3 1-1.4 1 1.6 1-1.5 1 1.4 1-1.1 1 1.1 1-1.3 1 1.3 1-1.5 1 1.6 1-1.3 1 1.2 1-1.2 1 1.1 1-1 1 .8 1-.9 1 1.1 1-1 1 .8 1-1 1 1 1-1 1 1.4 1-1.3 1 1.3 1-1.5 1 2 1-2.4 1 1.8 1-1.2 1 1.3 1-1.5 1 1.3 1-1.3 1 1.6 1-1.7 1 1.5 1-1.3 1 1.3 1-1.2 1 1 1-1.2 1 1.4 1-1.6 1 1.5 1-1.2 1 1.4 1-1.3 1 1 1-1.3 1 1.6 1-1.3 1 .9 1-.9 1 1.2 1-1.3 1 1.4 1-1.5 1 1.7 1-1.9 1 1.5 1-1.2 1 1.2 1-1.2 1 1.5 1-1.6 1 1.5 1-1.7 1 1.7 1-1.6 1 2.1 1-2.3 1 2.7 1-3 1 2.5 1-2.7 1 2.8 1-2.3 1 1.5 1-1.2 1 1.2 1-.9 1 1.2 1-1.5 1 1.5 1-1.4 1 1.3 1-1.4 1 1.1 1-1.1 1 1.3 1-1.3 1 1.3 1-1.3 1 1.1 1-1.1 1 1.1 1-1.3 1 1.6 1-1.5 1 1.4 1-1.3 1 1.5 1-1.3 1 1.2 1-1.6 1 1.5 1-1.3 1 1.2 1-1 1 1.1 1-1.3 1 1.4 1-1.2 1 1.2 1-1.2 1 .9 1-.9 1 1 1-1.3 1 1.3 1-1.1 1 1 1-1.2 1 1.5 1-1.3 1 1.4 1-1.4 1 1 1-.9 1 1 1-1.1 1 1.3 1-1.5 1 1.5 1-1.4 1 1.4 1-1.4 1 1.5 1-1.4 1 1.6 1-1.8 1 1.6 1-2.2 1 2.6 1-2.2 1 2.3 1-2.5 1 2.3 1-2.2 1 1.7 1-1.4 1 1.5 1-1.4 1 1.1 1-1.1 1 1.4 1-1.3 1 1.2 1-1.6 1 1.7 1-1.4 1 1.6 1-1.5 1 1.4 1-1.6 1 1.5 1-1.2 1 1.2 1-1.5 1 1.5 1-1.1 1 .9 1-.9 1 .9 1-1.1 1 1.1 1-.9 1 1.2 1-1.4 1 1.1 1-1 1 .9 1-1 1 1 1-1 1 1 1-1.2 1 1.4 1-1.1 1 1.2 1-1.1 1 .8 1-1.1 1 1.2 1-1.2 1 1.8 1-1.8 1 1.4 1-1.1 1 1.1 1-1.3 1 1 1-.9 1 1 1-1.1 1 1.2 1-1.2 1 1.2 1-1.2 1 1.3 1-1.3 1 1 1-1.5 1 2 1-1.7 1 2.1 1-2.7 1 2.2 1-1.7 1 1.9 1-1.9 1 2 1-1.7 1 1.7 1-1.6 1 1.3 1-1.3 1 1.8 1-2.6 1 2.1 1-1.5 1 1.6 1-1.4 1 1 1-1.1 1 1.1 1-1.2 1 1.4 1-1.3 1 1.3 1-1.2 1 1.1 1-1.2 1 1.2 1-1.1 1 1.2 1-1.3 1 1.2 1-1 1 1.1 1-1.4 1 1.4 1-1.3 1 1 1-1.1 1 1.3 1-1.2 1 1.1 1-1.1 1 1.2 1-1.4 1 1.3 1-1 1 1.1 1-1.3 1 1.2 1-1.2 1 1.4 1-1.3 1 1.8 1-2.6 1 2.1 1-1.5 1 1.3 1-1 1 1.4 1-1.7 1 1.6 1-1.8 1 1.7 1-1.7 1 2 1-1.7 1 1.9 1-2.1 1 1.5 1-1.5 1 1.6 1-1.7 1 1.7 1-1.2 1 1.2 1-1.4 1 1.8 1-2.3 1 2.3 1-1.6 1 1 1-1.3 1 1.4 1-1.5 1 1.7 1-1.6 1 1.6 1-1.3 1 1.3 1-1.7 1 1.5 1-1.3 1 1.2 1-1.1 1 1 1-1 1 1.3 1-1.6 1 1.5 1-1.3 1 1.1 1-.8 1 .7 1-.9 1 1.2 1-1.1 1 1 1-1.3 1 1.5 1-1.9 1 2.1 1-1.6 1 1.5 1-1.7 1 1.6 1-1.3 1 1.3 1-1.2 1 1.2 1-1.1 1 1 1-1.3 1 1.6 1-1.5 1 1.2 1-1.4 1 1.5 1-1.5 1 1.7 1-1.6 1 1.8 1-1.6 1 1 1-1.2 1 1.2 1-1 1 1.2 1-1.5 1 1.2 1-.8 1 .9 1-1.2 1 1.6 1-1.4 1 1.1 1-1.3 1 1.4 1-1.2 1 1.1 1-1.4 1 1.3 1-1 1 1.2 1-1.3 1 1.5 1-1.4 1 1 1-1.4 1 1.3 1-1 1 1 1-.8 1 .9 1-1 1 1.1 1-1.4 1 1.2 1-1 1 1.5 1-2.4 1 2.8 1-2.4 1 2.1 1-1.9 1 1.4 1-1.2 1 1.3 1-1.2 1 1.1 1-1.3 1 1.8 1-2.1 1 2.2 1-1.8 1 1.9 1-2.5 1 2.2 1-1.9 1 1.7 1-1.7 1 1.6 1-1.1 1 1.2 1-1.4 1 1.6 1-2.2 1 1.8 1-1.2 1 1.5 1-1.3 1 1 1-1.1 1 1.2 1-1.3 1 1.4 1-1.3 1 1.2 1-1.3 1 1.1 1-.8 1 .8 1-1.1 1 1.4 1-1.4 1 1.2 1-1.3 1 1.5 1-1.6 1 1.4 1-1.3 1 1.6 1-1.5 1 1.5 1-1.5 1 1.3 1-1.4 1 1.3 1-1.2 1 1.3 1-1.2 1 1.4 1-1.5 1 1.2 1-1.3 1 1.5 1-1.4 1 1.5 1-1.4 1 1.1 1-1.2 1 1.1 1-1 1 1.4 1-1.6 1 1.6 1-1.3 1 1.1 1-1.3 1 1.5 1-2.2 1 3.1 1-2.8 1 2.2 1-2 1 1.8 1-1.6 1 1.7 1-2.1 1 1.6 1-1.2 1 1.2 1-1.2 1 1.4 1-1.1 1 .9 1-1.1 1 1.3 1-1.1 1 .9 1-.9 1 1 1-1.2 1 1 1-.9 1 1.1 1-1.2 1 1.2 1-1 1 1.1 1-1.1 1 1.1 1-1.2 1 1 1-1.1 1 1.1 1-1 1 1.1 1-1.3 1 1.3 1-1.3 1 1.2 1-1.2 1 1.2 1-1.1 1 1.3 1-1.5 1 1.3 1-1.3 1 1.4 1-1.2 1 1.2 1-1.3 1 1.7 1-1.5 1 1.3 1-1.2 1 .9 1-1.2 1 1.1 1-1 1 1 1-1 1 1 1-1.3 1 1.6 1-1.2 1 .9 1-.9 1 1.2 1-1.5 1 1.3 1-1.3 1 1.4 1-1.1 1 1.2 1-1.2 1 1.2 1-1.3 1 1.6 1-2.4 1 2.6 1-2.7 1 3.6 1-3.3 1 2.8 1-2.9 1 2.8 1-2.2 1 1.6 1-1.5 1 1.2 1-1 1 .9 1-1.1 1 1.5 1-1.4 1 1.1 1-1.2 1 1.2 1-1.4 1 1.7 1-2.2 1 2.6 1-2.1 1 1.5 1-1.4 1 1.4 1-1.4 1 1.2 1-1.2 1 1.5 1-1.5 1 1.4 1-1.5 1 1.2 1-.9 1 1.1 1-1.1 1 1 1-1.3 1 1.4 1-1 1 .8 1-1 1 1.4 1-1.2 1 .8 1-.8 1 1 1-1.2 1 1.1 1-1 1 1.2 1-1.3 1 1.3 1-1.5 1 1.4 1-1.1 1 1.2 1-1.2 1 1.1 1-1.1 1 .9 1-1 1 1.1 1-1.1 1 1.3 1-1.5 1 1.3 1-1.4 1 1.8 1-1.7 1 1.4 1-1.6 1 1.6 1-1.2 1 1.3 1-1.3 1 1.4 1-1.7 1 1.5 1-1.2 1 1.3 1-1.5 1 1.5 1-1.2 1 1.1 1-1.3 1 1.2 1-1.2 1 1.6 1-1.9 1 2 1-2.1 1 2.2 1-2.6 1 2.5 1-2 1 2.3 1-2.3 1 2.1 1-1.6 1 .9 1-1.1 1 1.4 1-1.4 1 1.2 1-1.3 1 1.7 1-1.5 1 1.2 1-1.2 1 1.5 1-1.5 1 1.2 1-1.4 1 1.3 1-1.2 1 1.5 1-1.8 1 1.4 1-.9 1 1.1 1-1.1 1 1.3 1-1.3 1 1 1-1.2 1 1.9 1-2 1 1.6 1-1.7 1 1.6 1-1.6 1 1.8 1-1.5 1 1.3 1-1.6 1 1.5 1-1.1 1 1.2 1-1.5 1 1.7 1-1.8 1 1.5 1-1.5 1 1.7 1-1.9 1 1.9 1-1.4 1 1.1 1-1 1 1.2 1-1.5 1 1.4 1-1.3 1 1.2 1-1.2 1 1.3 1-1.2 1 1.3 1-1.3 1 1.3 1-1.6 1 1.6 1-1.4 1 1.6 1-2.1 1 1.7 1-1.2 1 1.5 1-1.7 1 1.6 1-1.3 1 1.2 1-1.5 1 1.7 1-1.6 1 1.8 1-1.8 1 1.3 1-1.2 1 1.3 1-1.2 1 1.2 1-1.5 1 1.6 1-1.4 1 1.1 1-1.2 1 1.4 1-1.3 1 1.6 1-1.4 1 1.1 1-1.2 1 1.1 1-1.3 1 1.9 1-1.6 1 1 1-1.1 1 1.4 1-1.5 1 1.7 1-1.8 1 1.7 1-1.5 1 1.1 1-1.3 1 1.5 1-1.5 1 1.6 1-1.4 1 1 1-1.2 1 1.2 1-1.1 1 1.4 1-1.2 1 1.2 1-1.6 1 1.6 1-1.5 1 1.4 1-1 1 .9 1-.9 1 .8 1-1.4 1 1.8 1-1.4 1 1.2 1-1.3 1 1.2 1-1.1 1 1.1 1-1 1 1 1-1 1 1 1-1 1 .9 1-1.1 1 1.3 1-1.4 1 1.3 1-1 1 1.5 1-2.1 1 2.3 1-1.9 1 1.7 1-1.9 1 2.2 1-2.6 1 3.8 1-5.1 1 4.4 1-2.9 1 2.3 1-2.6 1 2.3 1-1.7 1 1.3 1-1 1 .9 1-1 1 1 1-1 1 1.2 1-1.4 1 1.5 1-1.2 1 .9 1-1.2 1 1.5 1-1.2 1 1.3 1-1.7 1 1.6 1-1.3 1 1.2 1-1 1 .9 1-1.1 1 1.2 1-1.3 1 1.3 1-1.3"/>
<path class="t b" d="M138 513.7l1 1.3 1-1.3 1 1.3 1-1.3 1 1.1 1-1.1 1 1.2 1-1 1 1.4 1-1.6 1 1.4 1-1.2 1 1.3 1-1.7 1 1.7 1-1.7 1 1.7 1-1.6 1 1.3 1-1.1 1 1.4 1-1.8 1 1.7 1-1.4 1 1.5 1-1.5 1 1.3 1-1.2 1 1 1-.9 1 1.2 1-1.3 1 1 1-1 1 1.3 1-1.7 1 1.6 1-2 1 2.3 1-1.5 1 1.1 1-1 1 1.1 1-1.1 1 .9 1-1.2 1 1.3 1-1.3 1 1.2 1-1.1 1 1.3 1-1.2 1 1.4 1-1.7 1 1.3 1-1 1 1.3 1-1.2 1 1.3 1-1.4 1 1.1 1-1.1 1 1 1-1 1 1.1 1-1.3 1 1.4 1-1.2 1 1.3 1-1.3 1 1 1-1.4 1 1.7 1-1.3 1 1.3 1-1.4 1 1.1 1-1.3 1 1.7 1-1.6 1 1.3 1-1.4 1 1.8 1-1.5 1 1.4 1-2 1 1.9 1-1.6 1 1.6 1-1.6 1 1.4 1-1.1 1 1.3 1-1.5 1 1.3 1-1.6 1 1.6 1-1.3 1 1.6 1-1.5 1 1.5 1-1.5 1 1.6 1-1.9 1 1.6 1-1.5 1 1.6 1-1.4 1 1.4 1-1.2 1 1.1 1-1.4 1 1.7 1-2 1 1.6 1-1.4 1 1.4 1-1 1 1 1-1.4 1 1.6 1-1.6 1 1.4 1-1.1 1 1.2 1-1.1 1 .9 1-1.2 1 1.3 1-1 1 .9 1-1.2 1 1.4 1-1.2 1 1.2 1-1.3 1 1.5 1-1.5 1 1.5 1-1.3 1 1.3 1-1.5 1 1.4 1-1.5 1 1.4 1-1.6 1 1.7 1-1.5 1 1.5 1-1.2 1 .9 1-.9 1 1 1-1.4 1 1.5 1-1.3 1 1.5 1-1.5 1 1.4 1-1.2 1 1.1 1-1.5 1 1.6 1-1.5 1 1.4 1-1.6 1 1.6 1-1.7 1 1.5 1-1.4 1 1.9 1-1.6 1 1.3 1-1.3 1 1.2 1-1 1 1 1-1 1 .9 1-1.1 1 1.1 1-.8 1 .9 1-1 1 .8 1-1 1 1.5 1-1.5 1 1.4 1-1.2 1 1.2 1-1.3 1 1.2 1-1.3 1 1.5 1-1.5 1 1.2 1-1.4 1 1.6 1-1.6 1 1.4 1-1.1 1 1.3 1-1.4 1 1.3 1-1.4 1 1.4 1-1.3 1 1.1 1-1.1 1 1.2 1-1 1 1.2 1-1.7 1 1.4 1-1 1 1.1 1-1.1 1 1.1 1-1.2 1 1.3 1-1.4 1 1.2 1-1 1 1.3 1-1.5 1 1.7 1-1.9 1 2 1-2.1 1 1.9 1-1.5 1 1.5 1-1.4 1 1.1 1-1.3 1 1.6 1-1.4 1 1.5 1-1.7 1 1.4 1-1.5 1 1.7 1-1.8 1 1.9 1-1.7 1 1.5 1-1.4 1 1.4 1-1.7 1 2 1-2 1 1.8 1-1.9 1 2.1 1-1.7 1 1.4 1-1.3 1 1.1 1-1.2 1 1.1 1-.9 1 1 1-1 1 .9 1-1 1 1.6 1-1.9 1 1.8 1-1.7 1 1.4 1-1.2 1 1.2 1-1.2 1 1.2 1-1.1 1 1.4 1-1.7 1 1.6 1-1.6 1 1.4 1-1.3 1 1.3 1-1.4 1 1.3 1-1 1 1.1 1-1.4 1 1.4 1-1.4 1 1.5 1-1.4 1 1.2 1-1.1 1 1.1 1-1.4 1 1.6 1-1.6 1 1.9 1-2.3 1 2 1-1.2 1 .9 1-1 1 1.2 1-1.4 1 1.3 1-1.3 1 1.1 1-1 1 1.6 1-2.1 1 1.8 1-1.4 1 1.5 1-1.3 1 1 1-1.1 1 1 1-1.1 1 1.2 1-1.1 1 1.3 1-1.3 1 1.3 1-1.6 1 1.9 1-1.6 1 1.2 1-1.1 1 1.1 1-1.4 1 1.3 1-1.1 1 1.2 1-1.3 1 1.4 1-1.6 1 1.6 1-1.3 1 1.1 1-1.3 1 1.5 1-1.2 1 1 1-1.1 1 1.4 1-1.4 1 1.3 1-1.2 1 1.4 1-1.7 1 1.5 1-1.4 1 1.3 1-1.1 1 1.1 1-1.4 1 1.4 1-1.1 1 1.1 1-1.4 1 1.7 1-1.6 1 1.7 1-1.8 1 1.8 1-1.5 1 1.4 1-1.7 1 1.7 1-1.9 1 2.2 1-1.9 1 1.5 1-1.3 1 1.4 1-1.9 1 1.5 1-1.1 1 1.4 1-1.6 1 1.4 1-1.3 1 1.4 1-1.4 1 1.4 1-1.5 1 1.4 1-1.2 1 1.3 1-1.3 1 1.8 1-2.1 1 1.9 1-1.8 1 1.4 1-1.2 1 1.3 1-1.3 1 1.4 1-1.5 1 1.5 1-1.7 1 1.5 1-1 1 .9 1-1.3 1 1.3 1-1 1 1 1-1.5 1 1.6 1-1 1 .9 1-1.4 1 1.9 1-1.6 1 1.4 1-1.2 1 .9 1-1.3 1 1.5 1-1.3 1 1.3 1-1.4 1 1.2 1-1.1 1 1.3 1-1.2 1 1.2 1-1.2 1 1 1-.9 1 .9 1-.9 1 1 1-1.3 1 1.4 1-1.7 1 2 1-1.6 1 1.5 1-1.7 1 1.5 1-1.4 1 1.6 1-1.8 1 1.5 1-1.3 1 1.4 1-1.6 1 1.6 1-1.8 1 2.4 1-2.4 1 1.8 1-1.5 1 1.6 1-1.9 1 1.9 1-1.5 1 1.7 1-1.7 1 1.9 1-2.2 1 1.6 1-1.3 1 1.2 1-1.5 1 1.6 1-1.3 1 1.3 1-1.2 1 1.3 1-1.1 1 1.1 1-1.4 1 1.3 1-1 1 1 1-1.3 1 1.5 1-1.4 1 1.4 1-1.2 1 1.2 1-1.4 1 1.5 1-1.6 1 1.2 1-1 1 1.4 1-1.7 1 1.7 1-1.8 1 1.9 1-1.9 1 1.5 1-1.1 1 1.2 1-1.2 1 1.4 1-1.8 1 1.8 1-1.7 1 1.7 1-1.6 1 1.7 1-1.7 1 1.4 1-1.1 1 1.4 1-1.9 1 1.6 1-1.1 1 1.1 1-1.2 1 1.2 1-1.4 1 1.3 1-1.1 1 1.4 1-1.7 1 1.8 1-1.6 1 1.3 1-1.3 1 1.1 1-.9 1 1.4 1-1.9 1 1.6 1-1.4 1 1.3 1-1.5 1 1.7 1-1.4 1 1.5 1-1.7 1 1.7 1-1.6 1 1.5 1-1.2 1 1.1 1-1.2 1 1.5 1-1.7 1 1.4 1-1.3 1 1.2 1-1.1 1 1.1 1-1.2 1 1.3 1-1.5 1 1.4 1-1 1 1.2 1-1.6 1 1.4 1-1.2 1 1.1 1-1.1 1 1.1 1-.9 1 1.1 1-1.2 1 1.3 1-1.9 1 2.2 1-2.2 1 1.6 1-.9 1 .9 1-1.1 1 1.2 1-1.2 1 1.4 1-1.2 1 .9 1-1.3 1 1.5 1-1.6 1 1.8 1-1.8 1 1.5 1-1.3 1 1.5 1-1.3 1 1.1 1-1.1 1 1.2 1-1.3 1 1.2 1-1.4 1 1.7 1-1.5 1 1.3 1-1.5 1 1.8 1-2 1 1.6 1-1.4 1 1.5 1-1.3 1 1.4 1-1.6 1 1.6 1-1.4 1 1.4 1-1.6 1 1.5 1-1.4 1 1.1 1-.8 1 1.2 1-1.3 1 1.1 1-1.3 1 1.4 1-1.1 1 1 1-1 1 1.4 1-1.8 1 2.3 1-2.5 1 1.7 1-1.2 1 1.3 1-1.3 1 1 1-1.3 1 1.4 1-1.2 1 1.3 1-1.2 1 1.1 1-1.3 1 1.7 1-1.9 1 1.8 1-1.4 1 1.4 1-1.5 1 1.5 1-1.6 1 1.5 1-1.4 1 1.3 1-1.5 1 1.3 1-1.3 1 1.7 1-1.5 1 1.2 1-1.2 1 1.2 1-1.5 1 1.4 1-1 1 1.2 1-1.3 1 1.3 1-1.4 1 1.6 1-1.8 1 1.5 1-1 1 .9 1-1.1 1 1.5 1-1.5 1 1.2 1-1.1 1 1 1-1.1 1 1.5 1-1.5 1 1.3 1-1.4 1 1.4 1-1.2 1 1.4 1-1.8 1 1.6 1-1.2 1 1.4 1-1.6 1 1.3 1-1.3 1 1.5 1-1.5 1 1.5 1-1.5 1 1.2 1-1.1 1 1.1 1-1.1 1 1.3 1-1.3 1 1.5 1-1.4 1 1.2 1-1.4 1 1.2 1-.9 1 .9 1-1.4 1 2.3 1-2.8 1 2.8 1-2.5 1 1.9 1-1.5 1 1.4 1-1.4 1 1.3 1-1.1 1 1.1 1-1.4 1 1.6 1-1.4 1 1.4 1-1.3 1 1.1 1-1 1 1 1-1 1 1 1-1 1 .9 1-1.1 1 1.3 1-1.3 1 1.2 1-1.4 1 1.5 1-1.4 1 1.7 1-1.9 1 1.4 1-1.2 1 1.2 1-1.3 1 1.6 1-1.4 1 1.5 1-1.8 1 1.8 1-1.5 1 1.4 1-1.6 1 1.5 1-1.4 1 1.5 1-1.6 1 1.6 1-1.4 1 1.2 1-1.1 1 1.4 1-1.4 1 1 1-1.2 1 1.6 1-1.4 1 1.3 1-1.3 1 1.5 1-1.6 1 1.4 1-1.6 1 1.5 1-1.5 1 1.5 1-1.2 1 1 1-1 1 1.4 1-1.7 1 1.5 1-1.4 1 1.4 1-1.6 1 2.6 1-3 1 2.1 1-1.6 1 1.4 1-1.2 1 1.4 1-1.6 1 1.7 1-1.7 1 1.3 1-1.1 1 1.4 1-1.3 1 1.2 1-1.1 1 1 1-1.3 1 1.2 1-1.1 1 1.4 1-1.3 1 1.1 1-1.3 1 1.3 1-1.3 1 1.4 1-1.5 1 1.6 1-1.2 1 .9 1-1.1 1 1.1 1-1.3 1 2 1-2.2 1 2.3 1-1.8 1 .9 1-1 1 1 1-.9 1 1.1 1-1.2 1 1.4 1-1.5 1 1.6 1-1.7 1 1.4 1-1 1 .9 1-1 1 1 1-1.2 1 1.2 1-1 1 1.3 1-1.2 1 1.3 1-1.9 1 2 1-1.7 1 1.7 1-1.9 1 1.4 1-1.1 1 1.3 1-1.6 1 1.5 1-1.2 1 1.4 1-1.8 1 1.7 1-1.4 1 1.5 1-1.4 1 1.3 1-1.2 1 1.2 1-1.8 1 1.8 1-1.5 1 1.5 1-1.1 1 .8 1-1 1 1.4 1-1.6"/>
<path class="t g" d="M138 545.4l1 1.2 1-1.4 1 1.1 1-1.1 1 1.3 1-1.4 1 2.1 1-2.5 1 2.1 1-2.3 1 2.8 1-2 1 1.1 1-.9 1 .9 1-1.2 1 1.5 1-2.5 1 2.6 1-1.8 1 2.3 1-2.9 1 2.8 1-2.8 1 2.7 1-2.9 1 3.4 1-3.8 1 3.9 1-3.2 1 2.4 1-1.7 1 1.7 1-1.5 1 1.1 1-1.2 1 1.3 1-1.4 1 1.1 1-1.1 1 1.2 1-1.1 1 1 1-1 1 1.1 1-1 1 .9 1-.8 1 .9 1-1.1 1 1.2 1-1 1 1.3 1-1.7 1 1.1 1-.9 1 1 1-.8 1 1 1-1.2 1 1.1 1-1.2 1 1.5 1-1.3 1 1.1 1-1.1 1 .8 1-.9 1 1.4 1-1.3 1 .9 1-.9 1 .9 1-1 1 1.1 1-1.1 1 1.5 1-1.5 1 1.2 1-1 1 .9 1-1.1 1 1.1 1-1.1 1 1.1 1-1 1 .8 1-1 1 1 1-.9 1 1.3 1-1.4 1 1.1 1-.8 1 .8 1-1.1 1 1.3 1-1.2 1 1 1-.9 1 1 1-1 1 .9 1-.8 1 .8 1-.9 1 .9 1-.9 1 1.3 1-1.3 1 1.1 1-1 1 .9 1-1.3 1 1.4 1-1 1 .8 1-1.1 1 1.2 1-1.1 1 1.1 1-1.1 1 1.1 1-.9 1 1.2 1-1.3 1 1.5 1-1.9 1 1.5 1-1.2 1 1 1-1.3 1 1.6 1-1.3 1 .9 1-1 1 1.1 1-.9 1 1 1-1.2 1 1.3 1-1.3 1 1.3 1-1.1 1 1.1 1-1.2 1 1 1-1 1 1 1-.9 1 .9 1-.9 1 1 1-.9 1 1 1-1.3 1 1.3 1-1.3 1 1.1 1-.7 1 .6 1-.7 1 1 1-1.2 1 1.3 1-1.2 1 .8 1-.7 1 .9 1-.9 1 .8 1-1.2 1 1.2 1-1.2 1 1.5 1-2 1 2.2 1-2.2 1 2.4 1-1.9 1 1.7 1-2.2 1 2.1 1-1.6 1 1.6 1-1.3 1 .9 1-1.1 1 1.3 1-1.1 1 1.5 1-1.6 1 1.1 1-1.3 1 1.2 1-.8 1 1.2 1-1.5 1 1 1-.7 1 1 1-1.3 1 1.6 1-2.6 1 3.3 1-2.8 1 2.6 1-3 1 3 1-2.4 1 2.3 1-2.2 1 1.6 1-1.5 1 1.5 1-1.5 1 1.6 1-1.2 1 .9 1-1 1 .9 1-.8 1 .8 1-1 1 1.1 1-.9 1 .8 1-.9 1 1.1 1-1 1 .8 1-1 1 1.3 1-1.3 1 1.1 1-.9 1 1 1-1.3 1 1.5 1-1.8 1 1.7 1-1.3 1 1.4 1-1.8 1 2 1-1.8 1 1.8 1-1.8 1 1.2 1-.9 1 .9 1-1.1 1 1.4 1-1.3 1 .9 1-.8 1 1 1-1.1 1 .9 1-.7 1 1 1-1.2 1 1.1 1-1.1 1 1 1-.9 1 1.1 1-1.5 1 1.6 1-2.2 1 2.8 1-2.5 1 2.7 1-3.4 1 3.1 1-2.2 1 2 1-1.6 1 1.2 1-1 1 .9 1-1.2 1 1.2 1-1.2 1 1.2 1-1 1 1.4 1-1.4 1 1.1 1-1.2 1 1.1 1-1 1 1.3 1-1.5 1 1.1 1-1.4 1 2 1-2.5 1 3 1-2.5 1 1.4 1-1 1 1.1 1-1 1 1 1-1.6 1 2.2 1-2 1 1.3 1-.8 1 .8 1-1 1 1.7 1-2.5 1 2.2 1-1.4 1 1 1-1.1 1 1.6 1-1.4 1 1.1 1-1 1 .9 1-1.1 1 1.3 1-1.2 1 1 1-1.2 1 1.6 1-2 1 1.8 1-1.5 1 1.6 1-1.4 1 1.2 1-1.2 1 1 1-.8 1 1.1 1-1.2 1 .9 1-1.2 1 1.6 1-1.5 1 1.2 1-1.1 1 1.2 1-1.1 1 1 1-1 1 1 1-1 1 1.1 1-1.3 1 1 1-1 1 1.1 1-1.1 1 1.4 1-1.6 1 1.6 1-1.4 1 1.1 1-1 1 1.3 1-1.2 1 1 1-1 1 .9 1-1.1 1 1.1 1-.8 1 1.1 1-1.4 1 1.2 1-1.1 1 1.1 1-.9 1 1.2 1-1.7 1 1.4 1-1.1 1 1.2 1-1.5 1 1.6 1-1.1 1 .9 1-1.2 1 1.2 1-1.2 1 1.3 1-1.1 1 1.2 1-1.4 1 1 1-.8 1 1.1 1-1.4 1 1.9 1-2.2 1 2.4 1-2.2 1 1.6 1-1.2 1 .8 1-.8 1 1.1 1-1.4 1 1.4 1-1.5 1 1.6 1-2.1 1 2.6 1-2.1 1 1.8 1-1.6 1 1.8 1-2.3 1 2 1-1.3 1 .8 1-.8 1 1 1-1.1 1 .9 1-.7 1 .9 1-1 1 .9 1-1 1 1.3 1-1.3 1 1.3 1-1.4 1 1.4 1-1.6 1 1.4 1-1.3 1 1.5 1-1.1 1 .8 1-.9 1 .8 1-.9 1 1.3 1-2.1 1 2.2 1-1.3 1 1 1-1.2 1 1 1-.7 1 .8 1-.9 1 1 1-1.2 1 1.2 1-1.1 1 1.3 1-1.4 1 1.6 1-1.7 1 1.3 1-1.1 1 1.1 1-1.2 1 1.1 1-.8 1 .8 1-.9 1 1 1-1.1 1 1.1 1-1.2 1 1.4 1-1.2 1 1.2 1-1.4 1 1.1 1-1 1 1 1-1 1 1 1-1 1 1.1 1-1.1 1 1 1-1.1 1 1.1 1-1 1 1.1 1-1.2 1 1.2 1-1.1 1 1 1-.8 1 .9 1-.9 1 .9 1-1.1 1 1.4 1-1.4 1 1 1-.9 1 1 1-.9 1 .9 1-1 1 1 1-1 1 1 1-1.3 1 1.2 1-.9 1 1 1-1.1 1 1.1 1-.9 1 1 1-1.2 1 .9 1-.8 1 .9 1-.8 1 .9 1-1.1 1 1.1 1-1.2 1 1.1 1-1.1 1 1.2 1-.9 1 1 1-1 1 .9 1-1.1 1 1.3 1-1.4 1 1.3 1-1.1 1 .9 1-1.2 1 1.3 1-1.2 1 1 1-.8 1 1.2 1-1.4 1 1.4 1-1.4 1 1.3 1-1 1 1 1-1.6 1 2 1-2.6 1 2.5 1-1.4 1 1.1 1-1 1 .9 1-.8 1 .7 1-1.2 1 1.5 1-1.2 1 1.1 1-1.3 1 1 1-.9 1 .9 1-.9 1 1 1-.8 1 .9 1-1.3 1 1.3 1-.9 1 1 1-1.6 1 1.8 1-1.2 1 1 1-1 1 .9 1-1 1 1.3 1-1.8 1 1.8 1-2 1 2.5 1-2.9 1 2.8 1-3.1 1 3.3 1-2.7 1 2.1 1-2.1 1 2.3 1-1.5 1 1.1 1-1 1 .9 1-1.4 1 1.3 1-.8 1 1.3 1-1.6 1 1.1 1-.8 1 1.1 1-1.4 1 1.2 1-.9 1 .7 1-.8 1 .9 1-1.4 1 1.5 1-1.3 1 2.1 1-2.1 1 1.3 1-1 1 .8 1-.8 1 1.1 1-1 1 .7 1-1.1 1 1.6 1-2.1 1 2.6 1-2.2 1 1.7 1-1.7 1 1.6 1-1.1 1 .8 1-1 1 1.1 1-1 1 .9 1-1.2 1 1.8 1-2.2 1 2.3 1-2.5 1 2.4 1-2 1 1.9 1-2.2 1 2.5 1-1.9 1 1.3 1-1 1 .9 1-1.2 1 1.5 1-1.3 1 1.1 1-1 1 .7 1-.9 1 1.1 1-1.3 1 1.5 1-1.9 1 2.1 1-1.9 1 2.2 1-2.3 1 1.6 1-1.5 1 1.9 1-1.5 1 1.6 1-2.6 1 3 1-2.5 1 2 1-1.3 1 1 1-1.2 1 1.1 1-1.3 1 1.2 1-.9 1 .9 1-1 1 1.6 1-1.7 1 1.2 1-1 1 1 1-1.2 1 1.4 1-2 1 2.5 1-2.6 1 2.4 1-2.1 1 1.8 1-1.3 1 1 1-1 1 1.1 1-1.2 1 1 1-1.1 1 1.4 1-1.2 1 1.6 1-1.7 1 1.3 1-1.2 1 1.1 1-1 1 1.1 1-1.2 1 1.2 1-1.2 1 1.1 1-1 1 1.1 1-1 1 .9 1-1 1 .9 1-.9 1 .8 1-1 1 1.1 1-.9 1 .9 1-1.2 1 1.5 1-2.1 1 2.5 1-2.3 1 2.9 1-2.9 1 2.9 1-2.8 1 2.5 1-2.2 1 1.5 1-1.4 1 1.6 1-1.8 1 1.5 1-1.2 1 1.7 1-2.8 1 2.9 1-3 1 3.5 1-3.5 1 3.2 1-3 1 2.9 1-2.3 1 1.9 1-1.6 1 1.3 1-1.1 1 1 1-1 1 1.1 1-1.1 1 1 1-.9 1 .7 1-.9 1 1.1 1-1.1 1 1 1-.8 1 .7 1-.9 1 1 1-.8 1 .7 1-.8 1 1 1-1 1 .8 1-.7 1 .8 1-.9 1 1.6 1-1.9 1 1.3 1-.9 1 1 1-1 1 .9 1-1.3 1 1.6 1-1.5 1 1.8 1-2.3 1 2.2 1-1.7 1 1 1-.9 1 1.1 1-.9 1 .9 1-1.5 1 2.1 1-2.2 1 1.9 1-1.2 1 1.1 1-1.2 1 1.3 1-1.8 1 2 1-2.3 1 2 1-1.4 1 1.6 1-1.9 1 1.8 1-1.3 1 1 1-1.1 1 1.1 1-1.1 1 1.5 1-1.7 1 1.2 1-1 1 1.1 1-1 1 1 1-1.2 1 1.5 1-1.2 1 .8 1-1.3 1 1.8 1-2.1 1 2.1 1-1.9 1 2 1-2.2 1 2.8 1-2.5 1 1.5 1-1.2 1 1.5 1-1.4 1 .8 1-1 1 1.6 1-2 1 2 1-1.5 1 1.2 1-1.3 .5 1.5 .5-1.7 .5 1.7 .5-1.8 .5 2.1 .5-2.4 .5 2.7 .5-3 .5 3.2 .5-3.3 .5 3.7 .5-3.9 .5 3.8 .5-5.3 .5 8 .5-10.3 .5 11.8 .5-12.3 .5 11.3 .5-7.9 .5 6 .5-6.1 .5 6.1 .5-6.3"/>
<path class="t k" d="M138 574.7l.5 5.7 .5-6.2 .5 6 .5-4.6 .5 3.4 .5-3.1 .5 3.3 .5-3.5 .5 3.3 .5-3.1 .5 3 .5-2.9 .5 2.7 .5-2.4 .5 2.4 .5-2.5 .5 2.3 .5-2.1 .5 2.1 .5-2.1 .5 2.1 .5-2.2 .5 2.1 .5-2.1 .5 2.2 .5-2.2 .5 2.1 .5-1.9 .5 1.8 .5-1.7 .5 1.6 .5-1.5 1 1.6 1-1.5 1 1.3 1-1.3 1 1.1 1-.9 1 1 1-1.4 1 1.7 1-1.7 1 1.6 1-1.7 1 1.8 1-1.4 1 1 1-1.4 1 1.5 1-1.3 1 1.2 1-1.4 1 1.6 1-1.1 1 1 1-1.3 1 1.5 1-1.7 1 1.4 1-1.4 1 1.8 1-1.5 1 1.5 1-1.8 1 1.4 1-1.2 1 1.8 1-1.6 1 1.2 1-1.7 1 1.7 1-1.7 1 2.1 1-2.2 1 2.1 1-1.5 1 1.1 1-1.3 1 1.3 1-1.5 1 1.8 1-1.5 1 1.5 1-1.4 1 1.3 1-1.4 1 1.6 1-1.8 1 1.7 1-1.7 1 1.4 1-1.3 1 1.4 1-1.2 1 1.2 1-1.6 1 1.8 1-1.4 1 1.1 1-1.2 1 1.4 1-1.5 1 1.6 1-1.5 1 1.2 1-1.2 1 1.2 1-1.6 1 1.6 1-1.5 1 1.7 1-1.7 1 1.4 1-1.3 1 1.8 1-2 1 1.7 1-1.6 1 1.6 1-1.7 1 1.7 1-1.3 1 1.1 1-1.2 1 1.6 1-1.4 1 1.2 1-1.3 1 1.3 1-1.4 1 1.2 1-1.4 1 1.5 1-1.3 1 1.6 1-1.7 1 1.3 1-1.1 1 1.6 1-1.5 1 1.3 1-1.6 1 1.5 1-1.4 1 1.4 1-1.5 1 1.5 1-1.3 1 1.2 1-1.5 1 1.7 1-1.3 1 1.1 1-1.2 1 1.6 1-1.6 1 1.1 1-.9 1 1.1 1-1.1 1 1.1 1-1.2 1 1.3 1-1.5 1 1.4 1-1.3 1 1.8 1-2.2 1 2 1-1.8 1 1.5 1-1.5 1 1.5 1-1.1 1 1 1-1.3 1 1.2 1-1.1 1 1.2 1-1.1 1 1.2 1-1.2 1 1.2 1-1.4 1 1.4 1-1.2 1 1.3 1-1.6 1 1.7 1-1.8 1 1.9 1-1.7 1 1.5 1-1.6 1 1.8 1-1.7 1 1.7 1-1.9 1 1.6 1-1.3 1 1.2 1-1.4 1 1.7 1-1.4 1 1 1-1 1 1.2 1-1.2 1 1 1-1.1 1 1.2 1-1.1 1 1.4 1-1.5 1 1.4 1-1.3 1 1.4 1-1.5 1 1.2 1-1.2 1 1.4 1-1.6 1 1.4 1-1.3 1 1.3 1-1 1 1.1 1-1.4 1 1.3 1-1.4 1 1.4 1-1.4 1 1.5 1-1.4 1 1.4 1-1.3 1 1.6 1-1.5 1 1.2 1-1.5 1 1.4 1-1.4 1 1.4 1-1.2 1 1.4 1-1.7 1 1.5 1-1.2 1 1.4 1-1.5 1 1.4 1-1.2 1 1.2 1-1.4 1 1.6 1-1.7 1 1.6 1-1.4 1 1.3 1-1.4 1 1.4 1-1.2 1 1.4 1-1.9 1 1.6 1-1.3 1 1.7 1-2 1 1.6 1-1.1 1 1.3 1-1.2 1 1.3 1-1.4 1 1.4 1-1.7 1 1.7 1-1.8 1 1.5 1-1.2 1 1.6 1-1.8 1 1.8 1-1.7 1 1.7 1-2.2 1 2.8 1-3.2 1 2.6 1-1.8 1 1.6 1-1.4 1 1.4 1-1.4 1 1.3 1-1.4 1 1.7 1-1.7 1 1.3 1-1.4 1 1.9 1-2.1 1 1.8 1-1.4 1 1.5 1-1.4 1 1.2 1-1.3 1 1.5 1-1.4 1 1 1-1.3 1 1.7 1-1.7 1 1.3 1-1 1 1.3 1-1.5 1 1.5 1-1.6 1 1.3 1-1.2 1 1.6 1-1.5 1 1.4 1-1.8 1 1.8 1-1.3 1 1.1 1-1.2 1 1.2 1-1.3 1 1.2 1-1.1 1 1.3 1-1.4 1 1.4 1-1.2 1 1.1 1-1.5 1 1.8 1-1.8 1 1.9 1-1.8 1 1.3 1-1 1 1 1-1.3 1 1.7 1-1.5 1 1.3 1-1.4 1 1.3 1-1.2 1 1.3 1-1.3 1 1.5 1-1.4 1 1 1-1.1 1 1.3 1-1.6 1 1.5 1-1.1 1 1.1 1-1.3 1 1.4 1-1.4 1 1.3 1-1.2 1 1.3 1-1.5 1 1.3 1-1.1 1 1.5 1-1.6 1 1.4 1-1.4 1 1.5 1-1.6 1 1.4 1-1.2 1 1.6 1-1.8 1 1.4 1-1.4 1 1.4 1-1.3 1 1.4 1-1.4 1 1.2 1-1.3 1 1.5 1-1.3 1 1.1 1-1.2 1 1.4 1-1.4 1 1.3 1-1.4 1 1.4 1-1.4 1 1.6 1-1.4 1 1.1 1-1.1 1 1.3 1-1.4 1 1.2 1-1.1 1 1.4 1-1.5 1 1.7 1-1.6 1 1.2 1-1.2 1 1.1 1-1.2 1 1.3 1-1.4 1 1.3 1-1.2 1 1.4 1-2.1 1 2.7 1-2.4 1 2.2 1-1.7 1 1.2 1-1.2 1 1.4 1-1.4 1 1.1 1-1 1 1.4 1-1.3 1 .9 1-.9 1 1.1 1-1.2 1 1.4 1-1.8 1 1.5 1-1 1 .9 1-1.1 1 1.2 1-1.4 1 1.5 1-1.7 1 2 1-1.7 1 1.5 1-1.4 1 1.6 1-1.8 1 1.7 1-1.7 1 1.4 1-1.3 1 1.3 1-1.4 1 1.6 1-1.7 1 1.8 1-1.5 1 1.4 1-1.5 1 1.2 1-1 1 1.1 1-1.1 1 1.3 1-1.7 1 1.4 1-1 1 1 1-1.1 1 1.3 1-1.3 1 1.3 1-1.5 1 1.7 1-1.4 1 1.4 1-1.8 1 2.1 1-2.4 1 2.1 1-1.8 1 1.8 1-1.7 1 1.7 1-1.7 1 1.7 1-1.8 1 1.5 1-1.5 1 1.5 1-1.4 1 1.7 1-1.8 1 1.8 1-1.7 1 1.4 1-1.1 1 1.4 1-1.5 1 1.4 1-1.3 1 1.2 1-1.5 1 1.6 1-1.7 1 1.8 1-1.6 1 1.5 1-1.7 1 1.5 1-1.4 1 1.3 1-1 1 1.2 1-1.7 1 1.9 1-1.6 1 1.5 1-1.4 1 1.5 1-2.1 1 2.1 1-1.6 1 1.4 1-1.5 1 1.4 1-1.5 1 1.4 1-1.1 1 1.4 1-1.4 1 1.2 1-1 1 1 1-1 1 .9 1-1 1 1.3 1-1.6 1 1.3 1-1.1 1 1.3 1-1.3 1 1.3 1-1.2 1 1 1-1.4 1 1.6 1-1.3 1 1.1 1-1.2 1 1.3 1-1.3 1 1.6 1-1.8 1 1.8 1-1.5 1 1.5 1-1.8 1 1.6 1-1.6 1 1.4 1-1.3 1 1.6 1-1.3 1 1 1-1.2 1 1.3 1-1.2 1 1.1 1-1.2 1 1.2 1-1.2 1 1.4 1-1.4 1 1.3 1-1.3 1 1.3 1-1.3 1 1.4 1-1.7 1 2.2 1-1.8 1 1.4 1-1.3 1 1.3 1-1.3 1 1.2 1-1.3 1 1.3 1-1.4 1 1.4 1-1.3 1 1.5 1-1.8 1 1.8 1-1.4 1 1.3 1-1.6 1 1.3 1-1.3 1 1.6 1-1.7 1 1.8 1-1.7 1 1.6 1-1.4 1 1.1 1-1 1 1.5 1-1.7 1 1.6 1-1.7 1 1.3 1-1.2 1 1.5 1-1.3 1 1.2 1-1.4 1 1.6 1-1.8 1 1.4 1-.9 1 1.1 1-1.4 1 1.3 1-1.3 1 1.4 1-1.5 1 1.7 1-1.7 1 1.5 1-1.7 1 1.8 1-1.5 1 1.7 1-2 1 1.9 1-1.5 1 1.2 1-1.3 1 1.4 1-1.3 1 1.4 1-1.7 1 1.6 1-1.3 1 1.6 1-2 1 1.9 1-1.7 1 1.8 1-1.9 1 1.6 1-1.5 1 1.8 1-1.5 1 1.3 1-1.3 1 1.1 1-1.2 1 1.5 1-1.7 1 1.7 1-1.6 1 1.2 1-1 1 1.4 1-1.4 1 1 1-1 1 1.4 1-1.9 1 1.7 1-1.5 1 1.4 1-1.6 1 1.7 1-1.7 1 2.1 1-1.6 1 1.3 1-1.7 1 1.8 1-1.7 1 1.4 1-1.1 1 1.5 1-1.5 1 1.1 1-1.4 1 1.9 1-1.7 1 1.5 1-1.5 1 1.2 1-1.1 1 1.2 1-1.3 1 1.1 1-1.3 1 1.4 1-1.4 1 1.4 1-1.2 1 1.5 1-1.8 1 1.6 1-1.6 1 1.4 1-1.2 1 1.3 1-1.5 1 1.4 1-1.2 1 1.7 1-1.7 1 1.3 1-1.2 1 1.2 1-1 1 .8 1-.9 1 1 1-.9 1 1.2 1-1.4 1 1.1 1-1.3 1 1.6 1-1.3 1 1 1-1.1 1 1.1 1-1.1 1 1.2 1-1.3 1 1.3 1-1.3 1 1.5 1-1.5 1 1.7 1-1.6 1 1.9 1-2.3 1 1.8 1-1.5 1 1.5 1-1.2 1 1.4 1-1.7 1 1.5 1-1.4 1 1.2 1-1.3 1 1.7 1-1.9 1 1.5 1-1.3 1 1.5 1-1.3 1 1.2 1-1.3 1 1.1 1-1.1 1 1.3 1-1.3 1 1.2 1-1.2 1 1.3 1-1.4 1 1.2 1-1.1 1 1.2 1-1.4 1 1.4 1-1.1 1 1 1-1.4 1 1.7 1-1.6 1 1.3 1-1.4 1 1.9 1-1.7 1 1.2 1-1.3 1 1.7 1-1.9 1 1.9 1-1.6 1 1.6 1-1.8 1 1.6 1-1.6 1 1.5 1-1.2 1 1.2 1-1.3 1 1.6 1-1.5 1 1.4 1-1.5 1 1.3 1-1.1 1 1.3 1-1.6 1 1.7 1-1.6 1 1.4 1-1.5 1 1.7 1-1.6 1 1.6 1-1.8 1 1.5 1-1.3 1 1.7 1-1.6 1 1.4 1-1.4 1 1.4 1-1.3 1 1.3 1-1.3 1 1.3 1-1.4 1 1.2 1-1.2 1 1.4 1-1.4 1 1.2 1-1.2 1 1.7 1-1.9 1 1.3 1-.9 1 1.2 1-1.4 1 1.2 1-1.3 1 1.5 1-1.3 1 1.1 1-1.1 1 1.2 1-1.4 1 1.2 1-1.5 1 1.6 1-1.1 1 1.3 1-1.3 1 1.2 1-1.6 1 1.8 1-1.5 1 1.4 1-1.5 1 1.5 1-1.5 1 1.4 1-1.3 1 1.1 1-.9 1 .9 1-1 1 1.3 1-1.3 1 1.2 1-1.3 1 1.5 1-2.2 1 2.2 1-1.7 1 1.4 1-1.4 1 1.4 1-1 1 1.2 1-1.6"/>
<path class="t r" d="M138 608.6l1 .8 1-.9 1 .9 1-.8 1 .8 1-.8 1 .8 1-1.4 1 2.4 1-2.8 1 2.7 1-2.6 1 2.5 1-1.8 1 1.1 1-.9 1 .8 1-.9 1 1 1-1 1 .8 1-.7 1 .7 1-.6 1 .6 1-.8 1 .9 1-.8 1 1.3 1-1.8 1 1.8 1-2.4 1 2.6 1-2 1 1.3 1-.8 1 .8 1-.8 1 .9 1-1.1 1 1.1 1-1.2 1 1 1-.8 1 .9 1-.9 1 .8 1-1 1 1.2 1-1.5 1 2 1-2.2 1 2.5 1-2.6 1 2.1 1-1.7 1 1.8 1-1.8 1 1.2 1-.9 1 1.5 1-1.6 1 1.2 1-1 1 .8 1-.8 1 .8 1-.8 1 .9 1-1.3 1 1.4 1-1 1 1 1-1.2 1 1.4 1-1.6 1 1.4 1-1.5 1 1.6 1-1.3 1 1.1 1-1 1 .9 1-.8 1 .8 1-.8 1 .8 1-.8 1 .9 1-.9 1 1.1 1-1 1 .8 1-.8 1 .8 1-.8 1 .9 1-.9 1 1 1-1.3 1 1 1-.8 1 .9 1-1.1 1 1.4 1-1.3 1 1 1-.8 1 .9 1-1.1 1 1 1-.8 1 .7 1-.8 1 .8 1-.8 1 .9 1-1.1 1 1.2 1-.9 1 1.3 1-1.5 1 1 1-.8 1 .9 1-1.1 1 1 1-1.3 1 1.7 1-1.5 1 1.3 1-1.3 1 1.8 1-2 1 2.1 1-2.3 1 1.9 1-1.7 1 1.6 1-1.3 1 1.1 1-.8 1 .5 1-.7 1 .9 1-1 1 1 1-.9 1 .8 1-.8 1 1 1-.9 1 1.1 1-1.5 1 1.6 1-1.5 1 1.1 1-1.3 1 1.5 1-1.3 1 1.2 1-1 1 .8 1-.9 1 1.2 1-1.2 1 1.1 1-1.1 1 1.1 1-.8 1 .7 1-1 1 1.1 1-1 1 1 1-1 1 .8 1-.9 1 1 1-.8 1 1 1-1.4 1 1.4 1-1.1 1 1.2 1-1 1 .9 1-1.5 1 1.8 1-1.5 1 1.2 1-1 1 .9 1-1 1 1.3 1-1.7 1 1.4 1-1 1 .9 1-.8 1 .9 1-.9 1 .7 1-.8 1 1 1-.9 1 .8 1-.9 1 1.1 1-1.2 1 1 1-.9 1 1.8 1-2.2 1 1.8 1-1.9 1 1.7 1-1.3 1 1 1-.9 1 1.1 1-1.1 1 1.3 1-1.3 1 .9 1-.8 1 .9 1-.8 1 .6 1-.8 1 .8 1-1 1 1.1 1-.8 1 .8 1-.9 1 .7 1-.6 1 .8 1-.9 1 1 1-1.2 1 1.1 1-.9 1 .8 1-1 1 1.4 1-1.1 1 .7 1-1 1 1.8 1-2.3 1 2.1 1-1.7 1 1.2 1-1 1 1.1 1-1.1 1 .9 1-.7 1 .8 1-1 1 1.1 1-1 1 1.2 1-1.4 1 1.1 1-.7 1 .6 1-.7 1 .8 1-.9 1 .8 1-.8 1 1 1-.8 1 .6 1-.8 1 1 1-1.3 1 2 1-2.8 1 3.5 1-3.5 1 2.2 1-1.4 1 1.6 1-1.2 1 .7 1-.9 1 1.1 1-1.2 1 1.2 1-1.1 1 1.1 1-1.3 1 2.2 1-2.5 1 2.4 1-2.6 1 2.4 1-2 1 1.2 1-.8 1 1 1-1 1 .9 1-.9 1 .8 1-.7 1 .7 1-.8 1 .8 1-.7 1 .7 1-.9 1 .9 1-.9 1 .9 1-.8 1 1.3 1-1.3 1 1 1-1.7 1 2 1-1.6 1 1.7 1-1.9 1 1.6 1-1.1 1 1 1-1 1 .9 1-1.1 1 1 1-.9 1 1.2 1-1.4 1 1.6 1-2 1 2.5 1-2.3 1 2.1 1-2.2 1 1.5 1-.9 1 1.4 1-2.2 1 2.8 1-3 1 3.1 1-3.9 1 4.8 1-4.3 1 3.1 1-1.8 1 1.1 1-.9 1 .9 1-1.2 1 1 1-.8 1 .8 1-.7 1 .6 1-.7 1 .9 1-1.8 1 2.9 1-2.9 1 2.7 1-2.2 1 1.2 1-.7 1 .8 1-.9 1 .7 1-.7 1 1.2 1-1.6 1 1.2 1-.9 1 1.1 1-1.2 1 1.1 1-.9 1 .8 1-.8 1 .7 1-.7 1 .7 1-.9 1 1.2 1-1.2 1 1.2 1-1.2 1 1.2 1-1.1 1 1.1 1-1.1 1 .9 1-.8 1 .8 1-1.1 1 1.5 1-1.8 1 1.7 1-2 1 2.1 1-1.6 1 1.2 1-1.1 1 1.2 1-.8 1 .6 1-.7 1 .7 1-.6 1 .5 1-.6 1 .8 1-.7 1 .6 1-.9 1 1.3 1-1.3 1 1.1 1-1 1 .9 1-1 1 .9 1-.7 1 .6 1-.7 1 1 1-1 1 .9 1-.7 1 .6 1-.9 1 1.1 1-1.5 1 2.1 1-2.3 1 2.2 1-1.7 1 1.6 1-1.6 1 1.1 1-.9 1 .9 1-1.4 1 2.7 1-3.5 1 4 1-3.5 1 2.6 1-2.9 1 3.8 1-3.4 1 1.8 1-1.1 1 .9 1-.8 1 .7 1-.6 1 .7 1-.8 1 .8 1-.9 1 1 1-.9 1 .8 1-1 1 1 1-.9 1 1 1-1.4 1 1.9 1-1.6 1 1.1 1-1 1 1.1 1-1.4 1 1.3 1-1.3 1 1.4 1-1.3 1 1.1 1-.8 1 .7 1-.9 1 1.1 1-1.2 1 1.3 1-1.2 1 1 1-.9 1 1 1-1 1 .9 1-1 1 1.1 1-1.2 1 1.2 1-1 1 .7 1-.6 1 .9 1-.9 1 1 1-1.3 1 1.2 1-.9 1 .9 1-1.2 1 1.2 1-1 1 .9 1-.8 1 1 1-1.5 1 1.4 1-.9 1 .9 1-.9 1 .7 1-.8 1 .8 1-1.1 1 1.6 1-2.1 1 3.2 1-3.5 1 2.7 1-1.7 1 1.4 1-1.4 1 1 1-.8 1 .8 1-1.3 1 1.6 1-1.6 1 1.7 1-1.9 1 2 1-2.2 1 2.8 1-3.2 1 2.4 1-1.7 1 1.7 1-1.6 1 1.3 1-.9 1 .9 1-.9 1 .8 1-.7 1 .7 1-.7 1 .7 1-.7 1 .8 1-.9 1 .8 1-.8 1 .8 1-1 1 2.3 1-3.7 1 3.2 1-2.6 1 2.1 1-1.2 1 .9 1-.6 1 .7 1-.8 1 .9 1-.9 1 .8 1-.7 1 .7 1-.9 1 .8 1-.7 1 .7 1-.9 1 1.1 1-1.1 1 1.2 1-1.2 1 1 1-.8 1 .8 1-.9 1 .9 1-.9 1 .8 1-.7 1 .7 1-.9 1 .9 1-.7 1 1.3 1-1.5 1 1.1 1-1.1 1 1.4 1-1.3 1 1.1 1-1 1 .6 1-.6 1 .7 1-.8 1 .9 1-.9 1 .8 1-.8 1 .9 1-.7 1 .7 1-.9 1 .8 1-.7 1 .7 1-.8 1 1.4 1-1.9 1 1.7 1-1.6 1 2 1-1.8 1 1.5 1-1.3 1 .8 1-.9 1 1 1-.9 1 .8 1-.7 1 .7 1-.7 1 .8 1-1.1 1 1.1 1-.9 1 1.2 1-1.5 1 1.3 1-1 1 .8 1-1 1 1.1 1-.8 1 .7 1-.8 1 1 1-1.1 1 1.2 1-1.1 1 1.2 1-1.2 1 1 1-.9 1 .7 1-.7 1 1.2 1-1.2 1 .8 1-.9 1 1 1-1.3 1 1.3 1-.9 1 1.2 1-1.8 1 2.2 1-2.5 1 1.7 1-.9 1 .8 1-.7 1 1.1 1-1.5 1 1.1 1-.7 1 .9 1-1.1 1 1 1-1.4 1 2.2 1-2.6 1 2.9 1-3.9 1 4.3 1-3 1 2.3 1-3 1 3.1 1-3 1 3.2 1-2.6 1 2.5 1-2.2 1 1.4 1-1.2 1 1.1 1-1.1 1 1.2 1-1.4 1 1.5 1-1.9 1 3.1 1-2.9 1 2 1-1.5 1 .8 1-.7 1 .6 1-.7 1 1 1-1.4 1 2.2 1-2.7 1 3.5 1-4.8 1 5.9 1-5.5 1 4.1 1-3.1 1 2.4 1-2.2 1 2.3 1-2.4 1 1.8 1-1.1 1 1.1 1-1.2 1 1 1-1 1 1.1 1-1.1 1 1 1-1 1 1.1 1-1 1 1.1 1-1.8 1 1.8 1-1.2 1 1.7 1-2.4 1 2.9 1-3 1 2.6 1-2.5 1 2.4 1-1.8 1 1.3 1-1 1 .8 1-.9 1 1 1-.9 1 .9 1-.9 1 .9 1-1.1 1 1.1 1-1.2 1 1.1 1-.9 1 .8 1-.9 1 1 1-1 1 1.1 1-.9 1 .8 1-.8 1 .8 1-.8 1 .7 1-.7 1 .9 1-.9 1 .9 1-.9 1 .8 1-1 1 1.3 1-1.1 1 .9 1-.9 1 .8 1-.8 1 .7 1-.8 1 .8 1-.7 1 .9 1-.9 1 .8 1-.8 1 .8 1-.9 1 .9 1-.9 1 .8 1-.8 1 1 1-1.3 1 1.2 1-1 1 1.4 1-1.8 1 1.5 1-1.1 1 1 1-.8 1 1.1 1-1.3 1 .9 1-.9 1 1.1 1-1.1 1 1 1-.9 1 .7 1-.7 1 .9 1-.9 1 2.1 1-2.8 1 2.1 1-1.9 1 2.1 1-2.5 1 2.5 1-1.8 1 1.2 1-1.3 1 1.3 1-1 1 .9 1-.9 1 .7 1-.6 1 .8 1-.9 1 .9 1-.7 1 .6 1-.9 1 1 1-1.1 1 1.1 1-.7 1 .7 1-.9 1 1.1 1-1 1 .8 1-1.1 1 1.5 1-1.6 1 1.6 1-2 1 2.2 1-1.9"/>
<path class="t b" d="M138 639.7l1 1.8 1-1.9 1 1.5 1-1.3 1 1.5 1-1.7 1 1.4 1-1.2 1 1.7 1-1.8 1 1.6 1-1.8 1 1.6 1-1.4 1 1.4 1-1.3 1 1.4 1-1.3 1 1.4 1-1.5 1 1.2 1-1.3 1 1.7 1-1.7 1 1.3 1-1.1 1 1.3 1-1.2 1 1.3 1-1.7 1 2.3 1-2.9 1 2.7 1-2.1 1 1.5 1-1.6 1 2.3 1-2.2 1 1.6 1-1.7 1 1.9 1-1.7 1 1.7 1-1.4 1 1.2 1-1.2 1 1.3 1-1.5 1 1.3 1-1.3 1 1.5 1-1.7 1 1.6 1-1.3 1 1.5 1-1.5 1 1.4 1-1.8 1 1.5 1-1.2 1 1.4 1-1.3 1 1.7 1-1.6 1 1.3 1-1.5 1 1.2 1-1.4 1 1.5 1-1.1 1 1.1 1-1.4 1 1.5 1-1.5 1 1.6 1-1.4 1 1.6 1-1.6 1 1.5 1-1.9 1 1.8 1-1.3 1 1.1 1-1.3 1 1.3 1-1.2 1 1.5 1-1.8 1 1.7 1-1.7 1 1.8 1-1.8 1 1.9 1-2.1 1 2 1-2.1 1 1.7 1-1.4 1 1.6 1-1.2 1 1.5 1-1.8 1 1.4 1-1.2 1 1.3 1-1.4 1 1.4 1-1.3 1 1.1 1-1.1 1 1.2 1-1.1 1 1.3 1-1.5 1 1.4 1-1.3 1 1.4 1-1.7 1 1.6 1-1.4 1 1.2 1-1.2 1 1.6 1-1.8 1 1.6 1-1.3 1 1.2 1-1.4 1 1.6 1-1.6 1 1.7 1-1.7 1 1.4 1-1.3 1 1.2 1-1.1 1 1.2 1-1.2 1 1.3 1-1.5 1 1.4 1-1.4 1 1.7 1-1.8 1 1.6 1-1.3 1 1.2 1-1.3 1 1.5 1-1.6 1 1.9 1-2 1 1.7 1-1.6 1 1.6 1-1.4 1 1.5 1-1.9 1 1.7 1-1.2 1 .9 1-1.1 1 1.2 1-1 1 1.1 1-1.2 1 1.5 1-1.4 1 1 1-1.2 1 1.5 1-1.9 1 2.5 1-2.1 1 1.6 1-1.8 1 1.4 1-1.1 1 1.4 1-1.3 1 1.3 1-1.5 1 1.3 1-1.4 1 1.5 1-1.7 1 2 1-1.7 1 2.2 1-2.4 1 2.1 1-1.9 1 1.5 1-1.9 1 1.9 1-1.8 1 1.8 1-1.5 1 1.2 1-.9 1 1 1-1.3 1 1.4 1-1.3 1 1.1 1-1.1 1 1.1 1-1 1 1.1 1-1.5 1 1.8 1-1.7 1 1.5 1-1.4 1 1.3 1-1.1 1 1.3 1-1.4 1 1.1 1-1.1 1 1.3 1-1.8 1 2.4 1-2.9 1 3.1 1-2.5 1 1.5 1-1.2 1 1.5 1-1.3 1 1.3 1-1.7 1 1.5 1-1.2 1 1.5 1-1.4 1 1.4 1-1.7 1 1.6 1-1.4 1 1.5 1-1.7 1 1.7 1-1.9 1 1.8 1-1.9 1 2 1-1.5 1 1.7 1-1.9 1 1.6 1-1.3 1 1.3 1-1.7 1 1.5 1-1.2 1 1.6 1-1.5 1 1.4 1-1.5 1 1.4 1-1.6 1 1.3 1-1.3 1 1.5 1-1.8 1 1.7 1-1.4 1 1.4 1-1.4 1 1.7 1-1.7 1 1.3 1-1 1 1.4 1-1.8 1 1.7 1-1.5 1 1.8 1-1.8 1 1.6 1-1.4 1 1 1-1.7 1 2.4 1-2.2 1 2.1 1-2.2 1 1.7 1-1.2 1 1.2 1-1.3 1 1.3 1-1.3 1 1.5 1-1.6 1 1.4 1-1.1 1 1.1 1-1.2 1 1.1 1-1.2 1 1.4 1-1.5 1 1.4 1-1.1 1 1.2 1-1.4 1 1.5 1-1.4 1 1.2 1-1.4 1 1.3 1-1.4 1 1.8 1-1.7 1 1.5 1-1.3 1 1.3 1-1.2 1 1.3 1-1.4 1 1.4 1-1.3 1 1.3 1-1.6 1 1.6 1-1.5 1 1.3 1-1.5 1 1.4 1-1 1 1.3 1-1.3 1 1.3 1-1.6 1 1.8 1-1.6 1 1.4 1-1.5 1 1.2 1-1.1 1 1.4 1-1.5 1 1.3 1-1.3 1 1.5 1-1.6 1 1.4 1-1.4 1 1.4 1-1.4 1 1.4 1-1.1 1 1.1 1-1.5 1 2 1-1.6 1 1 1-1.6 1 1.9 1-1.5 1 1.3 1-1.2 1 1.4 1-1.6 1 1.5 1-1.7 1 1.7 1-1.3 1 1.3 1-1.2 1 1.1 1-1.2 1 1.4 1-1.6 1 1.6 1-1.5 1 1.6 1-1.7 1 1.6 1-1.7 1 1.5 1-1.6 1 1.6 1-1.4 1 2 1-2.2 1 2.6 1-2.7 1 2.2 1-1.7 1 1.5 1-1.6 1 1.4 1-1.2 1 1 1-1.3 1 1.5 1-1.4 1 1.3 1-1.3 1 1.2 1-1.1 1 1.3 1-1.4 1 1.3 1-1 1 1.4 1-1.8 1 1.7 1-1.5 1 1.3 1-1.5 1 1.4 1-1.2 1 1.4 1-1.7 1 1.7 1-1.5 1 1.4 1-1.4 1 1.6 1-2 1 2.1 1-1.7 1 1.5 1-1.9 1 1.7 1-1.5 1 1.8 1-1.7 1 1.3 1-1 1 1 1-1 1 1.2 1-1.4 1 1.4 1-1.4 1 1.3 1-1.5 1 1.7 1-1.3 1 1.4 1-1.6 1 1.4 1-1.4 1 1.3 1-1.2 1 1.2 1-1.7 1 2 1-1.7 1 2.8 1-3.1 1 2.1 1-1.8 1 1.6 1-1.7 1 1.9 1-1.6 1 1.2 1-1.2 1 1.5 1-1.8 1 1.6 1-1.4 1 1.3 1-1.4 1 1.7 1-2.1 1 2.4 1-2.2 1 2.5 1-2.2 1 1.6 1-1.6 1 1.5 1-1.6 1 1.7 1-1.6 1 1.4 1-1.6 1 1.5 1-1.5 1 1.7 1-1.4 1 1.6 1-1.5 1 1.2 1-1.4 1 1.3 1-1.3 1 1.4 1-1.2 1 1.1 1-1.3 1 1.5 1-1.5 1 1.2 1-1 1 1.1 1-1.2 1 1.2 1-1.2 1 1.5 1-1.7 1 1.7 1-1.4 1 1.4 1-1.9 1 1.9 1-1.7 1 1.7 1-1.6 1 1.7 1-2.4 1 2.5 1-2.2 1 2.2 1-1.9 1 1.5 1-1.5 1 1.7 1-2 1 1.9 1-1.4 1 1.3 1-1.4 1 1.6 1-1.9 1 1.7 1-1.3 1 1.1 1-1.1 1 1.1 1-1.3 1 1.5 1-1.4 1 1.4 1-1.8 1 2.1 1-1.6 1 1.5 1-1.7 1 1.5 1-1.2 1 1 1-1 1 1 1-1.2 1 1.4 1-1.4 1 1.2 1-.9 1 1.2 1-1.4 1 1.3 1-1.2 1 1.4 1-1.5 1 1.3 1-1.6 1 1.5 1-1.5 1 1.7 1-1.6 1 1.3 1-1.2 1 1.5 1-1.3 1 1.2 1-1.3 1 1.2 1-1.2 1 1.5 1-1.6 1 1.6 1-1.4 1 1 1-1.2 1 1.6 1-1.8 1 1.8 1-1.5 1 1.5 1-1.5 1 1.5 1-1.6 1 1.2 1-1 1 1.1 1-1.5 1 1.4 1-1.3 1 1.5 1-1.3 1 1.4 1-1.4 1 1.4 1-1.7 1 1.8 1-1.5 1 1.4 1-1.4 1 1.4 1-1.7 1 1.8 1-1.8 1 1.6 1-1.6 1 1.4 1-1.2 1 1.5 1-1.3 1 1.4 1-2.1 1 2.6 1-2.2 1 1.4 1-1.4 1 1.7 1-1.4 1 1.3 1-1.7 1 1.6 1-1.4 1 1.6 1-1.5 1 1.2 1-1.3 1 1.6 1-1.5 1 1.5 1-1.4 1 1 1-1.2 1 1.6 1-1.4 1 1.2 1-1.6 1 1.7 1-1.6 1 1.6 1-1.6 1 1.5 1-1.2 1 1.6 1-1.7 1 1.3 1-1.3 1 1.2 1-1.1 1 1.1 1-1.4 1 1.4 1-1.5 1 2.1 1-2 1 1.6 1-1.4 1 1.2 1-1.4 1 1.3 1-1.1 1 1.3 1-1.5 1 1.6 1-1.6 1 1.7 1-1.7 1 1.8 1-1.7 1 1.3 1-1.4 1 1.4 1-1.5 1 1.5 1-1.6 1 1.7 1-1.4 1 1.7 1-1.8 1 1.4 1-1.3 1 1.5 1-1.3 1 1 1-1.3 1 1.7 1-1.7 1 1.6 1-1.6 1 1.6 1-1.3 1 1 1-1.3 1 1.4 1-1.1 1 1.4 1-1.5 1 1.3 1-1.2 1 1 1-1.1 1 1.2 1-1.2 1 1 1-1 1 1.2 1-1 1 .9 1-1 1 1.1 1-1.7 1 1.7 1-1.3 1 1.2 1-1 1 1.5 1-1.7 1 1.4 1-1.5 1 1.7 1-1.6 1 1.3 1-1.1 1 1.2 1-1.5 1 1.4 1-1.4 1 1.5 1-1.5 1 1.8 1-1.8 1 1.6 1-1.7 1 1.9 1-1.8 1 1.6 1-1.4 1 1.4 1-2.1 1 1.9 1-1.2 1 1.3 1-1.1 1 .9 1-1 1 1 1-1.3 1 2 1-1.9 1 1.6 1-2 1 1.8 1-1.4 1 1.5 1-1.3 1 1 1-1 1 1 1-1 1 1.1 1-1.2 1 1.1 1-1.2 1 1.5 1-1.3 1 1.4 1-1.7 1 1.8 1-1.8 1 1.7 1-1.8 1 1.5 1-1.4 1 1.4 1-1.3 1 1.4 1-1.4 1 1.5 1-1.5 1 1.3 1-1 1 .9 1-1.2 1 1.2 1-1.1 1 1.3 1-1.1 1 1 1-1.2 1 1.2 1-1.6 1 1.5 1-1.2 1 1.5 1-1.3 1 1 1-1.1 1 1.1 1-1.2 1 1.2 1-1 1 1.3 1-1.3 1 1.1 1-1.3 1 1.3 1-1.1 1 1.2 1-1.4 1 1.3 1-1.2 1 1.4 1-1.4 1 1.4 1-1.5 1 1.7 1-1.6 1 1.3 1-1.3 1 1.5 1-1.6 1 1.4 1-1.3 1 1.5 1-1.5 1 1.7 1-1.9 1 1.4 1-1.6 1 1.6 1-1.1 1 1.1 1-1.6 1 2.1 1-1.7 1 1.3 1-1.4 1 1.5 1-1.3 1 1.1 1-1.2 1 1.2 1-1.6 1 2 1-1.6 1 1.1 1-1.1 1 1.2 1-1.3 1 1.3 1-1.1 1 1.3 1-1.4 1 1.3 1-1.1 1 1.2 1-1.3 1 1.2 1-1.6 1 1.8 1-1.6 1 1.2 1-1 1 1.1 1-1.1 1 1.1 1-1.5 1 1.6 1-1.6"/>
<path class="t g" d="M138 671.7l1 .7 1-.7 1 .7 1-.9 1 1 1-1 1 .9 1-1 1 1.8 1-1.9 1 1.7 1-2.1 1 1.9 1-1.3 1 1.1 1-1 1 .8 1-.8 1 1.2 1-1.6 1 1.2 1-.9 1 1.2 1-1.5 1 2.1 1-2.4 1 2.2 1-2.7 1 2.6 1-2.6 1 3.2 1-3.2 1 3.3 1-2.7 1 2.5 1-2.5 1 2.2 1-1.7 1 1.4 1-1.4 1 .9 1-.7 1 .7 1-1 1 1.2 1-1 1 .9 1-.9 1 .8 1-1 1 1.1 1-1 1 1.3 1-1.2 1 .9 1-.8 1 1.1 1-1.2 1 .8 1-.8 1 .7 1-.7 1 1 1-1 1 1.1 1-1.4 1 1.6 1-1.9 1 2.7 1-2.6 1 2 1-2.6 1 3.3 1-3.3 1 2.8 1-2.3 1 2.3 1-1.9 1 1.1 1-.9 1 1.1 1-1.2 1 1.1 1-1.2 1 1.9 1-2 1 1.2 1-1 1 1.1 1-1 1 1.1 1-1.3 1 .9 1-.6 1 .9 1-1.1 1 1.2 1-1.2 1 .9 1-.8 1 1.2 1-1.5 1 1.3 1-1.4 1 1.2 1-.9 1 .9 1-.7 1 .7 1-.8 1 .8 1-.8 1 1 1-.9 1 .8 1-.7 1 .5 1-.7 1 .8 1-.8 1 .9 1-1 1 1.7 1-2.4 1 2.4 1-2.6 1 2.5 1-1.9 1 1.7 1-1.7 1 1.7 1-2.1 1 1.8 1-1 1 1 1-1 1 1 1-.9 1 1.1 1-1.4 1 1.7 1-2.2 1 1.7 1-1 1 1.3 1-2.4 1 2.6 1-2.2 1 1.6 1-.8 1 .7 1-.9 1 1.7 1-1.7 1 1 1-1.1 1 1.1 1-1 1 1 1-.9 1 .8 1-.6 1 .5 1-.6 1 .7 1-1.2 1 1.3 1-1 1 .9 1-.8 1 1 1-1.2 1 1.1 1-1.6 1 2.1 1-2.4 1 2.3 1-2.2 1 2.3 1-1.8 1 1.7 1-1.3 1 .9 1-.9 1 .8 1-1.4 1 2.3 1-1.6 1 .9 1-1 1 1.6 1-2.1 1 1.6 1-1.4 1 1.7 1-1.6 1 1.4 1-1.7 1 2 1-2.2 1 2.5 1-2.8 1 2.4 1-2.1 1 1.7 1-1 1 .9 1-.9 1 .9 1-1 1 .9 1-.7 1 .8 1-.7 1 .6 1-.7 1 .8 1-.9 1 .9 1-.8 1 .7 1-.7 1 1 1-1.4 1 1.1 1-.7 1 .8 1-.8 1 1.3 1-2.6 1 2.9 1-2.1 1 2 1-1.7 1 .9 1-.9 1 1.1 1-.8 1 .7 1-.8 1 .8 1-.7 1 .7 1-.9 1 .9 1-1.4 1 1.6 1-1.1 1 1.3 1-1.9 1 1.6 1-1.2 1 1 1-.8 1 .8 1-.9 1 1.2 1-1.2 1 .9 1-.7 1 .7 1-.7 1 .7 1-.8 1 1 1-1.2 1 1.7 1-1.9 1 2.4 1-2.4 1 1.7 1-1.9 1 2 1-1.8 1 1.8 1-2.3 1 2.4 1-2.1 1 2.3 1-2.2 1 2.4 1-2.7 1 2 1-1.7 1 1.6 1-1 1 .7 1-.8 1 1 1-1.5 1 2 1-2.1 1 2.4 1-2.4 1 2.2 1-2.4 1 2.5 1-1.9 1 1.1 1-.7 1 .5 1-.7 1 .8 1-.7 1 .8 1-1 1 1.1 1-.8 1 .7 1-.9 1 .7 1-.5 1 .7 1-.9 1 .9 1-.9 1 .8 1-.8 1 .8 1-.6 1 .7 1-.9 1 1 1-1.1 1 1.2 1-1.3 1 1.4 1-1.3 1 1.1 1-1.3 1 1.2 1-1.3 1 1.5 1-1.2 1 1 1-.9 1 1 1-1.2 1 1.3 1-1 1 .8 1-.7 1 .5 1-.6 1 .7 1-.8 1 1.1 1-1.6 1 1.6 1-1.2 1 .9 1-1.2 1 1.6 1-1.7 1 2.4 1-2.7 1 2.6 1-2.2 1 1.3 1-.8 1 .8 1-1.1 1 1.2 1-.8 1 .8 1-1.2 1 1.1 1-1 1 .9 1-.8 1 1 1-1.3 1 1.3 1-1 1 1 1-1.1 1 .9 1-.8 1 .9 1-1.3 1 1.2 1-.9 1 .9 1-.8 1 1 1-1.2 1 1.3 1-1.3 1 1.1 1-.8 1 .8 1-.9 1 1.1 1-1.6 1 2 1-2.4 1 3.2 1-3.5 1 3 1-3.1 1 2.7 1-1.6 1 1.5 1-1.5 1 1.5 1-1.4 1 1 1-1.2 1 1.3 1-1.3 1 1.1 1-.7 1 1 1-1.2 1 .9 1-.7 1 .8 1-.9 1 .7 1-.7 1 1 1-1 1 .8 1-.8 1 .9 1-.9 1 1 1-1.2 1 1.1 1-1.5 1 1.7 1-1.2 1 1 1-1.1 1 1 1-.6 1 .7 1-.7 1 .5 1-.5 1 .7 1-.9 1 .9 1-.8 1 .9 1-1 1 .9 1-1 1 1.2 1-1.1 1 1 1-1 1 .8 1-.8 1 .9 1-1 1 1.1 1-1.1 1 .9 1-.8 1 .7 1-.6 1 .8 1-.9 1 .9 1-.9 1 .9 1-.9 1 .7 1-.7 1 1.3 1-2 1 2.1 1-1.5 1 1.3 1-2 1 2.6 1-2.6 1 2.5 1-2.6 1 2.6 1-3.1 1 2.7 1-1.6 1 1.6 1-1.5 1 1.3 1-1.2 1 1.2 1-1.1 1 .9 1-1.1 1 1.3 1-1.3 1 1.1 1-1 1 1 1-.7 1 .6 1-.8 1 .9 1-.7 1 .7 1-.9 1 1.1 1-1 1 .9 1-1 1 1 1-1.1 1 1.3 1-1.3 1 1 1-1 1 .9 1-.8 1 .9 1-.9 1 .8 1-.9 1 .9 1-.7 1 .8 1-.9 1 1 1-.8 1 .6 1-1.1 1 1.3 1-1.1 1 1.3 1-1.4 1 1 1-.8 1 .9 1-.9 1 1 1-1.1 1 .9 1-.7 1 .9 1-.9 1 .7 1-.8 1 1 1-.9 1 .9 1-.9 1 .8 1-.9 1 .9 1-.8 1 .8 1-.8 1 .7 1-.7 1 .8 1-.9 1 .8 1-.9 1 1.2 1-1.2 1 1 1-.9 1 .9 1-1 1 .8 1-.6 1 .8 1-.9 1 .9 1-1 1 1.2 1-1.4 1 1.7 1-3 1 3.4 1-3.8 1 5 1-3.7 1 2.9 1-2.4 1 1.2 1-1.1 1 1 1-.8 1 .9 1-1.4 1 1.5 1-1.3 1 1.5 1-1.4 1 1.1 1-1.1 1 1 1-.9 1 .9 1-1 1 1.1 1-1.3 1 1.2 1-.7 1 .8 1-1 1 1 1-1 1 .8 1-.7 1 .9 1-1.7 1 2 1-1.3 1 1.3 1-1.7 1 1.4 1-1 1 .9 1-.8 1 .7 1-.7 1 .9 1-1.1 1 .9 1-.7 1 .8 1-1.2 1 1.4 1-1.2 1 1 1-.9 1 1 1-1.1 1 1.3 1-2.1 1 2.3 1-2.1 1 2.5 1-2.8 1 2.4 1-1.8 1 1.6 1-1.2 1 .8 1-.9 1 1.1 1-.9 1 .7 1-.9 1 1.6 1-2.4 1 2.4 1-2.8 1 3.6 1-2.6 1 1.4 1-1.3 1 1.1 1-1 1 1.1 1-1 1 .9 1-1 1 .9 1-.8 1 .9 1-1 1 1.8 1-3 1 3.5 1-3.9 1 4.1 1-4.3 1 4.5 1-3.7 1 3.1 1-2.6 1 1.8 1-1.5 1 1.7 1-1.6 1 1.9 1-3 1 3 1-2.2 1 1.8 1-1.5 1 1.2 1-1 1 .7 1-.6 1 .9 1-.9 1 .8 1-.9 1 .8 1-.7 1 .7 1-.9 1 1 1-.9 1 .9 1-.8 1 .9 1-.9 1 .8 1-.9 1 .8 1-1.2 1 1.6 1-1.8 1 1.4 1-.8 1 1 1-1.2 1 1.4 1-1.3 1 1 1-.8 1 .9 1-1.3 1 1.3 1-1.1 1 1.3 1-1.4 1 1.6 1-2.3 1 3.5 1-3.7 1 2.7 1-1.6 1 .9 1-.9 1 1 1-.9 1 .9 1-1.2 1 1.4 1-1.6 1 1.6 1-1.6 1 1.5 1-1.8 1 1.9 1-1.5 1 1.5 1-1.8 1 1.7 1-1.4 1 1.3 1-.9 1 1 1-1.2 1 1.3 1-1.4 1 1.1 1-1.2 1 1.2 1-1.1 1 1.2 1-.9 1 .8 1-1 1 1 1-.9 1 .9 1-.9 1 .9 1-1 1 1.2 1-1.2 1 1 1-.8 1 .9 1-1 1 1.1 1-1.5 1 1.7 1-1.7 1 2 1-2 1 1.4 1-1.3 1 1.3 1-1.6 1 1.9 1-2.3 1 3 1-2.5 1 2.7 1-2.8 1 2.8 1-2.6 1 1.5 1-1.3 1 1.1 1-.9 1 1 1-.9 1 1 1-1.1 1 .9 1-.8 1 .9 1-1 1 .9 1-.8 1 .8 1-.9 1 .8 1-1 1 1.3 1-1.3 1 1.1 1-1.4 1 1.8 1-1.4 1 1 1-.8 1 .7 1-.7 1 .7 1-.7 1 .8 1-1.3 1 1.4 1-1.3 1 1.2 1-.8 1 1 1-1 1 .9 1-1.1 1 1.2 1-1.1 1 .8 1-.7 1 .7 1-.6 1 .6 1-.8 1 1.1 1-1.4 1 1.5 1-1.8 1 2.2 1-1.8 1 1.1 1-.9 1 .8 1-.8 1 .8 1-1 1 1.4 1-1.4 1 1.3 1-1.3 1 1.1 1-.9 1 .8 1-.7 1 .7 1-.8 1 1 1-.9 1 .7 1-.7 1 .7 1-.8 1 1.1 1-1.4 1 1.4 1-1.3 1 1 1-.7"/>
<path class="t k" d="M138 703.1l1 1.1 1-1 1 .8 1-.8 1 .8 1-1.1 1 1.4 1-1.3 1 1.2 1-1 1 .8 1-1 1 1.3 1-1.2 1 1 1-1.3 1 1.3 1-.9 1 .9 1-1.3 1 1.7 1-1.6 1 1.5 1-1.4 1 1.1 1-1 1 1.1 1-1 1 .9 1-1.1 1 1.1 1-1.2 1 1.2 1-1 1 .9 1-1.1 1 1.2 1-1.3 1 1.4 1-1.3 1 1.4 1-1.2 1 1 1-1 1 1.1 1-1.3 1 1.3 1-1.4 1 1.3 1-1 1 1 1-1.3 1 1.8 1-1.8 1 1.4 1-1.3 1 1.1 1-1 1 1.1 1-1.5 1 1.6 1-1.4 1 1.2 1-1 1 1.5 1-1.5 1 1.8 1-2.1 1 2.9 1-3.4 1 2 1-1.1 1 1 1-.9 1 1 1-1.1 1 1.1 1-1.1 1 1.2 1-1.1 1 1.1 1-1.6 1 1.4 1-.9 1 1 1-1.2 1 1.3 1-1.3 1 1.3 1-1.3 1 1 1-.8 1 .8 1-.8 1 1 1-1.1 1 1 1-1.3 1 1.3 1-1.1 1 1 1-1.1 1 1.1 1-1.1 1 1.4 1-1.2 1 1.2 1-1.4 1 1.2 1-1.1 1 1.1 1-1.3 1 1.5 1-1.1 1 .8 1-.9 1 1.4 1-1.5 1 1 1-1 1 1.1 1-1.3 1 1.2 1-.8 1 1.1 1-1.1 1 1 1-1 1 1 1-1.1 1 1.2 1-1.5 1 1.4 1-1.1 1 1.2 1-1.1 1 .8 1-.9 1 .9 1-.9 1 1.1 1-1 1 1.1 1-1.1 1 .9 1-1.3 1 1.5 1-1.2 1 1.1 1-1.2 1 1.1 1-1.2 1 1.4 1-1.9 1 2.1 1-1.6 1 1.3 1-1.1 1 1 1-1.1 1 1.1 1-.9 1 1 1-1.2 1 1.3 1-1.3 1 1.2 1-1.4 1 1.5 1-1.5 1 1.4 1-1.4 1 1.5 1-1.3 1 1.2 1-1.3 1 1.2 1-.9 1 1.1 1-1.4 1 1.4 1-1.2 1 1.1 1-1.1 1 1.2 1-1.4 1 1.3 1-1.2 1 1.1 1-1.2 1 1.2 1-1 1 1.1 1-1.3 1 1.4 1-1.4 1 1.3 1-1.1 1 1.2 1-1.4 1 1.2 1-1.2 1 1.2 1-1.2 1 1.2 1-1.1 1 1 1-.8 1 .8 1-.8 1 1.1 1-1.5 1 1.3 1-.9 1 .9 1-1.3 1 1.5 1-1.7 1 1.4 1-1.1 1 1.3 1-1.1 1 1 1-1.1 1 1.3 1-1.1 1 .8 1-1.2 1 1.6 1-1.3 1 1.1 1-1.2 1 1 1-.8 1 1 1-1.1 1 1.1 1-1.1 1 1 1-.9 1 1 1-1.3 1 1.1 1-1 1 1.5 1-1.6 1 1.3 1-1.1 1 1 1-1 1 .9 1-.8 1 .8 1-.9 1 1 1-.9 1 1.1 1-1.3 1 1.1 1-1.3 1 1.2 1-1.1 1 1.2 1-.9 1 1.1 1-1.3 1 1.1 1-1 1 1.4 1-2.1 1 2.1 1-1.6 1 1.4 1-1.2 1 .9 1-1 1 1.3 1-1.5 1 1.3 1-1.2 1 1.3 1-1.1 1 1.2 1-1.2 1 1.1 1-1.1 1 .8 1-.8 1 1.3 1-1.5 1 1.5 1-1.6 1 1.4 1-1.2 1 1.3 1-1.4 .5 1.4 .5-1.5 .5 1.6 .5-1.7 .5 3.1 .5-4.4 .5 3.7 .5-1.9 .5 .9 .5-1.4 .5 1.7 .5-1.5 1 1.2 1-1.2 1 1.3 1-1.3 1 1.5 1-1.7 1 1.5 1-1.4 1 1.2 1-.9 1 .9 1-1.1 1 1.2 1-1 1 1.3 1-1.5 1 1.3 1-1 1 .8 1-1.1 1 1.3 1-1 1 1 1-1.2 1 1.4 1-1.6 1 1.5 1-1.2 1 1.2 1-1.4 1 1.3 1-1.3 1 1.3 1-1.3 1 1.4 1-1.7 1 1.9 1-1.5 1 1.5 1-1.8 1 1.5 1-1.3 1 1.2 1-1.3 1 1.3 1-1.1 1 1 1-1.3 1 1.3 1-1.1 1 1.3 1-1.4 1 1.3 1-.9 1 1 1-1.1 1 1.2 1-1.3 1 1.4 1-1.3 1 1.2 1-1.5 1 1.5 1-1.4 1 1.2 1-1.1 1 1.3 1-1.2 1 1.2 1-1.7 1 1.7 1-1.3 1 1.1 1-1.1 1 1.1 1-1.2 1 1.6 1-1.6 1 1.3 1-1.1 1 1 1-1 1 1 1-.9 1 .9 1-1 1 1.2 1-1.5 1 1.2 1-.8 1 1.4 1-1.6 1 1.3 1-1.8 1 2.5 1-2.5 1 1.5 1-1.2 1 1.6 1-1.6 1 1.5 1-1.1 1 .9 1-1.3 1 1.4 1-1.5 1 1.6 1-1.2 1 .9 1-.9 1 1.2 1-1.3 1 1.3 1-1.4 1 1.5 1-1.5 1 1.3 1-1.2 1 1.1 1-1 1 1.1 1-1.3 1 1.6 1-1.6 1 1.3 1-1.2 1 1.4 1-1.5 1 1.6 1-1.7 1 1.2 1-1.1 1 1.6 1-1.6 1 1.1 1-1.3 1 1.7 1-1.5 1 1.2 1-1.1 1 1.4 1-1.4 1 1 1-1 1 1.3 1-1.4 1 1.2 1-1.2 1 1.4 1-1.6 1 1.4 1-1.2 1 1.3 1-1.2 1 1.3 1-1.2 1 .9 1-.9 1 1.1 1-1.2 1 1.1 1-1.2 1 1.4 1-1.4 1 1.3 1-1.4 1 1.4 1-1.3 1 1.5 1-1.4 1 1.3 1-1.4 1 1.3 1-1.2 1 1.2 1-1.1 1 1.1 1-1.1 1 1.2 1-1.2 1 1.1 1-1.1 1 1.1 1-1.1 1 1.1 1-1.4 1 1.4 1-1.2 1 1.2 1-1 1 1.2 1-1.3 1 1 1-1.2 1 1.1 1-.9 1 1 1-1.3 1 1.4 1-1.3 1 1.5 1-1.3 1 1.2 1-1.4 1 1.2 1-1.2 1 1.4 1-1.3 1 1.2 1-1.1 1 1.2 1-1.1 1 1 1-1 1 .9 1-1.2 1 1.2 1-1 1 1.2 1-1.4 1 1.2 1-1.2 1 1.1 1-1 1 1.3 1-1.1 1 1 1-1.4 1 1.4 1-1.1 1 1.1 1-1.3 1 1.3 1-1.3 1 1.4 1-1.3 1 1.1 1-1.2 1 1.6 1-1.4 1 1.4 1-1.7 1 1.2 1-.9 1 1.2 1-1.7 1 1.6 1-1.3 1 1.4 1-1.3 1 1.2 1-1.3 1 1.4 1-1.3 1 1.1 1-1.2 1 1.2 1-1 1 1.2 1-1.2 1 .9 1-.9 1 1 1-1.2 1 1.3 1-1.1 1 1.1 1-1.3 1 1.5 1-1.4 1 1.2 1-1.4 1 1.2 1-.8 1 1.2 1-1.5 1 1.4 1-1.4 1 1.3 1-1.2 1 1 1-1.2 1 1.3 1-1 1 1.1 1-1.1 1 1.1 1-1.4 1 1.6 1-1.4 1 1.5 1-2.5 1 2.7 1-1.8 1 1.4 1-1.3 1 1.4 1-2 1 2.3 1-2 1 1.7 1-1.4 1 1.3 1-1.3 1 1.2 1-1.2 1 1.1 1-1.1 1 1.3 1-1.5 1 1.3 1-1.3 1 1.4 1-1.4 1 1.2 1-1 1 1 1-1.1 1 1.3 1-1.3 1 1.1 1-1 1 1.1 1-1 1 .9 1-1 1 1.1 1-1.2 1 1.3 1-1.1 1 1.1 1-1.3 1 1.2 1-1.2 1 1.4 1-1.4 1 1.2 1-1.2 1 1.6 .5-1.4 .5 1.2 .5-1.4 .5 1.3 .5-2.5 .5 4.2 .5-4.2 .5 2.4 .5-.9 .5 .9 .5-1 .5 1.2 1-1.4 1 1.5 1-1.6 1 1.8 1-1.5 1 1.3 1-1.3 1 1.6 1-1.9 1 1.4 1-1.3 1 1.3 1-1.1 1 1 1-1.2 1 1.3 1-1 1 1 1-1.1 1 1.1 1-1.3 1 1.3 1-1.2 1 1.2 1-1.3 1 1.2 1-1.2 1 1.4 1-1.3 1 1 1-1.1 1 1.1 1-.9 1 1.2 1-1.2 1 1.2 1-1.7 1 1.7 1-1.7 1 1.7 1-1.4 1 1.4 1-1.2 1 1.1 1-1.1 1 1 1-1.2 1 1.1 1-1.1 1 1.8 1-2.3 1 1.7 1-.9 1 .8 1-1.2 1 1.4 1-1.2 1 1.3 1-1.4 1 1.3 1-1.2 1 1.3 1-1.2 1 1.2 1-1.3 1 1.2 1-1.1 1 1 1-1.2 1 1.4 1-1.3 1 1.3 1-1.4 1 1.1 1-.9 1 1.1 1-1.1 1 1.2 1-1.4 1 1.3 1-1.2 1 1.4 1-1.5 1 1.1 1-1 1 1.2 1-1.2 1 1.3 1-1.2 1 1 1-1.3 1 1.3 1-1.3 1 1.4 1-1.2 1 1.6 1-1.9 1 1.5 1-1.3 1 1.4 1-1.6 1 1.5 1-1.5 1 1.4 1-1.1 1 1 1-1.2 1 1.5 1-1.3 1 1.3 1-1.4 1 1.6 1-1.7 1 1.6 1-1.5 1 1.7 1-2.4 1 2.1 1-1.3 1 1 1-1 1 1.3 1-1.3 1 1 1-1.2 1 1.4 1-1.4 1 1.2 1-1 1 1 1-1 1 1.1 1-1.1 1 1.2 1-1.4 1 1.4 1-1.2 1 1.1 1-1.2 1 1.1 1-.9 1 1.2 1-1.5 1 1.3 1-1 1 1.2 1-1.5 1 1.3 1-1.2 1 1.4 1-1.3 1 1.1 1-.9 1 .8 1-1.2 1 1.5 1-1.3 1 1.2 1-1 1 .8 1-1 1 1.3 1-1.2 1 1.1 1-1.2 1 1.7 1-1.8 1 1.4 1-1.3 1 1.2 1-1.4 1 1.2 1-.9 1 .9 1-.9 1 1 1-1.2 1 1.2 1-1 1 1.1 1-1.3 1 1.4 1-1.3 1 1.2 1-1.2 1 1.2 1-1.2 1 1.1 1-1.1 1 1.3 1-1.3 1 1.2 1-1 1 .9 1-1.1 1 1 1-1 1 1.2 1-1.1 1 1.1 1-1.1 1 1 1-1.1 1 1.4 1-1.4 1 1.1 1-1.3 1 1.8 1-1.9 1 1.7 1-1.6 1 1.5 1-1.6 1 1.5 1-1.2 1 1.1 1-1 1 1.3 1-1.2 1 1.1 1-1.5 1 1.2 1-.9 1 .9 1-1.2 1 1.6 1-1.4"/>
<path class="t r" d="M138 734.8l1 .8 1-.8 1 .7 1-1 1 1 1-.8 1 1.3 1-2.5 1 3 1-3.1 1 3.1 1-2 1 1.3 1-1.7 1 2.8 1-3.5 1 3.1 1-2.9 1 2.4 1-1.5 1 2 1-2.4 1 1.8 1-1.7 1 2 1-2.4 1 2.1 1-2.1 1 2.1 1-1.5 1 1.3 1-.9 1 .7 1-1 1 1.2 1-1.2 1 1.3 1-2 1 3.1 1-3.1 1 2.7 1-2.7 1 2.2 1-2.1 1 1.8 1-1.1 1 1 1-1 1 1 1-1.1 1 1 1-.7 1 .8 1-.9 1 .8 1-1 1 1.1 1-1.2 1 1.9 1-2 1 2.1 1-2.2 1 2.2 1-1.8 1 1 1-1.1 1 1.1 1-1 1 1.1 1-1.2 1 1.1 1-.9 1 .8 1-.8 1 .8 1-1 1 1.1 1-.9 1 .8 1-.9 1 1 1-1.3 1 1.5 1-1.3 1 1.1 1-1.2 1 1.4 1-1.1 1 1 1-1.2 1 1.5 1-1.3 1 .8 1-.7 1 .8 1-1.1 1 1.3 1-1.2 1 1 1-1.1 1 1.2 1-1.3 1 1.9 1-2.1 1 2.1 1-1.8 1 1.7 1-2.3 1 2.3 1-1.9 1 2.1 1-2.5 1 1.9 1-1.5 1 1.8 1-1.3 1 .7 1-.9 1 1.2 1-1.1 1 .9 1-1.3 1 1.5 1-1.1 1 .8 1-.9 1 1.1 1-1.2 1 1.1 1-.8 1 .9 1-1.1 1 1.1 1-1.3 1 1.6 1-1.7 1 1.8 1-1.8 1 1.4 1-1.2 1 1.6 1-2 1 1.8 1-1.3 1 1.1 1-1.8 1 2.9 1-2.3 1 1.4 1-1.4 1 1.1 1-.8 1 .8 1-1.3 1 1.4 1-1.1 1 1.1 1-1.4 1 1.3 1-.9 1 .7 1-.6 1 .8 1-.9 1 .9 1-1 1 1 1-.8 1 .8 1-1 1 1.2 1-1.6 1 1.8 1-1.9 1 2.9 1-2.5 1 1.3 1-1.4 1 1.3 1-.9 1 .8 1-1.1 1 1.5 1-2.1 1 2.7 1-2.4 1 2 1-1.5 1 1.2 1-1.7 1 1.5 1-1.2 1 1.2 1-.9 1 1.1 1-1.6 1 1.2 1-.8 1 .9 1-.8 1 .9 1-1 1 .8 1-1.1 1 1.5 1-1.2 1 1.3 1-1.8 1 2 1-1.9 1 1.9 1-2 1 2.1 1-1.8 1 1.2 1-1 1 1 1-1.1 1 1 1-1 1 1 1-.8 1 .8 1-.8 1 .8 1-.9 1 .8 1-.8 1 .9 1-1.4 1 1.5 1-1 1 .8 1-.9 1 1.2 1-1.3 1 1.2 1-1 1 .9 1-1.2 1 1.6 1-1.9 1 2.1 1-2 1 1.7 1-2 1 1.8 1-1.4 1 1.3 1-.9 1 .9 1-1.1 1 1.6 1-2.1 1 2.1 1-2.2 1 2.3 1-2.2 1 1.7 1-1.1 1 1.1 1-1.2 1 1 1-.8 1 .8 1-.8 1 .8 1-.8 1 1.1 1-1.3 1 1.4 1-1.2 1 1 1-1.1 1 1.1 1-1.1 1 1.2 1-1.2 1 1.1 1-1.1 1 1.1 1-1.2 1 1.5 1-1.3 1 .8 1-.7 1 .8 1-.9 1 1 1-1 1 1 1-.9 1 1.3 1-1.7 1 1.3 1-1.3 1 2 1-2.7 1 2.3 1-2.2 1 2.2 1-1.8 1 2 1-1.7 1 1.3 1-1.2 1 1 1-1.3 1 1.6 1-1.2 1 .8 1-.9 1 1.3 1-1.4 1 1.7 1-1.8 1 1.5 1-1.6 1 1.7 1-1.7 1 2 1-1.9 1 1.2 1-1.1 1 1.2 1-1.3 1 1.3 1-1.2 1 1 1-.7 1 .9 1-1 1 .8 1-.7 1 .6 1-.7 1 1 1-1.1 1 1.4 1-1.3 1 .9 1-.9 1 1 1-1.1 1 1.2 1-1.2 1 1.8 1-2.5 1 2.6 1-2.6 1 2.4 1-2.1 1 1.6 1-1.1 1 .9 1-.8 1 .8 1-1.3 1 1.5 1-1.3 1 1.2 1-1.1 1 .9 1-.8 1 1 1-1.1 1 .8 1-.9 1 1.6 1-1.8 1 1.4 1-1.1 1 1.3 1-1.2 1 .8 1-.7 1 .6 1-.9 1 1.3 1-1.1 1 1.2 1-1.4 1 1.2 1-1.1 1 1.4 1-1.8 1 1.8 1-1.9 1 2.1 1-1.7 1 1.3 1-1.3 1 1 1-.9 1 .9 1-.9 1 1.2 1-1 1 .8 1-.9 1 1 1-1.1 1 1.1 1-1.4 1 1.9 1-2 1 2.3 1-2.1 1 1.2 1-1.1 1 1 1-.9 1 .9 1-.7 1 1.1 1-1.9 1 1.8 1-1 1 1 1-1.2 1 1 1-1 1 1.1 1-1.2 1 1.1 1-.9 1 .8 1-.8 1 .9 1-.8 1 .9 1-1.3 1 1.2 1-.9 1 .8 1-.7 1 .8 1-1.1 1 1.1 1-.9 1 1 1-1.2 1 1.2 1-1.2 1 1.1 1-1 1 1 1-1 1 .9 1-.8 1 .9 1-1.2 1 1.2 1-.9 1 1 1-1 1 .9 1-.9 1 .8 1-.7 1 .8 1-.8 1 .8 1-.9 1 .9 1-.8 1 .7 1-.7 1 1 1-1.6 1 1.7 1-1.5 1 1.2 1-1.1 1 1.4 1-1.1 1 .9 1-.9 1 1.2 1-1.5 1 1.1 1-1 1 1.4 1-2.6 1 2.7 1-1.8 1 1.6 1-1.5 1 1.6 1-1.7 1 1.3 1-.9 1 1.5 1-2.2 1 1.5 1-.7 1 .8 1-.9 1 1.2 1-1.2 1 1.2 1-1.1 1 .8 1-.9 1 1 1-1 1 .8 1-1 1 1.1 1-.8 1 .9 1-1 1 .9 1-1.2 1 2.3 1-2.9 1 3.1 1-3.5 1 3.3 1-3.2 1 2.6 1-1.9 1 1.8 1-1.6 1 1.6 1-2.3 1 2.4 1-2 1 2.2 1-2.6 1 2.9 1-3.6 1 4.1 1-3.7 1 2.5 1-1.4 1 1.5 1-1.3 1 .9 1-.9 1 .9 1-.9 1 1.1 1-1 1 .9 1-1.1 1 1.2 1-1.4 1 1.4 1-1.1 1 .9 1-.8 1 .8 1-.8 1 .8 1-1 1 1.3 1-1.7 1 1.6 1-1 1 .8 1-1.1 1 1.4 1-1.3 1 1.3 1-1.5 1 1.7 1-1.5 1 1.2 1-1.2 1 1 1-1 1 .8 1-.8 1 1 1-.9 1 1.3 1-1.2 1 .8 1-1 1 1 1-.8 1 .8 1-1 1 1.2 1-2 1 2.7 1-3 1 3.3 1-3 1 2.1 1-1.4 1 1.2 1-1.2 1 1.2 1-1.1 1 .9 1-1.1 1 1.5 1-1.6 1 1.3 1-1 1 1.2 1-1.4 1 1.5 1-1.2 1 .9 1-.8 1 .9 1-1.2 1 1.3 1-1.5 1 1.5 1-1.3 1 1.2 1-1.4 1 1.6 1-1.4 1 1.2 1-1.1 1 1.1 1-1.1 1 1 1-1 1 1.2 1-1 1 .9 1-1.1 1 1 1-1 1 .9 1-1.2 1 1.3 1-.9 1 .9 1-.9 1 .9 1-.9 1 .7 1-.6 1 .7 1-.8 1 1.2 1-1.5 1 1.3 1-1.2 1 1.8 1-2.2 1 1.6 1-1 1 .8 1-.9 1 1.3 1-1.7 1 2.1 1-2.7 1 2.7 1-2.4 1 1.8 1-1.4 1 1.5 1-1.1 1 .8 1-1.2 1 1.8 1-2.1 1 2.2 1-2.1 1 2.3 1-2.3 1 2.1 1-1.9 1 1.7 1-1.4 1 .9 1-.9 1 1 1-1.1 1 1.1 1-1 1 .9 1-.8 1 .8 1-.7 1 .8 1-1 1 1 1-.9 1 .9 1-1 1 .8 1-.7 1 .8 1-1 1 1.2 1-1.1 1 1 1-1.1 1 .9 1-.6 1 .8 1-.8 1 .8 1-1 1 1 1-.8 1 .8 1-1 1 1.5 1-1.7 1 1.4 1-1.8 1 2.4 1-2.4 1 1.9 1-1.3 1 1 1-.9 1 .9 1-.9 1 .9 1-1 1 .9 1-.7 1 .6 1-.9 1 1.4 1-1.3 1 .9 1-.9 1 .9 1-.7 1 .7 1-.7 1 .8 1-1.1 1 1.3 1-1.3 1 1.1 1-.8 1 .8 1-.8 1 .6 1-.9 1 1.2 1-.9 1 .7 1-.9 1 1 1-.8 1 .8 1-.9 1 .8 1-.6 1 .5 1-.5 1 .7 1-.8 1 .8 1-1 1 1 1-1 1 1 1-1 1 1.1 1-1.1 1 1.1 1-1 1 .9 1-1.1 1 1.1 1-.8 1 1 1-1.4 1 1.4 1-1.4 1 1.5 1-1.2 1 .9 1-.8 1 .7 1-.8 1 .9 1-1 1 .9 1-.8 1 .9 1-.9 1 .8 1-.8 1 .9 1-.9 1 1.1 1-1.2 1 1.2 1-1.1 1 1.1 1-1.4 1 1.1 1-.8 1 1 1-1.2 1 1.5 1-1.4 1 1 1-.8 1 1 1-1.4 1 1.5 1-1.3 1 1.2 1-1.3 1 1.3 1-1.2 1 1.1 1-1 1 .8 1-.7 1 1 1-1.2 1 1.1 1-1.5 1 1.8 1-2.1 1 2.2 1-2.7 1 3.3 1-2.8 1 2.6 1-2.8 1 2.2 1-1.6 1 2.2 1-2.8 1 2.5 1-1.8 1 1.5 1-1.5 1 1.8 1-1.6 1 .9 1-.8 1 1 1-1.1 1 1.1 1-1.2 1 1 1-.9 1 1.1 1-1.1 1 .9 1-1.1 1 1.4 1-1.2 1 .9 1-.8 1 .9 1-1 1 .9 1-1.1 1 1.4 1-1.3 1 1.2 1-1.2 1 1.3 1-1.1 1 1.1 1-1.2 1 1.1 1-.9 1 .8 1-1 1 1.1 1-1.1"/>
<path class="t b" d="M138 765.8l1 1.5 1-1.5 1 1.8 1-1.8 1 1.4 1-1.4 1 1.7 1-1.5 1 1.5 1-1.9 1 1.7 1-1.1 1 1.3 1-1.6 1 1.5 1-1.6 1 2 1-1.9 1 1.3 1-1.5 1 2.4 1-2.5 1 2.2 1-2.1 1 2.1 1-1.9 1 1.3 1-1.2 1 1.6 1-1.8 1 1.6 1-1.2 1 1.4 1-1.6 1 1.6 1-1.7 1 1.5 1-1.7 1 1.5 1-1.1 1 1.1 1-1.2 1 1.4 1-1.2 1 1.4 1-1.8 1 1.5 1-1.1 1 1.2 1-1.3 1 1.2 1-1.3 1 1.3 1-1.4 1 1.6 1-1.4 1 1.3 1-1.6 1 2 1-1.9 1 1.3 1-1.3 1 1.8 1-1.9 1 1.4 1-1.1 1 1.5 1-1.7 1 1.7 1-1.5 1 1.6 1-1.7 1 1.3 1-1.3 1 1.5 1-1.3 1 1.2 1-1.3 1 1.3 1-1.5 1 1.3 1-1.3 1 1.5 1-1.6 1 1.8 1-1.6 1 1.6 1-1.6 1 1.2 1-1.1 1 1.6 1-1.6 1 1.2 1-1.4 1 1.6 1-1.4 1 1.1 1-1.1 1 1.3 1-1.5 1 1.7 1-1.9 1 1.7 1-1.6 1 1.7 1-1.4 1 1.3 1-1.7 1 2 1-2.1 1 1.8 1-1.5 1 1.6 1-1.4 1 1.5 1-1.8 1 1.5 1-1.5 1 1.8 1-1.5 1 1.1 1-1.2 1 1.6 1-1.6 1 1.5 1-1.9 1 2 1-1.6 1 1.3 1-1.3 1 1.6 1-1.9 1 1.8 1-1.6 1 1.4 1-1.4 1 1.5 1-1.2 1 1.5 1-1.6 1 1.2 1-1.6 1 1.8 1-2 1 1.8 1-1.4 1 1.4 1-1.5 1 1.9 1-1.6 1 1.2 1-1.4 1 1.3 1-1.3 1 1.4 1-1.7 1 1.8 1-1.5 1 1.4 1-1.2 1 1.4 1-1.9 1 1.7 1-1.4 1 1.3 1-1 1 1.4 1-1.8 1 1.5 1-1.2 1 1.3 1-1.3 1 1.4 1-1.6 1 1.5 1-1.5 1 1.2 1-1.2 1 1.3 1-1.2 1 1.3 1-1.3 1 1.2 1-1.3 1 1.4 1-1.2 1 1.2 1-1.6 1 1.8 1-1.6 1 1.6 1-1.8 1 1.8 1-1.6 1 1.9 1-1.6 1 1.2 1-1.5 1 1.5 1-1.3 1 1.5 1-2 1 1.9 1-1.6 1 1.3 1-1.3 1 1.6 1-1.8 1 1.5 1-1.2 1 1.3 1-2 1 2.6 1-1.8 1 1.4 1-1.5 1 1.4 1-1.3 1 1.2 1-1.4 1 1.6 1-1.5 1 1.5 1-1.6 1 1.6 1-1.7 1 1.7 1-1.7 1 2 1-2.6 1 2.8 1-2.2 1 1.8 1-1.7 1 1.6 1-1.7 1 1.8 1-1.5 1 1.4 1-1.4 1 1.1 1-1.1 1 1.2 1-1.4 1 1.7 1-2 1 1.8 1-1.5 1 1.6 1-1.4 1 1.1 1-1.4 1 1.6 1-1.5 1 1.4 1-1.1 1 1.5 1-1.6 1 1.2 1-1.4 1 1.6 1-1.7 1 1.9 1-2 1 1.5 1-1.2 1 1.5 1-1.6 1 1.3 1-1.3 1 1.5 1-1.2 1 1.2 1-1.3 1 1.3 1-1.5 1 1.4 1-1.1 1 1.2 1-1.5 1 1.8 1-1.5 1 1.1 1-1.2 1 1.1 1-1.1 1 1.5 1-1.7 1 1.5 1-1.5 1 1.2 1-1.3 1 1.7 1-1.4 1 1.5 1-1.9 1 2 1-1.6 1 1.5 1-1.5 1 1.4 1-1.3 1 1.4 1-1.8 1 1.5 1-1.7 1 2 1-1.6 1 1.3 1-1.2 1 1.3 1-1.4 1 1.4 1-1.3 1 1.2 1-1.2 1 1.6 1-2.8 1 3.1 1-2.2 1 1.5 1-1.3 1 1.5 1-1.5 1 1.3 1-1.5 1 1.6 1-1.3 1 1.1 1-1.4 1 1.5 1-1.3 1 1.5 1-1.4 1 1.5 1-1.4 1 1.4 1-1.8 1 1.6 1-1.5 1 1.7 1-1.7 1 1.5 1-1.4 1 1.2 1-1.2 1 1.5 1-1.9 1 2 1-1.7 1 2.5 1-3.1 1 2.9 1-2.6 1 1.8 1-1.3 1 1.2 1-1.3 1 1.3 1-1.3 1 1.5 1-2 1 1.8 1-1.5 1 1.5 1-1.4 1 1.6 1-1.8 1 1.8 1-1.7 1 1.5 1-1.5 1 1.5 1-1.2 1 1.2 1-1.4 1 1.4 1-1.6 1 1.6 1-1.3 1 1.4 1-1.3 1 2.1 1-3 1 2.7 1-2 1 1.3 1-1 1 1.1 1-1.2 1 1.3 1-1.7 1 1.8 1-1.8 1 1.7 1-1.3 1 1.1 1-1.1 1 1.7 1-1.9 1 1.5 1-1.6 1 1.8 1-1.6 1 1.4 1-1.4 1 1.3 1-1.5 1 1.9 1-2.7 1 3.2 1-2.3 1 1.5 1-1.7 1 1.6 1-1.1 1 1.2 1-1.5 1 1.8 1-1.8 1 1.3 1-1 1 1.1 1-1.3 1 1.5 1-1.3 1 1 1-1.5 1 1.9 1-1.9 1 1.6 1-1.3 1 1.2 1-1.4 1 1.9 1-2 1 1.9 1-1.7 1 1.7 1-1.9 1 1.6 1-1.8 1 2.2 1-2 1 2 1-2.3 1 2.1 1-2.1 1 2 1-1.5 1 1.6 1-1.5 1 1.7 1-2.6 1 3.4 1-2.8 1 2.1 1-2.4 1 2 1-1.9 1 1.8 1-1.3 1 1.7 1-1.9 1 1.7 1-1.8 1 1.9 1-2 1 1.8 1-1.3 1 1.6 1-2.2 1 2.1 1-1.6 1 1.7 1-2 1 1.8 1-1.7 1 1.7 1-1.7 1 1.7 1-1.7 1 1.8 1-1.7 1 1.6 1-1.5 1 1.3 1-1.1 1 1 1-1.4 1 1.6 1-1.5 1 1.3 1-1.4 1 1.8 1-1.7 1 1.6 1-1.3 1 1.1 1-1.2 1 1.4 1-1.6 1 1.5 1-1.5 1 1.4 1-1.6 1 1.9 1-2 1 2.3 1-2.5 1 2.8 1-2.9 1 1.9 1-1.4 1 2 1-2.1 1 1.7 1-1.8 1 1.7 1-1.1 1 1.3 1-1.7 1 1.6 1-1.5 1 1.9 1-1.8 1 1.4 1-1.5 1 1.5 1-1.2 1 1.2 1-1.2 1 1.1 1-1.5 1 1.5 1-1.4 1 1.5 1-1.3 1 1.2 1-1.4 1 1.6 1-1.8 1 1.8 1-1.4 1 1.5 1-1.6 1 1.5 1-1.7 1 2.2 1-2.1 1 1.7 1-1.6 1 1.4 1-1.8 1 2 1-1.9 1 1.8 1-1.5 1 1.5 1-1.5 1 1.6 1-1.6 1 1.6 1-1.8 1 1.5 1-1.4 1 2.5 1-3.3 1 2.3 1-1.6 1 1.9 1-2 1 1.8 1-1.5 1 1.4 1-1.5 1 1.8 1-2 1 1.8 1-1.6 1 1.8 1-2.1 1 2 1-2 1 1.8 1-1.5 1 1.4 1-1.4 1 1.6 1-1.4 1 1.3 1-1.6 1 1.7 1-1.8 1 1.8 1-1.4 1 1.1 1-1.3 1 1.5 1-1.3 1 1.5 1-1.6 1 1.6 1-1.6 1 1.3 1-1.7 1 1.9 1-1.6 1 1.4 1-1.8 1 1.8 1-1.5 1 1.6 1-1.4 1 1.5 1-2.3 1 2.4 1-1.8 1 1.6 1-1.3 1 1.8 1-2 1 1.8 1-2 1 2.2 1-2.2 1 1.7 1-1.5 1 1.5 1-1.7 1 1.7 1-1.4 1 1.6 1-1.7 1 1.4 1-1.8 1 1.9 1-1.6 1 1.4 1-1.1 1 1.1 1-1.5 1 2.1 1-2.2 1 2.2 1-2.1 1 2 1-1.9 1 1.4 1-1 1 1.1 1-1.3 1 1.6 1-1.6 1 1.5 1-1.3 1 1.2 1-1.2 1 1.5 1-1.7 1 1.2 1-1.4 1 1.8 1-1.9 1 1.7 1-1.4 1 1.5 1-1.9 1 2.1 1-1.9 1 1.8 1-1.5 1 1.5 1-1.6 1 1.5 1-1.8 1 2 1-2.4 1 2.4 1-1.9 1 1.5 1-1.6 1 1.7 1-1.3 1 1.4 1-2.2 1 2.3 1-2 1 2.1 1-1.7 1 1.3 1-1.2 1 1.5 1-1.5 1 1.4 1-1.4 1 1.2 1-1.6 1 1.6 1-1.7 1 1.8 1-1.4 1 1.5 1-1.5 1 1.5 1-1.5 1 1.4 1-1.7 1 2.2 1-2.1 1 1.4 1-1.4 1 1.4 1-1.3 1 1.5 1-1.5 1 1.4 1-1.8 1 2.7 1-3 1 2.7 1-2.1 1 1.9 1-1.8 1 1.8 1-1.7 1 1.2 1-1.2 1 1.5 1-1.8 1 1.6 1-1.5 1 1.4 1-1.1 1 1.3 1-1.7 1 1.7 1-1.7 1 1.5 1-1.3 1 1.4 1-1.6 1 1.5 1-1.1 1 1.3 1-2 1 2.4 1-1.8 1 1.2 1-1.2 1 1.6 1-1.6 1 1.6 1-1.4 1 1.3 1-1.6 1 1.5 1-1.2 1 1.4 1-1.8 1 1.4 1-1.2 1 1.4 1-1.3 1 1.3 1-1.4 1 1.3 1-1.2 1 1.6 1-1.7 1 1.6 1-1.9 1 1.5 1-1.4 1 1.4 1-1.1 1 1.5 1-1.4 1 1.2 1-1.5 1 1.3 1-2.5 1 3.7 1-2.3 1 1.2 1-1.3 1 1.2 1-1.3 1 1.9 1-2 1 1.3 1-1.3 1 1.6 1-1.3 1 1.2 1-1.2 1 1.4 1-1.5 1 1.4 1-1.4 1 1.6 1-1.6 1 1.3 1-1.5 1 1.8 1-1.4 1 1.3 1-1.4 1 1.2 1-1.3 1 1.3 1-1.5 1 1.5 1-1.7 1 1.7 1-1.4 1 1.4 1-1.2 1 1.4 1-1.5 1 1.6 1-1.6 1 1.6 1-2.2 1 2 1-1.7 1 1.7 1-1.6 1 1.6 1-1.4 1 1.5 1-1.4 1 1.2 1-1.8 1 2 1-1.5 1 1.6 1-1.8 1 1.6 1-1.6 1 1.9 1-1.8 1 1.6 1-1.4 1 1.3 1-1.5 1 1.4 1-1.7 1 2.3 1-2.5 1 2.2 1-1.8 1 1.7 1-1.4 1 1.2 1-1.6 1 1.8 1-1.6 1 1.5 1-2.1 1 2.3 1-2.2 1 2.3 1-1.8 1 1.3 1-1.3 1 1.5 1-1.5 1 1.5 1-1.6 1 2 1-2.3 1 2.2 1-1.9"/>
<path class="t g" d="M138 797.5l1 1.3 1-1.2 1 1.2 1-1.2 1 1.4 1-1.9 1 1.7 1-1.5 1 1.4 1-1.4 1 1.5 1-1.4 1 1.5 1-1.5 1 1.9 1-2.1 1 1.6 1-1.2 1 1.4 1-1.3 1 1.4 1-1.6 1 1.6 1-1.6 1 1.1 1-.9 1 1.2 1-1.3 1 1 1-.9 1 1 1-1 1 1 1-.9 1 1.1 1-1.7 1 2 1-1.9 1 1.7 1-1.2 1 1.1 1-1.5 1 1.5 1-1.4 1 1.5 1-1.5 1 1.2 1-1 1 1.4 1-1.6 1 1.6 1-1.5 1 1.4 1-1.5 1 1.7 1-1.9 1 1.5 1-1.1 1 1 1-1.2 1 1.1 1-1.1 1 1.2 1-1.1 1 1.1 1-1 1 1.2 1-1.3 1 1.2 1-1.3 1 1.4 1-1.3 1 1.4 1-1.4 1 1.5 1-1.5 1 1.3 1-1.6 1 1.8 1-1.7 1 1.4 1-1.3 1 1.6 1-1.6 1 1.4 1-1.2 1 1.3 1-1.4 1 1.6 1-1.8 1 1.7 1-1.7 1 1.5 1-1.3 1 1.1 1-1.2 1 1.1 1-.9 1 1 1-1.2 1 1.4 1-1.4 1 1.7 1-1.7 1 1.3 1-1.3 1 1.2 1-.9 1 1.1 1-1.2 1 1.3 1-1.3 1 1.6 1-1.9 1 1.8 1-2.3 1 2.4 1-2 1 1.7 1-1.7 1 1.5 1-1.1 1 1 1-.9 1 1 1-1.4 1 2.1 1-2 1 1.6 1-1.8 1 1.8 1-1.9 1 2.3 1-3.1 1 3.1 1-3.2 1 3.1 1-2.3 1 2.4 1-2.3 1 2 1-1.5 1 1.3 1-1.4 1 1.3 1-1.5 1 1.4 1-1.1 1 1.2 1-1.8 1 2 1-1.5 1 1.3 1-1.5 1 1.5 1-1.4 1 1.3 1-1 1 1 1-1.1 1 .9 1-1 1 1.2 1-1.4 1 1.7 1-2.4 1 3.2 1-3.3 1 2.7 1-2 1 2 1-2 1 1.6 1-1.3 1 1.1 1-1.5 1 1.6 1-1.3 1 1.3 1-1.1 1 1.1 1-1.4 1 1.7 1-1.6 1 1.4 1-1.2 1 1 1-1.1 1 1.2 1-1.2 1 1.1 1-1.2 1 1.6 1-1.7 1 1.8 1-1.9 1 2.3 1-2 1 1.1 1-1.2 1 1.3 1-1.1 1 1.2 1-1.2 1 1.5 1-2.2 1 2.5 1-2.5 1 2 1-1.5 1 1.5 1-1.8 1 2.2 1-2 1 1.8 1-2 1 2.5 1-3.5 1 3 1-1.9 1 1.8 1-1.6 1 1.6 1-1.7 1 1.7 1-1.3 1 .9 1-1.1 1 1.4 1-1.5 1 1.2 1-1.3 1 1.6 1-1.4 1 1.2 1-1 1 1.1 1-1.6 1 2.2 1-2.5 1 3.2 1-3.5 1 3 1-3.2 1 2.9 1-3 1 3.3 1-2.2 1 1.5 1-1.3 1 1.1 1-1.3 1 1.5 1-1.6 1 1.6 1-1.3 1 1 1-1.2 1 1.3 1-1.3 1 1.5 1-1.5 1 1.7 1-1.8 1 1.5 1-1.3 1 1.1 1-1.1 1 1.3 1-1.2 1 1 1-1.2 1 1.3 1-1.2 1 1.4 1-1.5 1 1.4 1-1.4 1 1.4 1-1.2 1 1.2 1-1.2 1 1.2 1-1.4 1 1.6 1-1.6 1 1.6 1-1.6 1 1.3 1-1.4 1 1.3 1-1.5 1 1.9 1-2 1 2.7 1-2.9 1 2.4 1-1.9 1 1.5 1-1.2 1 1.4 1-1.6 1 1.3 1-1 1 1.2 1-1.8 1 1.8 1-2.3 1 2.8 1-3.1 1 3.9 1-4.4 1 3.7 1-2.6 1 2 1-1.3 1 1.3 1-1.4 1 1.4 1-1.6 1 1.4 1-1.6 1 2.5 1-2.5 1 2 1-1.8 1 1.6 1-1.5 1 2.1 1-2.6 1 2 1-1.4 1 1.4 1-1.7 1 1.6 1-1.6 1 2.4 1-3 1 3.2 1-2.6 1 1.6 1-1.4 1 1.4 1-1.1 1 .9 1-1.1 1 1.3 1-1.1 1 .9 1-1 1 1 1-1 1 1.1 1-1.4 1 1.6 1-1.3 1 1 1-1 1 1 1-1.2 1 1.3 1-1.7 1 1.7 1-1.2 1 1.2 1-1.1 1 .9 1-.9 1 1 1-1.2 1 1.8 1-2.1 1 2 1-2.8 1 3.1 1-2.9 1 2.7 1-2.5 1 2.6 1-2 1 1.3 1-1.1 1 1.5 1-1.6 1 1.5 1-1.6 1 1.6 1-1.3 1 1 1-1.2 1 1.2 1-.9 1 .9 1-1.2 1 1.7 1-1.8 1 1.5 1-1.5 1 1.3 1-1.2 1 1.4 1-1.5 1 1.3 1-1 1 1.3 1-1.5 1 1.1 1-.8 1 .8 1-.9 1 1.3 1-1.2 1 1.2 1-1.4 1 1.1 1-1.2 1 1.5 1-1.4 1 1 1-.8 1 .9 1-1 1 1.2 1-2.1 1 2.8 1-2.2 1 1.3 1-1.1 1 1.1 1-1.5 1 1.8 1-1.4 1 1.4 1-1.5 1 1.4 1-1.6 1 1.7 1-1.3 1 1.2 1-1.3 1 1.2 1-1 1 1.1 1-1 1 .8 1-.9 1 .9 1-1 1 1 1-1.1 1 1.1 1-1.2 1 1.3 1-1.3 1 1.5 1-1.4 1 1.6 1-2 1 1.9 1-1.8 1 1.4 1-1.1 1 1.6 1-2 1 1.7 1-1.3 1 1.1 1-1.2 1 1.5 1-1.4 1 1.6 1-2.2 1 2.2 1-1.6 1 1.4 1-2.2 1 2.4 1-2.1 1 2.6 1-2.6 1 2.4 1-2.1 1 1.6 1-1.5 1 1.2 1-1 1 1.3 1-1.3 1 1.3 1-1.6 1 1.4 1-2 1 3.3 1-3.3 1 2.3 1-1.4 1 1 1-1 1 1 1-.9 1 1 1-1.5 1 1.5 1-1.3 1 1.2 1-1 1 1.4 1-1.6 1 1.5 1-1.4 1 1.2 1-1.1 1 1.2 1-1.2 1 1.5 1-2.1 1 2.5 1-2.6 1 3 1-2.8 1 1.7 1-1.4 1 1.4 1-1.2 1 1.3 1-1.3 1 1.3 1-1.5 1 2 1-2 1 1.6 1-2.1 1 2.1 1-2.2 1 2.2 1-2.4 1 2.8 1-2.3 1 2.1 1-2.6 1 2.6 1-2 1 2.1 1-2 1 1.6 1-2.3 1 2.9 1-2.7 1 2.9 1-2.7 1 2 1-1.6 1 1.4 1-1.3 1 1.1 1-1 1 .9 1-.9 1 1.4 1-1.3 1 1 1-1.3 1 1.7 1-2 1 2.2 1-2 1 2.2 1-3 1 2.7 1-2.4 1 2.2 1-1.9 1 2.4 1-2.5 1 2.7 1-2.9 1 1.8 1-1 1 .9 1-1 1 1.3 1-1.2 1 1.2 1-1.4 1 1.1 1-1 1 1.5 1-1.8 1 2.1 1-2 1 1.5 1-1.2 1 1.2 1-1.4 1 1.5 1-1.2 1 .9 1-1.5 1 1.8 1-1.6 1 1.7 1-1.5 1 1.4 1-1.5 1 1.2 1-1.4 1 1.6 1-1.4 1 1.5 1-1.8 1 1.8 1-1.4 1 1.4 1-1.3 1 1.3 1-1.4 1 1.2 1-1.3 1 1.4 1-1.6 1 2.8 1-3.7 1 3.6 1-2.7 1 1.5 1-1.3 1 1.5 1-1.3 1 1.1 1-1.2 1 1.5 1-1.4 1 1.6 1-1.9 1 2.3 1-2.9 1 3 1-2.7 1 2.1 1-1.9 1 1.5 1-1.1 1 1.1 1-1.2 1 1.1 1-1.1 1 1.2 1-1.1 1 1.1 1-1.3 1 1.3 1-1.1 1 1.3 1-1.4 1 1.1 1-1 1 1.1 1-1.3 1 1.1 1-.8 1 1 1-1.2 1 1.1 1-1.1 1 1.2 1-1.6 1 1.7 1-1.1 1 1 1-1.3 1 1.4 1-1.3 1 1.2 1-1.4 1 1.4 1-1.6 1 2 1-2.2 1 2.2 1-2.2 1 1.8 1-1.2 1 1.8 1-2.3 1 2.2 1-2.9 1 3.6 1-3.7 1 3 1-2.7 1 3.8 1-3.9 1 3.3 1-2.8 1 2.8 1-3 1 2.1 1-1.6 1 1.4 1-1 1 1.3 1-1.8 1 1.8 1-1.4 1 1.3 1-1.9 1 1.9 1-1.3 1 1.1 1-1.5 1 2.1 1-1.6 1 1.1 1-1.3 1 1.8 1-1.9 1 1.4 1-1.3 1 1.8 1-2.8 1 3.2 1-2 1 1.3 1-1.4 1 1.3 1-1.4 1 1.5 1-1.4 1 1.3 1-1.5 1 2 1-2.9 1 3.6 1-2.9 1 1.5 1-1 1 .9 1-.9 1 1.1 1-1 1 1 1-1.2 1 1.1 1-1.1 1 1.1 1-1 1 1.1 1-1.5 1 1.7 1-1.7 1 1.7 1-1.7 1 1.9 1-1.8 1 1.8 1-1.5 1 1.2 1-1.6 1 1.6 1-1.3 1 1.7 1-1.9 1 1.7 1-1.7 1 1.3 1-1 1 1.5 1-2.1 1 2.1 1-2.5 1 2.7 1-2.9 1 3.1 1-3 1 3 1-2.7 1 2.1 1-1.8 1 2.1 1-1.9 1 1.8 1-2.8 1 3 1-2.4 1 3.3 1-3.4 1 2.5 1-2.2 1 1.6 1-1 1 .8 1-.9 1 1.1 1-1.3 1 1.3 1-1 1 1.2 1-1.7 1 2.2 1-2.2 1 2.7 1-3.6 1 3.5 1-3.1 1 2.4 1-1.5 1 1.2 1-1.1 1 1.2 1-1.3 1 1.2 1-1.1 1 1.1 1-1.1 1 1.3 1-1.7 1 1.7 1-2 1 1.7 1-1.3 1 1.1 1-.9 1 1.2 1-1.1 1 .8 1-.8 1 1 1-1.3 1 1.4 1-1.2 1 1.2 1-1.7 1 1.7 1-1.3 1 1.2 1-1.3 1 1.3 1-1.3 1 1.2 1-1.1 1 1.1 1-1.2 1 1.5 1-1.2 1 .9 1-.9 1 1.1 1-1.1 1 .9 1-1.3 1 2.3 1-2.7 1 2.8 1-3.3 1 3.4 1-2.8 1 2.2 1-1.5 1 1 1-1.2 1 1.1 1-1.1 1 1.3 1-1.1 1 1 1-1.3 1 1.5 1-1.6 1 1.6 1-1.3 1 1.6 1-2.3 1 2.8 1-3"/>
<path class="t k" d="M138 829.3l1 1.2 1-1.5 1 1.5 1-1.2 1 1 1-1.1 1 1.3 1-1.3 1 1.2 1-1.2 1 1.1 1-.9 1 .8 1-1 1 1 1-.8 1 .8 1-1.1 1 1.5 1-1.4 1 1.1 1-1 1 1.1 1-1 1 1 1-1.3 1 1.4 1-1.4 1 1.5 1-1.5 1 1.4 1-1.4 1 1.1 1-1 1 1 1-1.2 1 1.3 1-1 1 1.1 1-1.5 1 2.2 1-2 1 1.3 1-1.5 1 1.5 1-1.5 1 1.8 1-1.7 1 1.3 1-1.5 1 1.6 1-1.1 1 1.2 .6-1.2"/>
</g>
<rect x="138.5" y="48.5" width="874" height="807" fill="none" stroke="#000" stroke-width="1.35"/>
<path d="M138 73.5h-5.4M1013 73.5h5.4M138 104.5h-5.4M1013 104.5h5.4M138 136.5h-5.4M1013 136.5h5.4M138 167.5h-5.4M1013 167.5h5.4M138 199.5h-5.4M1013 199.5h5.4M138 230.5h-5.4M1013 230.5h5.4M138 262.5h-5.4M1013 262.5h5.4M138 294.5h-5.4M1013 294.5h5.4M138 325.5h-5.4M1013 325.5h5.4M138 357.5h-5.4M1013 357.5h5.4M138 388.5h-5.4M1013 388.5h5.4M138 420.5h-5.4M1013 420.5h5.4M138 451.5h-5.4M1013 451.5h5.4M138 483.5h-5.4M1013 483.5h5.4M138 514.5h-5.4M1013 514.5h5.4M138 546.5h-5.4M1013 546.5h5.4M138 577.5h-5.4M1013 577.5h5.4M138 609.5h-5.4M1013 609.5h5.4M138 641.5h-5.4M1013 641.5h5.4M138 672.5h-5.4M1013 672.5h5.4M138 704.5h-5.4M1013 704.5h5.4M138 735.5h-5.4M1013 735.5h5.4M138 767.5h-5.4M1013 767.5h5.4M138 798.5h-5.4M1013 798.5h5.4M138 830.5h-5.4M1013 830.5h5.4M138.5 856v5.4M357.5 856v5.4M575.5 856v5.4M794.5 856v5.4M1012.5 856v5.4" stroke="#000" stroke-width="1.25" fill="none"/>
<g class="tx">
<text x="67.01" y="78" font-size="13.7" textLength="58.87" lengthAdjust="spacingAndGlyphs">07:00:00</text><text x="1024.21" y="78" font-size="13.7" textLength="58.87" lengthAdjust="spacingAndGlyphs">08:00:00</text>
<text x="67.01" y="109" font-size="13.7" textLength="58.87" lengthAdjust="spacingAndGlyphs">08:00:00</text><text x="1024.21" y="109" font-size="13.7" textLength="58.87" lengthAdjust="spacingAndGlyphs">09:00:00</text>
<text x="67.01" y="141" font-size="13.7" textLength="58.87" lengthAdjust="spacingAndGlyphs">09:00:00</text><text x="1023.64" y="141" font-size="13.7" textLength="59.45" lengthAdjust="spacingAndGlyphs">10:00:00</text>
<text x="66.44" y="172" font-size="13.7" textLength="59.45" lengthAdjust="spacingAndGlyphs">10:00:00</text><text x="1023.62" y="172" font-size="13.7" textLength="59.48" lengthAdjust="spacingAndGlyphs">11:00:00</text>
<text x="66.42" y="204" font-size="13.7" textLength="59.48" lengthAdjust="spacingAndGlyphs">11:00:00</text><text x="1023.64" y="204" font-size="13.7" textLength="59.45" lengthAdjust="spacingAndGlyphs">12:00:00</text>
<text x="66.44" y="235" font-size="13.7" textLength="59.45" lengthAdjust="spacingAndGlyphs">12:00:00</text><text x="1023.64" y="235" font-size="13.7" textLength="59.45" lengthAdjust="spacingAndGlyphs">13:00:00</text>
<text x="66.44" y="267" font-size="13.7" textLength="59.45" lengthAdjust="spacingAndGlyphs">13:00:00</text><text x="1023.64" y="267" font-size="13.7" textLength="59.45" lengthAdjust="spacingAndGlyphs">14:00:00</text>
<text x="66.44" y="299" font-size="13.7" textLength="59.45" lengthAdjust="spacingAndGlyphs">14:00:00</text><text x="1023.64" y="299" font-size="13.7" textLength="59.45" lengthAdjust="spacingAndGlyphs">15:00:00</text>
<text x="66.44" y="330" font-size="13.7" textLength="59.45" lengthAdjust="spacingAndGlyphs">15:00:00</text><text x="1023.64" y="330" font-size="13.7" textLength="59.45" lengthAdjust="spacingAndGlyphs">16:00:00</text>
<text x="66.44" y="362" font-size="13.7" textLength="59.45" lengthAdjust="spacingAndGlyphs">16:00:00</text><text x="1023.64" y="362" font-size="13.7" textLength="59.45" lengthAdjust="spacingAndGlyphs">17:00:00</text>
<text x="66.44" y="393" font-size="13.7" textLength="59.45" lengthAdjust="spacingAndGlyphs">17:00:00</text><text x="1023.64" y="393" font-size="13.7" textLength="59.45" lengthAdjust="spacingAndGlyphs">18:00:00</text>
<text x="66.44" y="425" font-size="13.7" textLength="59.45" lengthAdjust="spacingAndGlyphs">18:00:00</text><text x="1023.64" y="425" font-size="13.7" textLength="59.45" lengthAdjust="spacingAndGlyphs">19:00:00</text>
<text x="66.44" y="456" font-size="13.7" textLength="59.45" lengthAdjust="spacingAndGlyphs">19:00:00</text><text x="1024.04" y="456" font-size="13.7" textLength="59.04" lengthAdjust="spacingAndGlyphs">20:00:00</text>
<text x="66.84" y="488" font-size="13.7" textLength="59.04" lengthAdjust="spacingAndGlyphs">20:00:00</text><text x="1024.04" y="488" font-size="13.7" textLength="59.04" lengthAdjust="spacingAndGlyphs">21:00:00</text>
<text x="66.84" y="519" font-size="13.7" textLength="59.04" lengthAdjust="spacingAndGlyphs">21:00:00</text><text x="1024.04" y="519" font-size="13.7" textLength="59.04" lengthAdjust="spacingAndGlyphs">22:00:00</text>
<text x="66.84" y="551" font-size="13.7" textLength="59.04" lengthAdjust="spacingAndGlyphs">22:00:00</text><text x="1024.04" y="551" font-size="13.7" textLength="59.04" lengthAdjust="spacingAndGlyphs">23:00:00</text>
<text x="66.84" y="582" font-size="13.7" textLength="59.04" lengthAdjust="spacingAndGlyphs">23:00:00</text><text x="1024.21" y="582" font-size="13.7" textLength="58.87" lengthAdjust="spacingAndGlyphs">00:00:00</text>
<text x="67.01" y="614" font-size="13.7" textLength="58.87" lengthAdjust="spacingAndGlyphs">00:00:00</text><text x="1024.21" y="614" font-size="13.7" textLength="58.87" lengthAdjust="spacingAndGlyphs">01:00:00</text>
<text x="67.01" y="646" font-size="13.7" textLength="58.87" lengthAdjust="spacingAndGlyphs">01:00:00</text><text x="1024.21" y="646" font-size="13.7" textLength="58.87" lengthAdjust="spacingAndGlyphs">02:00:00</text>
<text x="67.01" y="677" font-size="13.7" textLength="58.87" lengthAdjust="spacingAndGlyphs">02:00:00</text><text x="1024.21" y="677" font-size="13.7" textLength="58.87" lengthAdjust="spacingAndGlyphs">03:00:00</text>
<text x="67.01" y="709" font-size="13.7" textLength="58.87" lengthAdjust="spacingAndGlyphs">03:00:00</text><text x="1024.21" y="709" font-size="13.7" textLength="58.87" lengthAdjust="spacingAndGlyphs">04:00:00</text>
<text x="67.01" y="740" font-size="13.7" textLength="58.87" lengthAdjust="spacingAndGlyphs">04:00:00</text><text x="1024.21" y="740" font-size="13.7" textLength="58.87" lengthAdjust="spacingAndGlyphs">05:00:00</text>
<text x="67.01" y="772" font-size="13.7" textLength="58.87" lengthAdjust="spacingAndGlyphs">05:00:00</text><text x="1024.21" y="772" font-size="13.7" textLength="58.87" lengthAdjust="spacingAndGlyphs">06:00:00</text>
<text x="67.01" y="803" font-size="13.7" textLength="58.87" lengthAdjust="spacingAndGlyphs">06:00:00</text><text x="1024.21" y="803" font-size="13.7" textLength="58.87" lengthAdjust="spacingAndGlyphs">07:00:00</text>
<text x="67.01" y="835" font-size="13.7" textLength="58.87" lengthAdjust="spacingAndGlyphs">07:00:00</text><text x="1024.21" y="835" font-size="13.7" textLength="58.87" lengthAdjust="spacingAndGlyphs">08:00:00</text>
<text x="134.99" y="877" font-size="13.7" textLength="8.71" lengthAdjust="spacingAndGlyphs">0</text><text x="347.92" y="877" font-size="13.7" textLength="15.76" lengthAdjust="spacingAndGlyphs">15</text><text x="567.12" y="877" font-size="13.7" textLength="16.96" lengthAdjust="spacingAndGlyphs">30</text><text x="785.99" y="877" font-size="13.7" textLength="15.69" lengthAdjust="spacingAndGlyphs">45</text><text x="1003.93" y="877" font-size="13.7" textLength="16.02" lengthAdjust="spacingAndGlyphs">60</text>
<text x="521.96" y="895.8" font-size="13.7" textLength="30.04" lengthAdjust="spacingAndGlyphs">time</text><text x="556.96" y="895.8" font-size="13.7" textLength="12.25" lengthAdjust="spacingAndGlyphs">in</text><text x="573.17" y="895.8" font-size="13.7" textLength="54.60" lengthAdjust="spacingAndGlyphs">minutes</text>
<text x="436.07" y="34" font-size="20.6" textLength="115.60" lengthAdjust="spacingAndGlyphs">2026-04-19</text><text x="558.67" y="34" font-size="20.6" textLength="153.98" lengthAdjust="spacingAndGlyphs">BK.LITV.00.BHZ</text>
<g transform="translate(53.9 0) rotate(-90)"><text x="-578.51" y="0" font-size="17.9" textLength="32.29" lengthAdjust="spacingAndGlyphs">UTC</text><text x="-539.85" y="0" font-size="17.9" textLength="44.37" lengthAdjust="spacingAndGlyphs">(local</text><text x="-490.39" y="0" font-size="17.9" textLength="36.54" lengthAdjust="spacingAndGlyphs">time</text><text x="-447.29" y="0" font-size="17.9" textLength="13.31" lengthAdjust="spacingAndGlyphs">=</text><text x="-427.89" y="0" font-size="17.9" textLength="31.66" lengthAdjust="spacingAndGlyphs">UTC</text><text x="-389.49" y="0" font-size="17.9" textLength="5.98" lengthAdjust="spacingAndGlyphs">-</text><text x="-377.65" y="0" font-size="17.9" textLength="54.24" lengthAdjust="spacingAndGlyphs">07:00)</text></g>
</g>
</svg>
</body></html>
